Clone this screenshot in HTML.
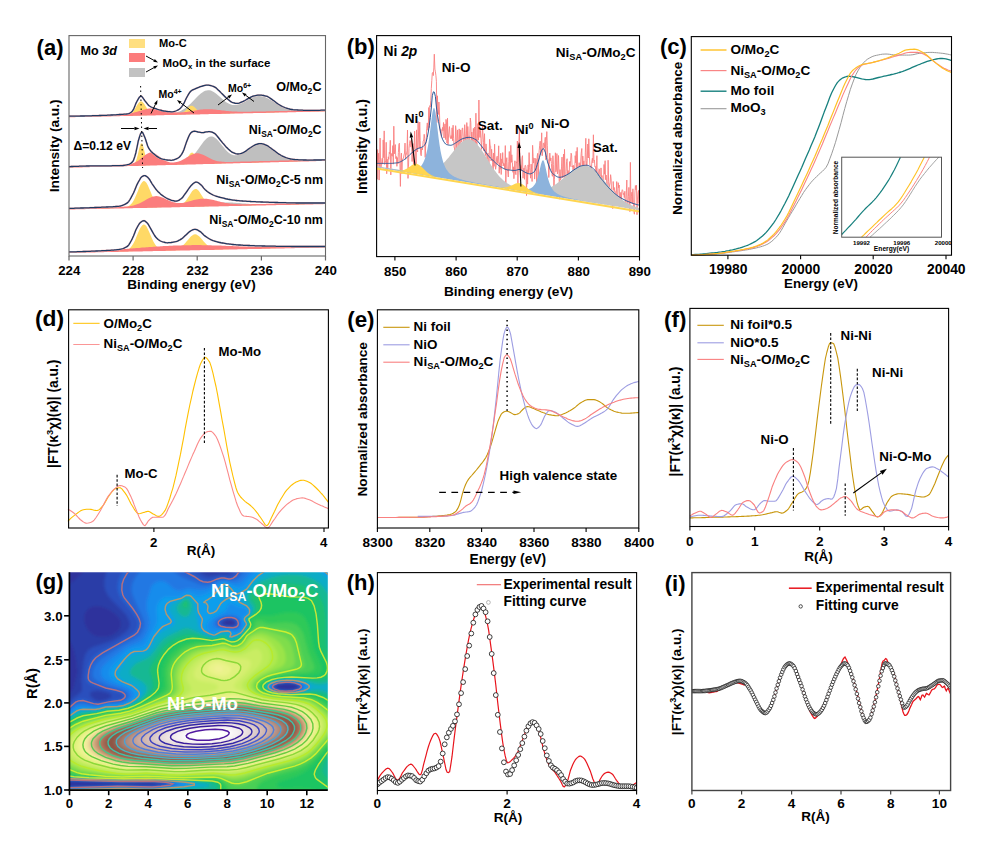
<!DOCTYPE html>
<html><head><meta charset="utf-8"><title>Figure</title>
<style>
html,body{margin:0;padding:0;background:#fff;}
svg{display:block;}
svg text{font-family:'Liberation Sans', sans-serif;}
</style></head><body>
<svg width="1005" height="841" viewBox="0 0 1005 841">
<rect x="0" y="0" width="1005" height="841" fill="#fff"/>
<g id="panel_a">
<polygon points="69,116.4 70.4,116.4 71.9,116.3 73.3,116.3 74.7,116.3 76.2,116.2 77.6,116.2 79,116.2 80.5,116.1 81.9,116.1 83.3,116.1 84.8,116 86.2,116 87.6,116 89.1,115.9 90.5,115.9 91.9,115.9 93.4,115.8 94.8,115.8 96.2,115.8 97.7,115.8 99.1,115.7 100.5,115.7 102,115.7 103.4,115.6 104.8,115.6 106.3,115.6 107.7,115.5 109.1,115.5 110.6,115.5 112,115.4 113.4,115.4 114.9,115.4 116.3,115.3 117.7,115.3 119.2,115.3 120.6,115.2 122,115.2 123.5,115.2 124.9,115.1 126.3,115.1 127.8,115.1 129.2,115 130.6,115 132.1,115 133.5,114.9 134.9,114.9 136.3,114.9 137.8,114.8 139.2,114.8 140.6,114.8 142.1,114.7 143.5,114.7 144.9,114.7 146.4,114.6 147.8,114.6 149.2,114.6 150.7,114.6 152.1,114.5 153.5,114.5 155,114.4 156.4,114.4 157.8,114.4 159.3,114.3 160.7,114.3 162.1,114.2 163.6,114.2 165,114.1 166.4,114 167.9,113.9 169.3,113.8 170.7,113.6 172.2,113.4 173.6,113.1 175,112.8 176.5,112.5 177.9,112 179.3,111.5 180.8,110.9 182.2,110.1 183.6,109.3 185.1,108.3 186.5,107.3 187.9,106.1 189.4,104.8 190.8,103.4 192.2,102 193.7,100.5 195.1,99 196.5,97.5 198,96 199.4,94.7 200.8,93.4 202.3,92.4 203.7,91.5 205.1,90.8 206.6,90.4 208,90.2 209.4,90.3 210.9,90.6 212.3,91.2 213.7,91.9 215.2,92.9 216.6,94 218,95.2 219.5,96.5 220.9,97.8 222.3,99 223.8,100.3 225.2,101.4 226.6,102.4 228.1,103.3 229.5,104 230.9,104.5 232.4,104.9 233.8,105.1 235.2,105.1 236.7,104.9 238.1,104.6 239.5,104.2 241,103.6 242.4,102.9 243.8,102.2 245.3,101.4 246.7,100.6 248.1,99.8 249.6,99 251,98.3 252.4,97.6 253.9,97.1 255.3,96.6 256.7,96.3 258.2,96.1 259.6,96.1 261,96.2 262.4,96.4 263.9,96.8 265.3,97.3 266.7,97.9 268.2,98.6 269.6,99.4 271,100.2 272.5,101.1 273.9,102 275.3,102.9 276.8,103.8 278.2,104.6 279.6,105.4 281.1,106.2 282.5,106.9 283.9,107.5 285.4,108.1 286.8,108.6 288.2,109.1 289.7,109.4 291.1,109.8 292.5,110 294,110.3 295.4,110.4 296.8,110.6 298.3,110.7 299.7,110.8 301.1,110.8 302.6,110.9 304,110.9 305.4,110.9 306.9,110.9 308.3,110.9 309.7,110.9 311.2,110.9 312.6,110.9 314,110.8 315.5,110.8 316.9,110.8 318.3,110.8 319.8,110.7 321.2,110.7 322.6,110.7 324.1,110.6 325.5,110.6 325.5,111.1 324.1,111.1 322.6,111.2 321.2,111.2 319.8,111.2 318.3,111.3 316.9,111.3 315.5,111.3 314,111.4 312.6,111.4 311.2,111.4 309.7,111.5 308.3,111.5 306.9,111.5 305.4,111.6 304,111.6 302.6,111.6 301.1,111.7 299.7,111.7 298.3,111.7 296.8,111.7 295.4,111.8 294,111.8 292.5,111.8 291.1,111.9 289.7,111.9 288.2,111.9 286.8,112 285.4,112 283.9,112 282.5,112.1 281.1,112.1 279.6,112.1 278.2,112.2 276.8,112.2 275.3,112.2 273.9,112.3 272.5,112.3 271,112.3 269.6,112.4 268.2,112.4 266.7,112.4 265.3,112.5 263.9,112.5 262.4,112.5 261,112.6 259.6,112.6 258.2,112.6 256.7,112.7 255.3,112.7 253.9,112.7 252.4,112.8 251,112.8 249.6,112.8 248.1,112.8 246.7,112.9 245.3,112.9 243.8,112.9 242.4,113 241,113 239.5,113 238.1,113.1 236.7,113.1 235.2,113.1 233.8,113.2 232.4,113.2 230.9,113.2 229.5,113.3 228.1,113.3 226.6,113.3 225.2,113.4 223.8,113.4 222.3,113.4 220.9,113.5 219.5,113.5 218,113.5 216.6,113.6 215.2,113.6 213.7,113.6 212.3,113.7 210.9,113.7 209.4,113.7 208,113.8 206.6,113.8 205.1,113.8 203.7,113.9 202.3,113.9 200.8,113.9 199.4,114 198,114 196.5,114 195.1,114 193.7,114.1 192.2,114.1 190.8,114.1 189.4,114.2 187.9,114.2 186.5,114.2 185.1,114.3 183.6,114.3 182.2,114.3 180.8,114.4 179.3,114.4 177.9,114.4 176.5,114.5 175,114.5 173.6,114.5 172.2,114.6 170.7,114.6 169.3,114.6 167.9,114.7 166.4,114.7 165,114.7 163.6,114.8 162.1,114.8 160.7,114.8 159.3,114.9 157.8,114.9 156.4,114.9 155,115 153.5,115 152.1,115 150.7,115.1 149.2,115.1 147.8,115.1 146.4,115.2 144.9,115.2 143.5,115.2 142.1,115.2 140.6,115.3 139.2,115.3 137.8,115.3 136.3,115.4 134.9,115.4 133.5,115.4 132.1,115.5 130.6,115.5 129.2,115.5 127.8,115.6 126.3,115.6 124.9,115.6 123.5,115.7 122,115.7 120.6,115.7 119.2,115.8 117.7,115.8 116.3,115.8 114.9,115.9 113.4,115.9 112,115.9 110.6,116 109.1,116 107.7,116 106.3,116.1 104.8,116.1 103.4,116.1 102,116.2 100.5,116.2 99.1,116.2 97.7,116.3 96.2,116.3 94.8,116.3 93.4,116.3 91.9,116.4 90.5,116.4 89.1,116.4 87.6,116.5 86.2,116.5 84.8,116.5 83.3,116.6 81.9,116.6 80.5,116.6 79,116.7 77.6,116.7 76.2,116.7 74.7,116.8 73.3,116.8 71.9,116.8 70.4,116.9 69,116.9" fill="#bfbfbf" stroke="none" stroke-width="0" stroke-linejoin="round"/>
<polygon points="69,116.4 70.4,116.4 71.9,116.3 73.3,116.3 74.7,116.3 76.2,116.2 77.6,116.2 79,116.2 80.5,116.1 81.9,116.1 83.3,116.1 84.8,116 86.2,116 87.6,116 89.1,115.9 90.5,115.9 91.9,115.9 93.4,115.8 94.8,115.8 96.2,115.8 97.7,115.8 99.1,115.7 100.5,115.7 102,115.7 103.4,115.6 104.8,115.6 106.3,115.6 107.7,115.5 109.1,115.5 110.6,115.5 112,115.4 113.4,115.4 114.9,115.4 116.3,115.3 117.7,115.3 119.2,115.3 120.6,115.2 122,115.2 123.5,115.2 124.9,115.1 126.3,115 127.8,114.8 129.2,114.4 130.6,113.7 132.1,112.6 133.5,111 134.9,108.9 136.3,106.4 137.8,104.1 139.2,102.2 140.6,101.3 142.1,101.6 143.5,102.9 144.9,105.1 146.4,107.4 147.8,109.7 149.2,111.5 150.7,112.8 152.1,113.6 153.5,114 155,114.3 156.4,114.3 157.8,114.4 159.3,114.3 160.7,114.3 162.1,114.3 163.6,114.3 165,114.2 166.4,114.2 167.9,114.2 169.3,114.1 170.7,114.1 172.2,114.1 173.6,114 175,114 176.5,113.9 177.9,113.9 179.3,113.7 180.8,113.4 182.2,112.9 183.6,112.1 185.1,110.9 186.5,109.4 187.9,107.9 189.4,106.5 190.8,105.7 192.2,105.7 193.7,106.5 195.1,107.7 196.5,109.2 198,110.6 199.4,111.7 200.8,112.5 202.3,112.9 203.7,113.2 205.1,113.2 206.6,113.3 208,113.2 209.4,113.2 210.9,113.2 212.3,113.2 213.7,113.1 215.2,113.1 216.6,113.1 218,113 219.5,113 220.9,113 222.3,112.9 223.8,112.9 225.2,112.9 226.6,112.8 228.1,112.8 229.5,112.8 230.9,112.7 232.4,112.7 233.8,112.7 235.2,112.6 236.7,112.6 238.1,112.6 239.5,112.5 241,112.5 242.4,112.5 243.8,112.4 245.3,112.4 246.7,112.4 248.1,112.3 249.6,112.3 251,112.3 252.4,112.3 253.9,112.2 255.3,112.2 256.7,112.2 258.2,112.1 259.6,112.1 261,112.1 262.4,112 263.9,112 265.3,112 266.7,111.9 268.2,111.9 269.6,111.9 271,111.8 272.5,111.8 273.9,111.8 275.3,111.7 276.8,111.7 278.2,111.7 279.6,111.6 281.1,111.6 282.5,111.6 283.9,111.5 285.4,111.5 286.8,111.5 288.2,111.4 289.7,111.4 291.1,111.4 292.5,111.3 294,111.3 295.4,111.3 296.8,111.2 298.3,111.2 299.7,111.2 301.1,111.2 302.6,111.1 304,111.1 305.4,111.1 306.9,111 308.3,111 309.7,111 311.2,110.9 312.6,110.9 314,110.9 315.5,110.8 316.9,110.8 318.3,110.8 319.8,110.7 321.2,110.7 322.6,110.7 324.1,110.6 325.5,110.6 325.5,111.1 324.1,111.1 322.6,111.2 321.2,111.2 319.8,111.2 318.3,111.3 316.9,111.3 315.5,111.3 314,111.4 312.6,111.4 311.2,111.4 309.7,111.5 308.3,111.5 306.9,111.5 305.4,111.6 304,111.6 302.6,111.6 301.1,111.7 299.7,111.7 298.3,111.7 296.8,111.7 295.4,111.8 294,111.8 292.5,111.8 291.1,111.9 289.7,111.9 288.2,111.9 286.8,112 285.4,112 283.9,112 282.5,112.1 281.1,112.1 279.6,112.1 278.2,112.2 276.8,112.2 275.3,112.2 273.9,112.3 272.5,112.3 271,112.3 269.6,112.4 268.2,112.4 266.7,112.4 265.3,112.5 263.9,112.5 262.4,112.5 261,112.6 259.6,112.6 258.2,112.6 256.7,112.7 255.3,112.7 253.9,112.7 252.4,112.8 251,112.8 249.6,112.8 248.1,112.8 246.7,112.9 245.3,112.9 243.8,112.9 242.4,113 241,113 239.5,113 238.1,113.1 236.7,113.1 235.2,113.1 233.8,113.2 232.4,113.2 230.9,113.2 229.5,113.3 228.1,113.3 226.6,113.3 225.2,113.4 223.8,113.4 222.3,113.4 220.9,113.5 219.5,113.5 218,113.5 216.6,113.6 215.2,113.6 213.7,113.6 212.3,113.7 210.9,113.7 209.4,113.7 208,113.8 206.6,113.8 205.1,113.8 203.7,113.9 202.3,113.9 200.8,113.9 199.4,114 198,114 196.5,114 195.1,114 193.7,114.1 192.2,114.1 190.8,114.1 189.4,114.2 187.9,114.2 186.5,114.2 185.1,114.3 183.6,114.3 182.2,114.3 180.8,114.4 179.3,114.4 177.9,114.4 176.5,114.5 175,114.5 173.6,114.5 172.2,114.6 170.7,114.6 169.3,114.6 167.9,114.7 166.4,114.7 165,114.7 163.6,114.8 162.1,114.8 160.7,114.8 159.3,114.9 157.8,114.9 156.4,114.9 155,115 153.5,115 152.1,115 150.7,115.1 149.2,115.1 147.8,115.1 146.4,115.2 144.9,115.2 143.5,115.2 142.1,115.2 140.6,115.3 139.2,115.3 137.8,115.3 136.3,115.4 134.9,115.4 133.5,115.4 132.1,115.5 130.6,115.5 129.2,115.5 127.8,115.6 126.3,115.6 124.9,115.6 123.5,115.7 122,115.7 120.6,115.7 119.2,115.8 117.7,115.8 116.3,115.8 114.9,115.9 113.4,115.9 112,115.9 110.6,116 109.1,116 107.7,116 106.3,116.1 104.8,116.1 103.4,116.1 102,116.2 100.5,116.2 99.1,116.2 97.7,116.3 96.2,116.3 94.8,116.3 93.4,116.3 91.9,116.4 90.5,116.4 89.1,116.4 87.6,116.5 86.2,116.5 84.8,116.5 83.3,116.6 81.9,116.6 80.5,116.6 79,116.7 77.6,116.7 76.2,116.7 74.7,116.8 73.3,116.8 71.9,116.8 70.4,116.9 69,116.9" fill="#ffd966" stroke="none" stroke-width="0" stroke-linejoin="round"/>
<polygon points="69,115.8 70.4,115.8 71.9,115.7 73.3,115.7 74.7,115.7 76.2,115.6 77.6,115.6 79,115.6 80.5,115.5 81.9,115.5 83.3,115.5 84.8,115.4 86.2,115.4 87.6,115.4 89.1,115.3 90.5,115.3 91.9,115.3 93.4,115.2 94.8,115.2 96.2,115.2 97.7,115.2 99.1,115.1 100.5,115.1 102,115.1 103.4,115 104.8,115 106.3,115 107.7,114.9 109.1,114.9 110.6,114.8 112,114.8 113.4,114.8 114.9,114.7 116.3,114.7 117.7,114.6 119.2,114.5 120.6,114.5 122,114.4 123.5,114.2 124.9,114.1 126.3,113.9 127.8,113.8 129.2,113.5 130.6,113.3 132.1,113 133.5,112.7 134.9,112.3 136.3,111.9 137.8,111.5 139.2,111.1 140.6,110.7 142.1,110.2 143.5,109.8 144.9,109.5 146.4,109.1 147.8,108.8 149.2,108.6 150.7,108.5 152.1,108.4 153.5,108.4 155,108.5 156.4,108.7 157.8,108.9 159.3,109.2 160.7,109.5 162.1,109.8 163.6,110.2 165,110.5 166.4,110.9 167.9,111.2 169.3,111.5 170.7,111.8 172.2,112 173.6,112.1 175,112.3 176.5,112.4 177.9,112.4 179.3,112.4 180.8,112.4 182.2,112.3 183.6,112.2 185.1,112 186.5,111.9 187.9,111.7 189.4,111.5 190.8,111.2 192.2,111 193.7,110.7 195.1,110.5 196.5,110.3 198,110 199.4,109.8 200.8,109.6 202.3,109.5 203.7,109.3 205.1,109.3 206.6,109.2 208,109.2 209.4,109.2 210.9,109.2 212.3,109.3 213.7,109.4 215.2,109.5 216.6,109.7 218,109.9 219.5,110 220.9,110.2 222.3,110.4 223.8,110.6 225.2,110.8 226.6,110.9 228.1,111.1 229.5,111.2 230.9,111.3 232.4,111.4 233.8,111.5 235.2,111.6 236.7,111.6 238.1,111.7 239.5,111.7 241,111.7 242.4,111.7 243.8,111.7 245.3,111.7 246.7,111.7 248.1,111.7 249.6,111.7 251,111.7 252.4,111.6 253.9,111.6 255.3,111.6 256.7,111.5 258.2,111.5 259.6,111.5 261,111.5 262.4,111.4 263.9,111.4 265.3,111.4 266.7,111.3 268.2,111.3 269.6,111.3 271,111.2 272.5,111.2 273.9,111.2 275.3,111.1 276.8,111.1 278.2,111.1 279.6,111 281.1,111 282.5,111 283.9,110.9 285.4,110.9 286.8,110.9 288.2,110.8 289.7,110.8 291.1,110.8 292.5,110.7 294,110.7 295.4,110.7 296.8,110.6 298.3,110.6 299.7,110.6 301.1,110.6 302.6,110.5 304,110.5 305.4,110.5 306.9,110.4 308.3,110.4 309.7,110.4 311.2,110.3 312.6,110.3 314,110.3 315.5,110.2 316.9,110.2 318.3,110.2 319.8,110.1 321.2,110.1 322.6,110.1 324.1,110 325.5,110 325.5,111.5 324.1,111.5 322.6,111.6 321.2,111.6 319.8,111.6 318.3,111.7 316.9,111.7 315.5,111.7 314,111.8 312.6,111.8 311.2,111.8 309.7,111.9 308.3,111.9 306.9,111.9 305.4,112 304,112 302.6,112 301.1,112.1 299.7,112.1 298.3,112.1 296.8,112.1 295.4,112.2 294,112.2 292.5,112.2 291.1,112.3 289.7,112.3 288.2,112.3 286.8,112.4 285.4,112.4 283.9,112.4 282.5,112.5 281.1,112.5 279.6,112.5 278.2,112.6 276.8,112.6 275.3,112.6 273.9,112.7 272.5,112.7 271,112.7 269.6,112.8 268.2,112.8 266.7,112.8 265.3,112.9 263.9,112.9 262.4,112.9 261,113 259.6,113 258.2,113 256.7,113.1 255.3,113.1 253.9,113.1 252.4,113.2 251,113.2 249.6,113.2 248.1,113.2 246.7,113.3 245.3,113.3 243.8,113.3 242.4,113.4 241,113.4 239.5,113.4 238.1,113.5 236.7,113.5 235.2,113.5 233.8,113.6 232.4,113.6 230.9,113.6 229.5,113.7 228.1,113.7 226.6,113.7 225.2,113.8 223.8,113.8 222.3,113.8 220.9,113.9 219.5,113.9 218,113.9 216.6,114 215.2,114 213.7,114 212.3,114.1 210.9,114.1 209.4,114.1 208,114.2 206.6,114.2 205.1,114.2 203.7,114.3 202.3,114.3 200.8,114.3 199.4,114.4 198,114.4 196.5,114.4 195.1,114.4 193.7,114.5 192.2,114.5 190.8,114.5 189.4,114.6 187.9,114.6 186.5,114.6 185.1,114.7 183.6,114.7 182.2,114.7 180.8,114.8 179.3,114.8 177.9,114.8 176.5,114.9 175,114.9 173.6,114.9 172.2,115 170.7,115 169.3,115 167.9,115.1 166.4,115.1 165,115.1 163.6,115.2 162.1,115.2 160.7,115.2 159.3,115.3 157.8,115.3 156.4,115.3 155,115.4 153.5,115.4 152.1,115.4 150.7,115.5 149.2,115.5 147.8,115.5 146.4,115.6 144.9,115.6 143.5,115.6 142.1,115.6 140.6,115.7 139.2,115.7 137.8,115.7 136.3,115.8 134.9,115.8 133.5,115.8 132.1,115.9 130.6,115.9 129.2,115.9 127.8,116 126.3,116 124.9,116 123.5,116.1 122,116.1 120.6,116.1 119.2,116.2 117.7,116.2 116.3,116.2 114.9,116.3 113.4,116.3 112,116.3 110.6,116.4 109.1,116.4 107.7,116.4 106.3,116.5 104.8,116.5 103.4,116.5 102,116.6 100.5,116.6 99.1,116.6 97.7,116.7 96.2,116.7 94.8,116.7 93.4,116.7 91.9,116.8 90.5,116.8 89.1,116.8 87.6,116.9 86.2,116.9 84.8,116.9 83.3,117 81.9,117 80.5,117 79,117.1 77.6,117.1 76.2,117.1 74.7,117.2 73.3,117.2 71.9,117.2 70.4,117.3 69,117.3" fill="#fb7d7d" stroke="none" stroke-width="0" stroke-linejoin="round"/>
<polyline points="69,116.2 70.2,116.2 71.3,116.2 72.5,116.2 73.7,116.2 74.9,116.1 76,116.1 77.2,116.1 78.4,116.1 79.6,116.1 80.7,116 81.9,116 83.1,116 84.2,116 85.4,115.9 86.6,115.9 87.8,115.9 88.9,115.8 90.1,115.8 91.3,115.8 92.5,115.7 93.6,115.7 94.8,115.7 96,115.6 97.1,115.6 98.3,115.6 99.5,115.5 100.7,115.5 101.8,115.4 103,115.4 104.2,115.4 105.4,115.3 106.5,115.3 107.7,115.2 108.9,115.2 110,115.1 111.2,115 112.4,115 113.6,114.9 114.7,114.8 115.9,114.8 117.1,114.7 118.3,114.6 119.4,114.5 120.6,114.5 121.8,114.4 122.9,114.3 124.1,114.2 125.3,114.1 126.5,114 127.6,113.8 128.8,113.6 130,113 131.2,112.2 132.3,111.2 133.5,109.4 134.7,106.6 135.8,103.6 137,101.2 138.2,99.1 139.4,97.2 140.5,96.2 141.7,96.4 142.9,97.8 144,99.5 145.2,101.1 146.4,102.6 147.6,104.2 148.7,105.5 149.9,106.3 151.1,107 152.3,107.5 153.4,107.9 154.6,108.3 155.8,108.7 156.9,109.1 158.1,109.5 159.3,109.9 160.5,110.2 161.6,110.5 162.8,110.8 164,111 165.2,111.1 166.3,111.3 167.5,111.5 168.7,111.6 169.8,111.7 171,111.8 172.2,111.8 173.4,111.7 174.5,111.4 175.7,111 176.9,110.5 178.1,109.9 179.2,109.2 180.4,108.2 181.6,106.9 182.7,105.4 183.9,103.4 185.1,100.8 186.3,98.3 187.4,96.2 188.6,94.1 189.8,92.3 191,91 192.1,90.2 193.3,89.6 194.5,89.1 195.6,88.6 196.8,88.1 198,87.6 199.2,87.1 200.3,86.6 201.5,86.3 202.7,86 203.9,85.7 205,85.4 206.2,85.2 207.4,85.1 208.5,85.1 209.7,85.3 210.9,85.6 212.1,86 213.2,86.4 214.4,86.9 215.6,87.6 216.8,88.6 217.9,89.7 219.1,90.8 220.3,91.9 221.4,93.1 222.6,94.3 223.8,95.5 225,96.7 226.1,97.8 227.3,98.8 228.5,99.8 229.7,100.8 230.8,101.6 232,102.3 233.2,102.7 234.3,103 235.5,103.3 236.7,103.4 237.9,103.4 239,103.1 240.2,102.7 241.4,102.2 242.6,101.7 243.7,101.1 244.9,100.5 246.1,99.8 247.2,99.1 248.4,98.4 249.6,97.8 250.8,97.2 251.9,96.7 253.1,96.2 254.3,95.8 255.5,95.6 256.6,95.4 257.8,95.2 259,95.1 260.1,95.1 261.3,95.1 262.5,95.3 263.7,95.5 264.8,95.8 266,96.1 267.2,96.4 268.3,97 269.5,97.8 270.7,98.6 271.9,99.4 273,100.2 274.2,101.1 275.4,102 276.6,102.9 277.7,103.8 278.9,104.5 280.1,105.2 281.2,105.9 282.4,106.5 283.6,107 284.8,107.5 285.9,107.9 287.1,108.3 288.3,108.7 289.5,109 290.6,109.3 291.8,109.5 293,109.7 294.1,109.8 295.3,109.8 296.5,109.9 297.7,110 298.8,110.1 300,110.1 301.2,110.2 302.4,110.2 303.5,110.3 304.7,110.3 305.9,110.3 307,110.3 308.2,110.3 309.4,110.3 310.6,110.3 311.7,110.3 312.9,110.3 314.1,110.3 315.3,110.3 316.4,110.3 317.6,110.3 318.8,110.3 319.9,110.3 321.1,110.2 322.3,110.2 323.5,110.2 324.6,110.2 325.8,110.1" fill="none" stroke="#f8bcbc" stroke-width="1.8" stroke-linejoin="round"/>
<polyline points="69,116.2 70.2,116.2 71.3,116.2 72.5,116.2 73.7,116.2 74.9,116.1 76,116.1 77.2,116.1 78.4,116.1 79.6,116.1 80.7,116 81.9,116 83.1,116 84.2,116 85.4,115.9 86.6,115.9 87.8,115.9 88.9,115.8 90.1,115.8 91.3,115.8 92.5,115.7 93.6,115.7 94.8,115.7 96,115.6 97.1,115.6 98.3,115.6 99.5,115.5 100.7,115.5 101.8,115.4 103,115.4 104.2,115.4 105.4,115.3 106.5,115.3 107.7,115.2 108.9,115.2 110,115.1 111.2,115 112.4,115 113.6,114.9 114.7,114.8 115.9,114.8 117.1,114.7 118.3,114.6 119.4,114.5 120.6,114.5 121.8,114.4 122.9,114.3 124.1,114.2 125.3,114.1 126.5,114 127.6,113.8 128.8,113.6 130,113 131.2,112.2 132.3,111.2 133.5,109.4 134.7,106.6 135.8,103.6 137,101.2 138.2,99.1 139.4,97.2 140.5,96.2 141.7,96.4 142.9,97.8 144,99.5 145.2,101.1 146.4,102.6 147.6,104.2 148.7,105.5 149.9,106.3 151.1,107 152.3,107.5 153.4,107.9 154.6,108.3 155.8,108.7 156.9,109.1 158.1,109.5 159.3,109.9 160.5,110.2 161.6,110.5 162.8,110.8 164,111 165.2,111.1 166.3,111.3 167.5,111.5 168.7,111.6 169.8,111.7 171,111.8 172.2,111.8 173.4,111.7 174.5,111.4 175.7,111 176.9,110.5 178.1,109.9 179.2,109.2 180.4,108.2 181.6,106.9 182.7,105.4 183.9,103.4 185.1,100.8 186.3,98.3 187.4,96.2 188.6,94.1 189.8,92.3 191,91 192.1,90.2 193.3,89.6 194.5,89.1 195.6,88.6 196.8,88.1 198,87.6 199.2,87.1 200.3,86.6 201.5,86.3 202.7,86 203.9,85.7 205,85.4 206.2,85.2 207.4,85.1 208.5,85.1 209.7,85.3 210.9,85.6 212.1,86 213.2,86.4 214.4,86.9 215.6,87.6 216.8,88.6 217.9,89.7 219.1,90.8 220.3,91.9 221.4,93.1 222.6,94.3 223.8,95.5 225,96.7 226.1,97.8 227.3,98.8 228.5,99.8 229.7,100.8 230.8,101.6 232,102.3 233.2,102.7 234.3,103 235.5,103.3 236.7,103.4 237.9,103.4 239,103.1 240.2,102.7 241.4,102.2 242.6,101.7 243.7,101.1 244.9,100.5 246.1,99.8 247.2,99.1 248.4,98.4 249.6,97.8 250.8,97.2 251.9,96.7 253.1,96.2 254.3,95.8 255.5,95.6 256.6,95.4 257.8,95.2 259,95.1 260.1,95.1 261.3,95.1 262.5,95.3 263.7,95.5 264.8,95.8 266,96.1 267.2,96.4 268.3,97 269.5,97.8 270.7,98.6 271.9,99.4 273,100.2 274.2,101.1 275.4,102 276.6,102.9 277.7,103.8 278.9,104.5 280.1,105.2 281.2,105.9 282.4,106.5 283.6,107 284.8,107.5 285.9,107.9 287.1,108.3 288.3,108.7 289.5,109 290.6,109.3 291.8,109.5 293,109.7 294.1,109.8 295.3,109.8 296.5,109.9 297.7,110 298.8,110.1 300,110.1 301.2,110.2 302.4,110.2 303.5,110.3 304.7,110.3 305.9,110.3 307,110.3 308.2,110.3 309.4,110.3 310.6,110.3 311.7,110.3 312.9,110.3 314.1,110.3 315.3,110.3 316.4,110.3 317.6,110.3 318.8,110.3 319.9,110.3 321.1,110.2 322.3,110.2 323.5,110.2 324.6,110.2 325.8,110.1" fill="none" stroke="#1f3b63" stroke-width="1.3" stroke-linejoin="round"/>
<polygon points="69,166.8 70.4,166.8 71.9,166.7 73.3,166.7 74.7,166.6 76.2,166.6 77.6,166.6 79,166.5 80.5,166.5 81.9,166.5 83.3,166.4 84.8,166.4 86.2,166.3 87.6,166.3 89.1,166.3 90.5,166.2 91.9,166.2 93.4,166.2 94.8,166.1 96.2,166.1 97.7,166 99.1,166 100.5,166 102,165.9 103.4,165.9 104.8,165.9 106.3,165.8 107.7,165.8 109.1,165.7 110.6,165.7 112,165.7 113.4,165.6 114.9,165.6 116.3,165.5 117.7,165.5 119.2,165.5 120.6,165.4 122,165.4 123.5,165.4 124.9,165.3 126.3,165.3 127.8,165.2 129.2,165.2 130.6,165.2 132.1,165.1 133.5,165.1 134.9,165.1 136.3,165 137.8,165 139.2,164.9 140.6,164.9 142.1,164.9 143.5,164.8 144.9,164.8 146.4,164.7 147.8,164.7 149.2,164.7 150.7,164.6 152.1,164.6 153.5,164.6 155,164.5 156.4,164.5 157.8,164.4 159.3,164.4 160.7,164.4 162.1,164.3 163.6,164.3 165,164.2 166.4,164.2 167.9,164.2 169.3,164.1 170.7,164 172.2,164 173.6,163.9 175,163.8 176.5,163.7 177.9,163.5 179.3,163.3 180.8,163 182.2,162.6 183.6,162.2 185.1,161.6 186.5,160.9 187.9,160.1 189.4,159.1 190.8,157.9 192.2,156.5 193.7,155 195.1,153.3 196.5,151.4 198,149.4 199.4,147.4 200.8,145.4 202.3,143.4 203.7,141.6 205.1,139.9 206.6,138.5 208,137.5 209.4,136.8 210.9,136.5 212.3,136.6 213.7,137.1 215.2,138 216.6,139.1 218,140.6 219.5,142.2 220.9,144 222.3,145.8 223.8,147.6 225.2,149.3 226.6,150.8 228.1,152.2 229.5,153.3 230.9,154.2 232.4,154.8 233.8,155.2 235.2,155.3 236.7,155.2 238.1,154.9 239.5,154.4 241,153.8 242.4,153 243.8,152.1 245.3,151.1 246.7,150.1 248.1,149 249.6,148 251,147.1 252.4,146.2 253.9,145.4 255.3,144.8 256.7,144.3 258.2,143.9 259.6,143.8 261,143.8 262.4,143.9 263.9,144.3 265.3,144.8 266.7,145.4 268.2,146.2 269.6,147 271,148 272.5,149 273.9,150 275.3,151 276.8,152.1 278.2,153.1 279.6,154 281.1,154.9 282.5,155.7 283.9,156.5 285.4,157.2 286.8,157.8 288.2,158.3 289.7,158.7 291.1,159.1 292.5,159.4 294,159.7 295.4,159.9 296.8,160 298.3,160.2 299.7,160.3 301.1,160.3 302.6,160.4 304,160.4 305.4,160.4 306.9,160.4 308.3,160.4 309.7,160.4 311.2,160.3 312.6,160.3 314,160.3 315.5,160.3 316.9,160.2 318.3,160.2 319.8,160.1 321.2,160.1 322.6,160.1 324.1,160 325.5,160 325.5,160.5 324.1,160.5 322.6,160.6 321.2,160.6 319.8,160.7 318.3,160.7 316.9,160.7 315.5,160.8 314,160.8 312.6,160.8 311.2,160.9 309.7,160.9 308.3,161 306.9,161 305.4,161 304,161.1 302.6,161.1 301.1,161.1 299.7,161.2 298.3,161.2 296.8,161.3 295.4,161.3 294,161.3 292.5,161.4 291.1,161.4 289.7,161.4 288.2,161.5 286.8,161.5 285.4,161.6 283.9,161.6 282.5,161.6 281.1,161.7 279.6,161.7 278.2,161.8 276.8,161.8 275.3,161.8 273.9,161.9 272.5,161.9 271,161.9 269.6,162 268.2,162 266.7,162.1 265.3,162.1 263.9,162.1 262.4,162.2 261,162.2 259.6,162.2 258.2,162.3 256.7,162.3 255.3,162.4 253.9,162.4 252.4,162.4 251,162.5 249.6,162.5 248.1,162.6 246.7,162.6 245.3,162.6 243.8,162.7 242.4,162.7 241,162.7 239.5,162.8 238.1,162.8 236.7,162.9 235.2,162.9 233.8,162.9 232.4,163 230.9,163 229.5,163 228.1,163.1 226.6,163.1 225.2,163.2 223.8,163.2 222.3,163.2 220.9,163.3 219.5,163.3 218,163.3 216.6,163.4 215.2,163.4 213.7,163.5 212.3,163.5 210.9,163.5 209.4,163.6 208,163.6 206.6,163.7 205.1,163.7 203.7,163.7 202.3,163.8 200.8,163.8 199.4,163.8 198,163.9 196.5,163.9 195.1,164 193.7,164 192.2,164 190.8,164.1 189.4,164.1 187.9,164.1 186.5,164.2 185.1,164.2 183.6,164.3 182.2,164.3 180.8,164.3 179.3,164.4 177.9,164.4 176.5,164.5 175,164.5 173.6,164.5 172.2,164.6 170.7,164.6 169.3,164.6 167.9,164.7 166.4,164.7 165,164.8 163.6,164.8 162.1,164.8 160.7,164.9 159.3,164.9 157.8,164.9 156.4,165 155,165 153.5,165.1 152.1,165.1 150.7,165.1 149.2,165.2 147.8,165.2 146.4,165.2 144.9,165.3 143.5,165.3 142.1,165.4 140.6,165.4 139.2,165.4 137.8,165.5 136.3,165.5 134.9,165.6 133.5,165.6 132.1,165.6 130.6,165.7 129.2,165.7 127.8,165.7 126.3,165.8 124.9,165.8 123.5,165.9 122,165.9 120.6,165.9 119.2,166 117.7,166 116.3,166 114.9,166.1 113.4,166.1 112,166.2 110.6,166.2 109.1,166.2 107.7,166.3 106.3,166.3 104.8,166.4 103.4,166.4 102,166.4 100.5,166.5 99.1,166.5 97.7,166.5 96.2,166.6 94.8,166.6 93.4,166.7 91.9,166.7 90.5,166.7 89.1,166.8 87.6,166.8 86.2,166.8 84.8,166.9 83.3,166.9 81.9,167 80.5,167 79,167 77.6,167.1 76.2,167.1 74.7,167.1 73.3,167.2 71.9,167.2 70.4,167.3 69,167.3" fill="#bfbfbf" stroke="none" stroke-width="0" stroke-linejoin="round"/>
<polygon points="69,166.8 70.4,166.8 71.9,166.7 73.3,166.7 74.7,166.6 76.2,166.6 77.6,166.6 79,166.5 80.5,166.5 81.9,166.5 83.3,166.4 84.8,166.4 86.2,166.3 87.6,166.3 89.1,166.3 90.5,166.2 91.9,166.2 93.4,166.2 94.8,166.1 96.2,166.1 97.7,166 99.1,166 100.5,166 102,165.9 103.4,165.9 104.8,165.9 106.3,165.8 107.7,165.8 109.1,165.7 110.6,165.7 112,165.7 113.4,165.6 114.9,165.6 116.3,165.5 117.7,165.5 119.2,165.5 120.6,165.4 122,165.4 123.5,165.4 124.9,165.3 126.3,165.3 127.8,165.2 129.2,165.2 130.6,165.1 132.1,165 133.5,164.5 134.9,163.1 136.3,160 137.8,154.8 139.2,148.5 140.6,143.8 142.1,143.3 143.5,147.3 144.9,153.4 146.4,158.9 147.8,162.3 149.2,163.9 150.7,164.4 152.1,164.6 153.5,164.6 155,164.5 156.4,164.5 157.8,164.4 159.3,164.4 160.7,164.4 162.1,164.3 163.6,164.3 165,164.3 166.4,164.2 167.9,164.2 169.3,164.1 170.7,164.1 172.2,164.1 173.6,164 175,164 176.5,163.9 177.9,163.9 179.3,163.8 180.8,163.6 182.2,163.3 183.6,162.5 185.1,161.3 186.5,159.4 187.9,157.1 189.4,154.7 190.8,153.1 192.2,152.6 193.7,153.4 195.1,155.3 196.5,157.6 198,159.8 199.4,161.4 200.8,162.3 202.3,162.9 203.7,163.1 205.1,163.1 206.6,163.1 208,163.1 209.4,163.1 210.9,163 212.3,163 213.7,163 215.2,162.9 216.6,162.9 218,162.8 219.5,162.8 220.9,162.8 222.3,162.7 223.8,162.7 225.2,162.7 226.6,162.6 228.1,162.6 229.5,162.5 230.9,162.5 232.4,162.5 233.8,162.4 235.2,162.4 236.7,162.4 238.1,162.3 239.5,162.3 241,162.2 242.4,162.2 243.8,162.2 245.3,162.1 246.7,162.1 248.1,162.1 249.6,162 251,162 252.4,161.9 253.9,161.9 255.3,161.9 256.7,161.8 258.2,161.8 259.6,161.7 261,161.7 262.4,161.7 263.9,161.6 265.3,161.6 266.7,161.6 268.2,161.5 269.6,161.5 271,161.4 272.5,161.4 273.9,161.4 275.3,161.3 276.8,161.3 278.2,161.3 279.6,161.2 281.1,161.2 282.5,161.1 283.9,161.1 285.4,161.1 286.8,161 288.2,161 289.7,160.9 291.1,160.9 292.5,160.9 294,160.8 295.4,160.8 296.8,160.8 298.3,160.7 299.7,160.7 301.1,160.6 302.6,160.6 304,160.6 305.4,160.5 306.9,160.5 308.3,160.5 309.7,160.4 311.2,160.4 312.6,160.3 314,160.3 315.5,160.3 316.9,160.2 318.3,160.2 319.8,160.2 321.2,160.1 322.6,160.1 324.1,160 325.5,160 325.5,160.5 324.1,160.5 322.6,160.6 321.2,160.6 319.8,160.7 318.3,160.7 316.9,160.7 315.5,160.8 314,160.8 312.6,160.8 311.2,160.9 309.7,160.9 308.3,161 306.9,161 305.4,161 304,161.1 302.6,161.1 301.1,161.1 299.7,161.2 298.3,161.2 296.8,161.3 295.4,161.3 294,161.3 292.5,161.4 291.1,161.4 289.7,161.4 288.2,161.5 286.8,161.5 285.4,161.6 283.9,161.6 282.5,161.6 281.1,161.7 279.6,161.7 278.2,161.8 276.8,161.8 275.3,161.8 273.9,161.9 272.5,161.9 271,161.9 269.6,162 268.2,162 266.7,162.1 265.3,162.1 263.9,162.1 262.4,162.2 261,162.2 259.6,162.2 258.2,162.3 256.7,162.3 255.3,162.4 253.9,162.4 252.4,162.4 251,162.5 249.6,162.5 248.1,162.6 246.7,162.6 245.3,162.6 243.8,162.7 242.4,162.7 241,162.7 239.5,162.8 238.1,162.8 236.7,162.9 235.2,162.9 233.8,162.9 232.4,163 230.9,163 229.5,163 228.1,163.1 226.6,163.1 225.2,163.2 223.8,163.2 222.3,163.2 220.9,163.3 219.5,163.3 218,163.3 216.6,163.4 215.2,163.4 213.7,163.5 212.3,163.5 210.9,163.5 209.4,163.6 208,163.6 206.6,163.7 205.1,163.7 203.7,163.7 202.3,163.8 200.8,163.8 199.4,163.8 198,163.9 196.5,163.9 195.1,164 193.7,164 192.2,164 190.8,164.1 189.4,164.1 187.9,164.1 186.5,164.2 185.1,164.2 183.6,164.3 182.2,164.3 180.8,164.3 179.3,164.4 177.9,164.4 176.5,164.5 175,164.5 173.6,164.5 172.2,164.6 170.7,164.6 169.3,164.6 167.9,164.7 166.4,164.7 165,164.8 163.6,164.8 162.1,164.8 160.7,164.9 159.3,164.9 157.8,164.9 156.4,165 155,165 153.5,165.1 152.1,165.1 150.7,165.1 149.2,165.2 147.8,165.2 146.4,165.2 144.9,165.3 143.5,165.3 142.1,165.4 140.6,165.4 139.2,165.4 137.8,165.5 136.3,165.5 134.9,165.6 133.5,165.6 132.1,165.6 130.6,165.7 129.2,165.7 127.8,165.7 126.3,165.8 124.9,165.8 123.5,165.9 122,165.9 120.6,165.9 119.2,166 117.7,166 116.3,166 114.9,166.1 113.4,166.1 112,166.2 110.6,166.2 109.1,166.2 107.7,166.3 106.3,166.3 104.8,166.4 103.4,166.4 102,166.4 100.5,166.5 99.1,166.5 97.7,166.5 96.2,166.6 94.8,166.6 93.4,166.7 91.9,166.7 90.5,166.7 89.1,166.8 87.6,166.8 86.2,166.8 84.8,166.9 83.3,166.9 81.9,167 80.5,167 79,167 77.6,167.1 76.2,167.1 74.7,167.1 73.3,167.2 71.9,167.2 70.4,167.3 69,167.3" fill="#ffd966" stroke="none" stroke-width="0" stroke-linejoin="round"/>
<polygon points="69,166.2 70.4,166.2 71.9,166.1 73.3,166.1 74.7,166 76.2,166 77.6,166 79,165.9 80.5,165.9 81.9,165.9 83.3,165.8 84.8,165.8 86.2,165.7 87.6,165.7 89.1,165.7 90.5,165.6 91.9,165.6 93.4,165.6 94.8,165.5 96.2,165.5 97.7,165.4 99.1,165.4 100.5,165.4 102,165.3 103.4,165.3 104.8,165.3 106.3,165.2 107.7,165.2 109.1,165.1 110.6,165.1 112,165.1 113.4,165 114.9,165 116.3,164.9 117.7,164.9 119.2,164.9 120.6,164.8 122,164.8 123.5,164.7 124.9,164.6 126.3,164.5 127.8,164.4 129.2,164.2 130.6,163.9 132.1,163.6 133.5,163.1 134.9,162.5 136.3,161.8 137.8,160.9 139.2,159.9 140.6,158.8 142.1,157.6 143.5,156.4 144.9,155.3 146.4,154.2 147.8,153.4 149.2,152.8 150.7,152.5 152.1,152.6 153.5,153 155,153.6 156.4,154.5 157.8,155.5 159.3,156.6 160.7,157.8 162.1,158.8 163.6,159.8 165,160.6 166.4,161.3 167.9,161.8 169.3,162.2 170.7,162.4 172.2,162.5 173.6,162.5 175,162.3 176.5,162.1 177.9,161.7 179.3,161.2 180.8,160.7 182.2,160 183.6,159.3 185.1,158.5 186.5,157.6 187.9,156.7 189.4,155.9 190.8,155.1 192.2,154.5 193.7,153.9 195.1,153.5 196.5,153.3 198,153.3 199.4,153.5 200.8,153.9 202.3,154.4 203.7,155 205.1,155.8 206.6,156.5 208,157.3 209.4,158.1 210.9,158.8 212.3,159.5 213.7,160 215.2,160.5 216.6,160.9 218,161.2 219.5,161.4 220.9,161.6 222.3,161.8 223.8,161.8 225.2,161.9 226.6,161.9 228.1,161.9 229.5,161.9 230.9,161.9 232.4,161.9 233.8,161.8 235.2,161.8 236.7,161.8 238.1,161.7 239.5,161.7 241,161.6 242.4,161.6 243.8,161.6 245.3,161.5 246.7,161.5 248.1,161.5 249.6,161.4 251,161.4 252.4,161.3 253.9,161.3 255.3,161.3 256.7,161.2 258.2,161.2 259.6,161.1 261,161.1 262.4,161.1 263.9,161 265.3,161 266.7,161 268.2,160.9 269.6,160.9 271,160.8 272.5,160.8 273.9,160.8 275.3,160.7 276.8,160.7 278.2,160.7 279.6,160.6 281.1,160.6 282.5,160.5 283.9,160.5 285.4,160.5 286.8,160.4 288.2,160.4 289.7,160.3 291.1,160.3 292.5,160.3 294,160.2 295.4,160.2 296.8,160.2 298.3,160.1 299.7,160.1 301.1,160 302.6,160 304,160 305.4,159.9 306.9,159.9 308.3,159.9 309.7,159.8 311.2,159.8 312.6,159.7 314,159.7 315.5,159.7 316.9,159.6 318.3,159.6 319.8,159.6 321.2,159.5 322.6,159.5 324.1,159.4 325.5,159.4 325.5,160.9 324.1,160.9 322.6,161 321.2,161 319.8,161.1 318.3,161.1 316.9,161.1 315.5,161.2 314,161.2 312.6,161.2 311.2,161.3 309.7,161.3 308.3,161.4 306.9,161.4 305.4,161.4 304,161.5 302.6,161.5 301.1,161.5 299.7,161.6 298.3,161.6 296.8,161.7 295.4,161.7 294,161.7 292.5,161.8 291.1,161.8 289.7,161.8 288.2,161.9 286.8,161.9 285.4,162 283.9,162 282.5,162 281.1,162.1 279.6,162.1 278.2,162.2 276.8,162.2 275.3,162.2 273.9,162.3 272.5,162.3 271,162.3 269.6,162.4 268.2,162.4 266.7,162.5 265.3,162.5 263.9,162.5 262.4,162.6 261,162.6 259.6,162.6 258.2,162.7 256.7,162.7 255.3,162.8 253.9,162.8 252.4,162.8 251,162.9 249.6,162.9 248.1,163 246.7,163 245.3,163 243.8,163.1 242.4,163.1 241,163.1 239.5,163.2 238.1,163.2 236.7,163.3 235.2,163.3 233.8,163.3 232.4,163.4 230.9,163.4 229.5,163.4 228.1,163.5 226.6,163.5 225.2,163.6 223.8,163.6 222.3,163.6 220.9,163.7 219.5,163.7 218,163.7 216.6,163.8 215.2,163.8 213.7,163.9 212.3,163.9 210.9,163.9 209.4,164 208,164 206.6,164.1 205.1,164.1 203.7,164.1 202.3,164.2 200.8,164.2 199.4,164.2 198,164.3 196.5,164.3 195.1,164.4 193.7,164.4 192.2,164.4 190.8,164.5 189.4,164.5 187.9,164.5 186.5,164.6 185.1,164.6 183.6,164.7 182.2,164.7 180.8,164.7 179.3,164.8 177.9,164.8 176.5,164.9 175,164.9 173.6,164.9 172.2,165 170.7,165 169.3,165 167.9,165.1 166.4,165.1 165,165.2 163.6,165.2 162.1,165.2 160.7,165.3 159.3,165.3 157.8,165.3 156.4,165.4 155,165.4 153.5,165.5 152.1,165.5 150.7,165.5 149.2,165.6 147.8,165.6 146.4,165.6 144.9,165.7 143.5,165.7 142.1,165.8 140.6,165.8 139.2,165.8 137.8,165.9 136.3,165.9 134.9,166 133.5,166 132.1,166 130.6,166.1 129.2,166.1 127.8,166.1 126.3,166.2 124.9,166.2 123.5,166.3 122,166.3 120.6,166.3 119.2,166.4 117.7,166.4 116.3,166.4 114.9,166.5 113.4,166.5 112,166.6 110.6,166.6 109.1,166.6 107.7,166.7 106.3,166.7 104.8,166.8 103.4,166.8 102,166.8 100.5,166.9 99.1,166.9 97.7,166.9 96.2,167 94.8,167 93.4,167.1 91.9,167.1 90.5,167.1 89.1,167.2 87.6,167.2 86.2,167.2 84.8,167.3 83.3,167.3 81.9,167.4 80.5,167.4 79,167.4 77.6,167.5 76.2,167.5 74.7,167.5 73.3,167.6 71.9,167.6 70.4,167.7 69,167.7" fill="#fb7d7d" stroke="none" stroke-width="0" stroke-linejoin="round"/>
<polyline points="69,166.6 70.2,166.6 71.3,166.5 72.5,166.5 73.7,166.4 74.9,166.4 76,166.3 77.2,166.3 78.4,166.3 79.6,166.2 80.7,166.2 81.9,166.2 83.1,166.1 84.2,166.1 85.4,166.1 86.6,166 87.8,166 88.9,166 90.1,165.9 91.3,165.9 92.5,165.9 93.6,165.9 94.8,165.9 96,165.8 97.1,165.8 98.3,165.8 99.5,165.8 100.7,165.8 101.8,165.8 103,165.8 104.2,165.8 105.4,165.8 106.5,165.8 107.7,165.8 108.9,165.8 110,165.8 111.2,165.8 112.4,165.7 113.6,165.7 114.7,165.7 115.9,165.7 117.1,165.7 118.3,165.7 119.4,165.7 120.6,165.7 121.8,165.6 122.9,165.5 124.1,165.3 125.3,165.1 126.5,164.9 127.6,164.6 128.8,164.3 130,163.8 131.2,163.1 132.3,162.1 133.5,160.3 134.7,156.9 135.8,153 137,147.3 138.2,141.3 139.4,137.3 140.5,133.9 141.7,132.1 142.9,132.9 144,135.4 145.2,138.3 146.4,142 147.6,145.8 148.7,148.2 149.9,149.9 151.1,151.4 152.3,152.5 153.4,153.6 154.6,154.6 155.8,155.5 156.9,156.4 158.1,157.1 159.3,157.8 160.5,158.4 161.6,158.8 162.8,159.1 164,159.3 165.2,159.6 166.3,159.8 167.5,160 168.7,160.1 169.8,160.2 171,160.3 172.2,160.2 173.4,160 174.5,159.6 175.7,159.2 176.9,158.6 178.1,158 179.2,157.2 180.4,156 181.6,154.3 182.7,152.4 183.9,149.7 185.1,146.1 186.3,142.6 187.4,139.7 188.6,136.8 189.8,134.3 191,132.7 192.1,131.9 193.3,131.4 194.5,131.2 195.6,131.4 196.8,131.7 198,132 199.2,132.2 200.3,132.4 201.5,132.6 202.7,132.7 203.9,132.5 205,132.2 206.2,131.9 207.4,131.8 208.5,131.7 209.7,131.6 210.9,131.8 212.1,132.2 213.2,132.7 214.4,133.3 215.6,134.3 216.8,135.6 217.9,137 219.1,138.5 220.3,140 221.4,141.3 222.6,142.8 223.8,144.2 225,145.6 226.1,146.9 227.3,148 228.5,149.2 229.7,150.3 230.8,151.3 232,152.1 233.2,152.7 234.3,153.1 235.5,153.6 236.7,153.9 237.9,154 239,153.9 240.2,153.7 241.4,153.3 242.6,152.8 243.7,152.3 244.9,151.7 246.1,150.9 247.2,150 248.4,149.1 249.6,148.3 250.8,147.5 251.9,146.7 253.1,146 254.3,145.3 255.5,144.7 256.6,144.3 257.8,144 259,143.7 260.1,143.6 261.3,143.6 262.5,143.8 263.7,144.2 264.8,144.6 266,145.1 267.2,145.6 268.3,146.3 269.5,147.2 270.7,148 271.9,148.9 273,149.8 274.2,150.6 275.4,151.5 276.6,152.4 277.7,153.3 278.9,154.1 280.1,154.8 281.2,155.5 282.4,156.1 283.6,156.7 284.8,157.2 285.9,157.6 287.1,158 288.3,158.4 289.5,158.7 290.6,159 291.8,159.2 293,159.4 294.1,159.5 295.3,159.6 296.5,159.6 297.7,159.7 298.8,159.8 300,159.9 301.2,159.9 302.4,159.9 303.5,160 304.7,160 305.9,160 307,160.1 308.2,160.1 309.4,160.1 310.6,160.1 311.7,160.1 312.9,160.1 314.1,160 315.3,160 316.4,160 317.6,160 318.8,160 319.9,160 321.1,160 322.3,159.9 323.5,159.9 324.6,159.9 325.8,159.8" fill="none" stroke="#f8bcbc" stroke-width="1.8" stroke-linejoin="round"/>
<polyline points="69,166.6 70.2,166.6 71.3,166.5 72.5,166.5 73.7,166.4 74.9,166.4 76,166.3 77.2,166.3 78.4,166.3 79.6,166.2 80.7,166.2 81.9,166.2 83.1,166.1 84.2,166.1 85.4,166.1 86.6,166 87.8,166 88.9,166 90.1,165.9 91.3,165.9 92.5,165.9 93.6,165.9 94.8,165.9 96,165.8 97.1,165.8 98.3,165.8 99.5,165.8 100.7,165.8 101.8,165.8 103,165.8 104.2,165.8 105.4,165.8 106.5,165.8 107.7,165.8 108.9,165.8 110,165.8 111.2,165.8 112.4,165.7 113.6,165.7 114.7,165.7 115.9,165.7 117.1,165.7 118.3,165.7 119.4,165.7 120.6,165.7 121.8,165.6 122.9,165.5 124.1,165.3 125.3,165.1 126.5,164.9 127.6,164.6 128.8,164.3 130,163.8 131.2,163.1 132.3,162.1 133.5,160.3 134.7,156.9 135.8,153 137,147.3 138.2,141.3 139.4,137.3 140.5,133.9 141.7,132.1 142.9,132.9 144,135.4 145.2,138.3 146.4,142 147.6,145.8 148.7,148.2 149.9,149.9 151.1,151.4 152.3,152.5 153.4,153.6 154.6,154.6 155.8,155.5 156.9,156.4 158.1,157.1 159.3,157.8 160.5,158.4 161.6,158.8 162.8,159.1 164,159.3 165.2,159.6 166.3,159.8 167.5,160 168.7,160.1 169.8,160.2 171,160.3 172.2,160.2 173.4,160 174.5,159.6 175.7,159.2 176.9,158.6 178.1,158 179.2,157.2 180.4,156 181.6,154.3 182.7,152.4 183.9,149.7 185.1,146.1 186.3,142.6 187.4,139.7 188.6,136.8 189.8,134.3 191,132.7 192.1,131.9 193.3,131.4 194.5,131.2 195.6,131.4 196.8,131.7 198,132 199.2,132.2 200.3,132.4 201.5,132.6 202.7,132.7 203.9,132.5 205,132.2 206.2,131.9 207.4,131.8 208.5,131.7 209.7,131.6 210.9,131.8 212.1,132.2 213.2,132.7 214.4,133.3 215.6,134.3 216.8,135.6 217.9,137 219.1,138.5 220.3,140 221.4,141.3 222.6,142.8 223.8,144.2 225,145.6 226.1,146.9 227.3,148 228.5,149.2 229.7,150.3 230.8,151.3 232,152.1 233.2,152.7 234.3,153.1 235.5,153.6 236.7,153.9 237.9,154 239,153.9 240.2,153.7 241.4,153.3 242.6,152.8 243.7,152.3 244.9,151.7 246.1,150.9 247.2,150 248.4,149.1 249.6,148.3 250.8,147.5 251.9,146.7 253.1,146 254.3,145.3 255.5,144.7 256.6,144.3 257.8,144 259,143.7 260.1,143.6 261.3,143.6 262.5,143.8 263.7,144.2 264.8,144.6 266,145.1 267.2,145.6 268.3,146.3 269.5,147.2 270.7,148 271.9,148.9 273,149.8 274.2,150.6 275.4,151.5 276.6,152.4 277.7,153.3 278.9,154.1 280.1,154.8 281.2,155.5 282.4,156.1 283.6,156.7 284.8,157.2 285.9,157.6 287.1,158 288.3,158.4 289.5,158.7 290.6,159 291.8,159.2 293,159.4 294.1,159.5 295.3,159.6 296.5,159.6 297.7,159.7 298.8,159.8 300,159.9 301.2,159.9 302.4,159.9 303.5,160 304.7,160 305.9,160 307,160.1 308.2,160.1 309.4,160.1 310.6,160.1 311.7,160.1 312.9,160.1 314.1,160 315.3,160 316.4,160 317.6,160 318.8,160 319.9,160 321.1,160 322.3,159.9 323.5,159.9 324.6,159.9 325.8,159.8" fill="none" stroke="#1f3b63" stroke-width="1.3" stroke-linejoin="round"/>
<polygon points="69,208.6 70.4,208.6 71.9,208.5 73.3,208.5 74.7,208.5 76.2,208.4 77.6,208.4 79,208.4 80.5,208.4 81.9,208.3 83.3,208.3 84.8,208.3 86.2,208.2 87.6,208.2 89.1,208.2 90.5,208.1 91.9,208.1 93.4,208.1 94.8,208.1 96.2,208 97.7,208 99.1,208 100.5,207.9 102,207.9 103.4,207.9 104.8,207.8 106.3,207.8 107.7,207.8 109.1,207.8 110.6,207.7 112,207.7 113.4,207.7 114.9,207.6 116.3,207.6 117.7,207.6 119.2,207.5 120.6,207.5 122,207.5 123.5,207.5 124.9,207.4 126.3,207.4 127.8,207.4 129.2,207.3 130.6,207.3 132.1,207.3 133.5,207.2 134.9,207.2 136.3,207.2 137.8,207.2 139.2,207.1 140.6,207.1 142.1,207.1 143.5,207 144.9,207 146.4,207 147.8,206.9 149.2,206.9 150.7,206.9 152.1,206.8 153.5,206.8 155,206.8 156.4,206.8 157.8,206.7 159.3,206.7 160.7,206.7 162.1,206.6 163.6,206.6 165,206.6 166.4,206.5 167.9,206.5 169.3,206.4 170.7,206.4 172.2,206.4 173.6,206.3 175,206.3 176.5,206.2 177.9,206.2 179.3,206.1 180.8,206 182.2,206 183.6,205.9 185.1,205.8 186.5,205.7 187.9,205.6 189.4,205.5 190.8,205.4 192.2,205.2 193.7,205.1 195.1,205 196.5,204.8 198,204.7 199.4,204.5 200.8,204.3 202.3,204.1 203.7,204 205.1,203.8 206.6,203.6 208,203.5 209.4,203.3 210.9,203.1 212.3,203 213.7,202.9 215.2,202.7 216.6,202.6 218,202.5 219.5,202.5 220.9,202.4 222.3,202.4 223.8,202.4 225.2,202.4 226.6,202.4 228.1,202.4 229.5,202.5 230.9,202.5 232.4,202.6 233.8,202.7 235.2,202.8 236.7,202.9 238.1,203 239.5,203.1 241,203.3 242.4,203.4 243.8,203.5 245.3,203.6 246.7,203.7 248.1,203.8 249.6,203.9 251,203.9 252.4,204 253.9,204.1 255.3,204.1 256.7,204.2 258.2,204.2 259.6,204.2 261,204.3 262.4,204.3 263.9,204.3 265.3,204.3 266.7,204.3 268.2,204.3 269.6,204.3 271,204.3 272.5,204.3 273.9,204.2 275.3,204.2 276.8,204.2 278.2,204.2 279.6,204.1 281.1,204.1 282.5,204.1 283.9,204.1 285.4,204 286.8,204 288.2,204 289.7,204 291.1,203.9 292.5,203.9 294,203.9 295.4,203.8 296.8,203.8 298.3,203.8 299.7,203.7 301.1,203.7 302.6,203.7 304,203.7 305.4,203.6 306.9,203.6 308.3,203.6 309.7,203.5 311.2,203.5 312.6,203.5 314,203.4 315.5,203.4 316.9,203.4 318.3,203.4 319.8,203.3 321.2,203.3 322.6,203.3 324.1,203.2 325.5,203.2 325.5,203.7 324.1,203.7 322.6,203.8 321.2,203.8 319.8,203.8 318.3,203.9 316.9,203.9 315.5,203.9 314,203.9 312.6,204 311.2,204 309.7,204 308.3,204.1 306.9,204.1 305.4,204.1 304,204.2 302.6,204.2 301.1,204.2 299.7,204.2 298.3,204.3 296.8,204.3 295.4,204.3 294,204.4 292.5,204.4 291.1,204.4 289.7,204.5 288.2,204.5 286.8,204.5 285.4,204.5 283.9,204.6 282.5,204.6 281.1,204.6 279.6,204.7 278.2,204.7 276.8,204.7 275.3,204.8 273.9,204.8 272.5,204.8 271,204.8 269.6,204.9 268.2,204.9 266.7,204.9 265.3,205 263.9,205 262.4,205 261,205.1 259.6,205.1 258.2,205.1 256.7,205.1 255.3,205.2 253.9,205.2 252.4,205.2 251,205.3 249.6,205.3 248.1,205.3 246.7,205.4 245.3,205.4 243.8,205.4 242.4,205.4 241,205.5 239.5,205.5 238.1,205.5 236.7,205.6 235.2,205.6 233.8,205.6 232.4,205.7 230.9,205.7 229.5,205.7 228.1,205.8 226.6,205.8 225.2,205.8 223.8,205.8 222.3,205.9 220.9,205.9 219.5,205.9 218,206 216.6,206 215.2,206 213.7,206.1 212.3,206.1 210.9,206.1 209.4,206.1 208,206.2 206.6,206.2 205.1,206.2 203.7,206.3 202.3,206.3 200.8,206.3 199.4,206.4 198,206.4 196.5,206.4 195.1,206.4 193.7,206.5 192.2,206.5 190.8,206.5 189.4,206.6 187.9,206.6 186.5,206.6 185.1,206.7 183.6,206.7 182.2,206.7 180.8,206.7 179.3,206.8 177.9,206.8 176.5,206.8 175,206.9 173.6,206.9 172.2,206.9 170.7,207 169.3,207 167.9,207 166.4,207 165,207.1 163.6,207.1 162.1,207.1 160.7,207.2 159.3,207.2 157.8,207.2 156.4,207.3 155,207.3 153.5,207.3 152.1,207.4 150.7,207.4 149.2,207.4 147.8,207.4 146.4,207.5 144.9,207.5 143.5,207.5 142.1,207.6 140.6,207.6 139.2,207.6 137.8,207.7 136.3,207.7 134.9,207.7 133.5,207.7 132.1,207.8 130.6,207.8 129.2,207.8 127.8,207.9 126.3,207.9 124.9,207.9 123.5,208 122,208 120.6,208 119.2,208 117.7,208.1 116.3,208.1 114.9,208.1 113.4,208.2 112,208.2 110.6,208.2 109.1,208.3 107.7,208.3 106.3,208.3 104.8,208.3 103.4,208.4 102,208.4 100.5,208.4 99.1,208.5 97.7,208.5 96.2,208.5 94.8,208.6 93.4,208.6 91.9,208.6 90.5,208.6 89.1,208.7 87.6,208.7 86.2,208.7 84.8,208.8 83.3,208.8 81.9,208.8 80.5,208.9 79,208.9 77.6,208.9 76.2,208.9 74.7,209 73.3,209 71.9,209 70.4,209.1 69,209.1" fill="#bfbfbf" stroke="none" stroke-width="0" stroke-linejoin="round"/>
<polygon points="69,208.6 70.4,208.6 71.9,208.5 73.3,208.5 74.7,208.5 76.2,208.4 77.6,208.4 79,208.4 80.5,208.4 81.9,208.3 83.3,208.3 84.8,208.3 86.2,208.2 87.6,208.2 89.1,208.2 90.5,208.1 91.9,208.1 93.4,208.1 94.8,208.1 96.2,208 97.7,208 99.1,208 100.5,207.9 102,207.9 103.4,207.9 104.8,207.8 106.3,207.8 107.7,207.8 109.1,207.8 110.6,207.7 112,207.7 113.4,207.7 114.9,207.6 116.3,207.6 117.7,207.6 119.2,207.5 120.6,207.5 122,207.4 123.5,207.3 124.9,207.2 126.3,206.9 127.8,206.4 129.2,205.7 130.6,204.6 132.1,203 133.5,200.8 134.9,198 136.3,194.7 137.8,191.2 139.2,187.6 140.6,184.5 142.1,182.2 143.5,181.1 144.9,181.3 146.4,182.8 147.8,185.3 149.2,188.5 150.7,192.1 152.1,195.5 153.5,198.6 155,201.1 156.4,203 157.8,204.4 159.3,205.3 160.7,205.9 162.1,206.2 163.6,206.4 165,206.5 166.4,206.5 167.9,206.5 169.3,206.5 170.7,206.4 172.2,206.4 173.6,206.4 175,206.3 176.5,206.2 177.9,206 179.3,205.6 180.8,205.1 182.2,204.4 183.6,203.3 185.1,201.8 186.5,200 187.9,197.8 189.4,195.5 190.8,193.2 192.2,191.1 193.7,189.7 195.1,189 196.5,189.1 198,190.1 199.4,191.8 200.8,193.9 202.3,196.2 203.7,198.5 205.1,200.5 206.6,202.1 208,203.3 209.4,204.2 210.9,204.7 212.3,205.1 213.7,205.3 215.2,205.4 216.6,205.4 218,205.4 219.5,205.4 220.9,205.4 222.3,205.4 223.8,205.3 225.2,205.3 226.6,205.3 228.1,205.3 229.5,205.2 230.9,205.2 232.4,205.2 233.8,205.1 235.2,205.1 236.7,205.1 238.1,205 239.5,205 241,205 242.4,204.9 243.8,204.9 245.3,204.9 246.7,204.9 248.1,204.8 249.6,204.8 251,204.8 252.4,204.7 253.9,204.7 255.3,204.7 256.7,204.6 258.2,204.6 259.6,204.6 261,204.6 262.4,204.5 263.9,204.5 265.3,204.5 266.7,204.4 268.2,204.4 269.6,204.4 271,204.3 272.5,204.3 273.9,204.3 275.3,204.3 276.8,204.2 278.2,204.2 279.6,204.2 281.1,204.1 282.5,204.1 283.9,204.1 285.4,204 286.8,204 288.2,204 289.7,204 291.1,203.9 292.5,203.9 294,203.9 295.4,203.8 296.8,203.8 298.3,203.8 299.7,203.7 301.1,203.7 302.6,203.7 304,203.7 305.4,203.6 306.9,203.6 308.3,203.6 309.7,203.5 311.2,203.5 312.6,203.5 314,203.4 315.5,203.4 316.9,203.4 318.3,203.4 319.8,203.3 321.2,203.3 322.6,203.3 324.1,203.2 325.5,203.2 325.5,203.7 324.1,203.7 322.6,203.8 321.2,203.8 319.8,203.8 318.3,203.9 316.9,203.9 315.5,203.9 314,203.9 312.6,204 311.2,204 309.7,204 308.3,204.1 306.9,204.1 305.4,204.1 304,204.2 302.6,204.2 301.1,204.2 299.7,204.2 298.3,204.3 296.8,204.3 295.4,204.3 294,204.4 292.5,204.4 291.1,204.4 289.7,204.5 288.2,204.5 286.8,204.5 285.4,204.5 283.9,204.6 282.5,204.6 281.1,204.6 279.6,204.7 278.2,204.7 276.8,204.7 275.3,204.8 273.9,204.8 272.5,204.8 271,204.8 269.6,204.9 268.2,204.9 266.7,204.9 265.3,205 263.9,205 262.4,205 261,205.1 259.6,205.1 258.2,205.1 256.7,205.1 255.3,205.2 253.9,205.2 252.4,205.2 251,205.3 249.6,205.3 248.1,205.3 246.7,205.4 245.3,205.4 243.8,205.4 242.4,205.4 241,205.5 239.5,205.5 238.1,205.5 236.7,205.6 235.2,205.6 233.8,205.6 232.4,205.7 230.9,205.7 229.5,205.7 228.1,205.8 226.6,205.8 225.2,205.8 223.8,205.8 222.3,205.9 220.9,205.9 219.5,205.9 218,206 216.6,206 215.2,206 213.7,206.1 212.3,206.1 210.9,206.1 209.4,206.1 208,206.2 206.6,206.2 205.1,206.2 203.7,206.3 202.3,206.3 200.8,206.3 199.4,206.4 198,206.4 196.5,206.4 195.1,206.4 193.7,206.5 192.2,206.5 190.8,206.5 189.4,206.6 187.9,206.6 186.5,206.6 185.1,206.7 183.6,206.7 182.2,206.7 180.8,206.7 179.3,206.8 177.9,206.8 176.5,206.8 175,206.9 173.6,206.9 172.2,206.9 170.7,207 169.3,207 167.9,207 166.4,207 165,207.1 163.6,207.1 162.1,207.1 160.7,207.2 159.3,207.2 157.8,207.2 156.4,207.3 155,207.3 153.5,207.3 152.1,207.4 150.7,207.4 149.2,207.4 147.8,207.4 146.4,207.5 144.9,207.5 143.5,207.5 142.1,207.6 140.6,207.6 139.2,207.6 137.8,207.7 136.3,207.7 134.9,207.7 133.5,207.7 132.1,207.8 130.6,207.8 129.2,207.8 127.8,207.9 126.3,207.9 124.9,207.9 123.5,208 122,208 120.6,208 119.2,208 117.7,208.1 116.3,208.1 114.9,208.1 113.4,208.2 112,208.2 110.6,208.2 109.1,208.3 107.7,208.3 106.3,208.3 104.8,208.3 103.4,208.4 102,208.4 100.5,208.4 99.1,208.5 97.7,208.5 96.2,208.5 94.8,208.6 93.4,208.6 91.9,208.6 90.5,208.6 89.1,208.7 87.6,208.7 86.2,208.7 84.8,208.8 83.3,208.8 81.9,208.8 80.5,208.9 79,208.9 77.6,208.9 76.2,208.9 74.7,209 73.3,209 71.9,209 70.4,209.1 69,209.1" fill="#ffd966" stroke="none" stroke-width="0" stroke-linejoin="round"/>
<polygon points="69,208 70.4,208 71.9,207.9 73.3,207.9 74.7,207.9 76.2,207.8 77.6,207.8 79,207.8 80.5,207.8 81.9,207.7 83.3,207.7 84.8,207.7 86.2,207.6 87.6,207.6 89.1,207.6 90.5,207.5 91.9,207.5 93.4,207.5 94.8,207.5 96.2,207.4 97.7,207.4 99.1,207.4 100.5,207.3 102,207.3 103.4,207.3 104.8,207.2 106.3,207.2 107.7,207.2 109.1,207.2 110.6,207.1 112,207.1 113.4,207.1 114.9,207 116.3,207 117.7,207 119.2,206.9 120.6,206.9 122,206.8 123.5,206.7 124.9,206.6 126.3,206.5 127.8,206.4 129.2,206.2 130.6,206 132.1,205.7 133.5,205.4 134.9,205 136.3,204.6 137.8,204 139.2,203.4 140.6,202.7 142.1,202 143.5,201.2 144.9,200.4 146.4,199.5 147.8,198.8 149.2,198 150.7,197.4 152.1,196.8 153.5,196.5 155,196.2 156.4,196.1 157.8,196.2 159.3,196.5 160.7,196.9 162.1,197.4 163.6,198 165,198.7 166.4,199.4 167.9,200.1 169.3,200.7 170.7,201.3 172.2,201.9 173.6,202.3 175,202.6 176.5,202.9 177.9,203 179.3,203.1 180.8,203 182.2,202.9 183.6,202.7 185.1,202.4 186.5,202.1 187.9,201.7 189.4,201.3 190.8,200.9 192.2,200.5 193.7,200.1 195.1,199.8 196.5,199.5 198,199.2 199.4,199 200.8,198.8 202.3,198.7 203.7,198.7 205.1,198.7 206.6,198.8 208,199 209.4,199.2 210.9,199.5 212.3,199.8 213.7,200.1 215.2,200.5 216.6,200.8 218,201.2 219.5,201.6 220.9,201.9 222.3,202.3 223.8,202.6 225.2,202.9 226.6,203.1 228.1,203.3 229.5,203.5 230.9,203.7 232.4,203.8 233.8,204 235.2,204 236.7,204.1 238.1,204.2 239.5,204.2 241,204.2 242.4,204.2 243.8,204.2 245.3,204.2 246.7,204.2 248.1,204.2 249.6,204.2 251,204.2 252.4,204.1 253.9,204.1 255.3,204.1 256.7,204 258.2,204 259.6,204 261,204 262.4,203.9 263.9,203.9 265.3,203.9 266.7,203.8 268.2,203.8 269.6,203.8 271,203.7 272.5,203.7 273.9,203.7 275.3,203.7 276.8,203.6 278.2,203.6 279.6,203.6 281.1,203.5 282.5,203.5 283.9,203.5 285.4,203.4 286.8,203.4 288.2,203.4 289.7,203.4 291.1,203.3 292.5,203.3 294,203.3 295.4,203.2 296.8,203.2 298.3,203.2 299.7,203.1 301.1,203.1 302.6,203.1 304,203.1 305.4,203 306.9,203 308.3,203 309.7,202.9 311.2,202.9 312.6,202.9 314,202.8 315.5,202.8 316.9,202.8 318.3,202.8 319.8,202.7 321.2,202.7 322.6,202.7 324.1,202.6 325.5,202.6 325.5,204.1 324.1,204.1 322.6,204.2 321.2,204.2 319.8,204.2 318.3,204.3 316.9,204.3 315.5,204.3 314,204.3 312.6,204.4 311.2,204.4 309.7,204.4 308.3,204.5 306.9,204.5 305.4,204.5 304,204.6 302.6,204.6 301.1,204.6 299.7,204.6 298.3,204.7 296.8,204.7 295.4,204.7 294,204.8 292.5,204.8 291.1,204.8 289.7,204.9 288.2,204.9 286.8,204.9 285.4,204.9 283.9,205 282.5,205 281.1,205 279.6,205.1 278.2,205.1 276.8,205.1 275.3,205.2 273.9,205.2 272.5,205.2 271,205.2 269.6,205.3 268.2,205.3 266.7,205.3 265.3,205.4 263.9,205.4 262.4,205.4 261,205.5 259.6,205.5 258.2,205.5 256.7,205.5 255.3,205.6 253.9,205.6 252.4,205.6 251,205.7 249.6,205.7 248.1,205.7 246.7,205.8 245.3,205.8 243.8,205.8 242.4,205.8 241,205.9 239.5,205.9 238.1,205.9 236.7,206 235.2,206 233.8,206 232.4,206.1 230.9,206.1 229.5,206.1 228.1,206.2 226.6,206.2 225.2,206.2 223.8,206.2 222.3,206.3 220.9,206.3 219.5,206.3 218,206.4 216.6,206.4 215.2,206.4 213.7,206.5 212.3,206.5 210.9,206.5 209.4,206.5 208,206.6 206.6,206.6 205.1,206.6 203.7,206.7 202.3,206.7 200.8,206.7 199.4,206.8 198,206.8 196.5,206.8 195.1,206.8 193.7,206.9 192.2,206.9 190.8,206.9 189.4,207 187.9,207 186.5,207 185.1,207.1 183.6,207.1 182.2,207.1 180.8,207.1 179.3,207.2 177.9,207.2 176.5,207.2 175,207.3 173.6,207.3 172.2,207.3 170.7,207.4 169.3,207.4 167.9,207.4 166.4,207.4 165,207.5 163.6,207.5 162.1,207.5 160.7,207.6 159.3,207.6 157.8,207.6 156.4,207.7 155,207.7 153.5,207.7 152.1,207.8 150.7,207.8 149.2,207.8 147.8,207.8 146.4,207.9 144.9,207.9 143.5,207.9 142.1,208 140.6,208 139.2,208 137.8,208.1 136.3,208.1 134.9,208.1 133.5,208.1 132.1,208.2 130.6,208.2 129.2,208.2 127.8,208.3 126.3,208.3 124.9,208.3 123.5,208.4 122,208.4 120.6,208.4 119.2,208.4 117.7,208.5 116.3,208.5 114.9,208.5 113.4,208.6 112,208.6 110.6,208.6 109.1,208.7 107.7,208.7 106.3,208.7 104.8,208.7 103.4,208.8 102,208.8 100.5,208.8 99.1,208.9 97.7,208.9 96.2,208.9 94.8,209 93.4,209 91.9,209 90.5,209 89.1,209.1 87.6,209.1 86.2,209.1 84.8,209.2 83.3,209.2 81.9,209.2 80.5,209.3 79,209.3 77.6,209.3 76.2,209.3 74.7,209.4 73.3,209.4 71.9,209.4 70.4,209.5 69,209.5" fill="#fb7d7d" stroke="none" stroke-width="0" stroke-linejoin="round"/>
<polyline points="69.1,208.4 70.3,208.3 71.5,208.3 72.6,208.3 73.8,208.3 75,208.2 76.2,208.2 77.3,208.2 78.5,208.1 79.7,208.1 80.8,208 82,208 83.2,208 84.3,207.9 85.5,207.9 86.7,207.8 87.9,207.8 89,207.8 90.2,207.7 91.4,207.7 92.5,207.6 93.7,207.6 94.9,207.5 96.1,207.5 97.2,207.4 98.4,207.4 99.6,207.3 100.7,207.3 101.9,207.2 103.1,207.2 104.2,207.1 105.4,207.1 106.6,207 107.8,207 108.9,206.9 110.1,206.9 111.3,206.8 112.4,206.8 113.6,206.7 114.8,206.6 116,206.5 117.1,206.4 118.3,206.3 119.5,206.2 120.6,206 121.8,205.6 123,205.2 124.1,204.7 125.3,204.1 126.5,203.4 127.7,202.6 128.8,201.3 130,199.5 131.2,197.4 132.3,195.3 133.5,193 134.7,190.2 135.8,187.4 137,184.6 138.2,182.3 139.4,180.2 140.5,178.2 141.7,176.8 142.9,176.1 144,175.7 145.2,175.7 146.4,176.3 147.6,177.2 148.7,178.4 149.9,180 151.1,182.1 152.2,184 153.4,185.7 154.6,187.4 155.7,189 156.9,190.4 158.1,191.7 159.3,192.8 160.4,193.9 161.6,194.9 162.8,195.7 163.9,196.5 165.1,197.3 166.3,198 167.4,198.6 168.6,199.2 169.8,199.7 171,200.2 172.1,200.5 173.3,200.7 174.5,201 175.6,201.1 176.8,201 178,200.7 179.2,200.1 180.3,199.3 181.5,198.5 182.7,197.3 183.8,195.7 185,194 186.2,192.4 187.3,190.8 188.5,189 189.7,187.3 190.9,185.8 192,184.7 193.2,183.6 194.4,182.7 195.5,182.1 196.7,182.1 197.9,182.5 199,183.3 200.2,184.2 201.4,185.2 202.6,186.6 203.7,188.1 204.9,189.4 206.1,190.4 207.2,191.4 208.4,192.3 209.6,193.1 210.8,193.8 211.9,194.4 213.1,195 214.3,195.5 215.4,195.9 216.6,196.3 217.8,196.7 218.9,197 220.1,197.3 221.3,197.6 222.5,197.9 223.6,198.2 224.8,198.5 226,198.8 227.1,199 228.3,199.3 229.5,199.5 230.6,199.7 231.8,199.9 233,200.1 234.2,200.2 235.3,200.4 236.5,200.5 237.7,200.6 238.8,200.7 240,200.8 241.2,200.9 242.4,201 243.5,201.1 244.7,201.2 245.9,201.2 247,201.3 248.2,201.4 249.4,201.4 250.5,201.5 251.7,201.6 252.9,201.6 254.1,201.7 255.2,201.7 256.4,201.8 257.6,201.8 258.7,201.9 259.9,201.9 261.1,202 262.2,202 263.4,202.1 264.6,202.1 265.8,202.2 266.9,202.2 268.1,202.2 269.3,202.3 270.4,202.3 271.6,202.4 272.8,202.4 274,202.4 275.1,202.5 276.3,202.5 277.5,202.5 278.6,202.6 279.8,202.6 281,202.6 282.1,202.6 283.3,202.7 284.5,202.7 285.7,202.7 286.8,202.8 288,202.8 289.2,202.8 290.3,202.9 291.5,202.9 292.7,202.9 293.8,202.9 295,202.9 296.2,203 297.4,203 298.5,203 299.7,203 300.9,203 302,203 303.2,203 304.4,203 305.6,203 306.7,203 307.9,203 309.1,203 310.2,203 311.4,203 312.6,203 313.7,203 314.9,203 316.1,203 317.3,203 318.4,203 319.6,203 320.8,203 321.9,203 323.1,203 324.3,203 325.4,203" fill="none" stroke="#f8bcbc" stroke-width="1.8" stroke-linejoin="round"/>
<polyline points="69.1,208.4 70.3,208.3 71.5,208.3 72.6,208.3 73.8,208.3 75,208.2 76.2,208.2 77.3,208.2 78.5,208.1 79.7,208.1 80.8,208 82,208 83.2,208 84.3,207.9 85.5,207.9 86.7,207.8 87.9,207.8 89,207.8 90.2,207.7 91.4,207.7 92.5,207.6 93.7,207.6 94.9,207.5 96.1,207.5 97.2,207.4 98.4,207.4 99.6,207.3 100.7,207.3 101.9,207.2 103.1,207.2 104.2,207.1 105.4,207.1 106.6,207 107.8,207 108.9,206.9 110.1,206.9 111.3,206.8 112.4,206.8 113.6,206.7 114.8,206.6 116,206.5 117.1,206.4 118.3,206.3 119.5,206.2 120.6,206 121.8,205.6 123,205.2 124.1,204.7 125.3,204.1 126.5,203.4 127.7,202.6 128.8,201.3 130,199.5 131.2,197.4 132.3,195.3 133.5,193 134.7,190.2 135.8,187.4 137,184.6 138.2,182.3 139.4,180.2 140.5,178.2 141.7,176.8 142.9,176.1 144,175.7 145.2,175.7 146.4,176.3 147.6,177.2 148.7,178.4 149.9,180 151.1,182.1 152.2,184 153.4,185.7 154.6,187.4 155.7,189 156.9,190.4 158.1,191.7 159.3,192.8 160.4,193.9 161.6,194.9 162.8,195.7 163.9,196.5 165.1,197.3 166.3,198 167.4,198.6 168.6,199.2 169.8,199.7 171,200.2 172.1,200.5 173.3,200.7 174.5,201 175.6,201.1 176.8,201 178,200.7 179.2,200.1 180.3,199.3 181.5,198.5 182.7,197.3 183.8,195.7 185,194 186.2,192.4 187.3,190.8 188.5,189 189.7,187.3 190.9,185.8 192,184.7 193.2,183.6 194.4,182.7 195.5,182.1 196.7,182.1 197.9,182.5 199,183.3 200.2,184.2 201.4,185.2 202.6,186.6 203.7,188.1 204.9,189.4 206.1,190.4 207.2,191.4 208.4,192.3 209.6,193.1 210.8,193.8 211.9,194.4 213.1,195 214.3,195.5 215.4,195.9 216.6,196.3 217.8,196.7 218.9,197 220.1,197.3 221.3,197.6 222.5,197.9 223.6,198.2 224.8,198.5 226,198.8 227.1,199 228.3,199.3 229.5,199.5 230.6,199.7 231.8,199.9 233,200.1 234.2,200.2 235.3,200.4 236.5,200.5 237.7,200.6 238.8,200.7 240,200.8 241.2,200.9 242.4,201 243.5,201.1 244.7,201.2 245.9,201.2 247,201.3 248.2,201.4 249.4,201.4 250.5,201.5 251.7,201.6 252.9,201.6 254.1,201.7 255.2,201.7 256.4,201.8 257.6,201.8 258.7,201.9 259.9,201.9 261.1,202 262.2,202 263.4,202.1 264.6,202.1 265.8,202.2 266.9,202.2 268.1,202.2 269.3,202.3 270.4,202.3 271.6,202.4 272.8,202.4 274,202.4 275.1,202.5 276.3,202.5 277.5,202.5 278.6,202.6 279.8,202.6 281,202.6 282.1,202.6 283.3,202.7 284.5,202.7 285.7,202.7 286.8,202.8 288,202.8 289.2,202.8 290.3,202.9 291.5,202.9 292.7,202.9 293.8,202.9 295,202.9 296.2,203 297.4,203 298.5,203 299.7,203 300.9,203 302,203 303.2,203 304.4,203 305.6,203 306.7,203 307.9,203 309.1,203 310.2,203 311.4,203 312.6,203 313.7,203 314.9,203 316.1,203 317.3,203 318.4,203 319.6,203 320.8,203 321.9,203 323.1,203 324.3,203 325.4,203" fill="none" stroke="#1f3b63" stroke-width="1.3" stroke-linejoin="round"/>
<polygon points="69,252 70.4,252 71.9,251.9 73.3,251.9 74.7,251.9 76.2,251.8 77.6,251.8 79,251.8 80.5,251.8 81.9,251.7 83.3,251.7 84.8,251.7 86.2,251.6 87.6,251.6 89.1,251.6 90.5,251.5 91.9,251.5 93.4,251.5 94.8,251.5 96.2,251.4 97.7,251.4 99.1,251.4 100.5,251.3 102,251.3 103.4,251.3 104.8,251.2 106.3,251.2 107.7,251.2 109.1,251.2 110.6,251.1 112,251.1 113.4,251.1 114.9,251 116.3,251 117.7,251 119.2,250.9 120.6,250.9 122,250.8 123.5,250.7 124.9,250.4 126.3,250.1 127.8,249.5 129.2,248.7 130.6,247.4 132.1,245.6 133.5,243.3 134.9,240.4 136.3,237.1 137.8,233.6 139.2,230.2 140.6,227.4 142.1,225.4 143.5,224.5 144.9,224.8 146.4,226.3 147.8,228.9 149.2,232 150.7,235.4 152.1,238.8 153.5,241.8 155,244.3 156.4,246.2 157.8,247.6 159.3,248.6 160.7,249.2 162.1,249.6 163.6,249.8 165,249.8 166.4,249.9 167.9,249.9 169.3,249.8 170.7,249.8 172.2,249.7 173.6,249.5 175,249.3 176.5,249 177.9,248.6 179.3,248 180.8,247.2 182.2,246.1 183.6,244.8 185.1,243.3 186.5,241.6 187.9,239.9 189.4,238.2 190.8,236.6 192.2,235.4 193.7,234.6 195.1,234.3 196.5,234.6 198,235.4 199.4,236.6 200.8,238.1 202.3,239.8 203.7,241.5 205.1,243.1 206.6,244.5 208,245.7 209.4,246.7 210.9,247.4 212.3,247.9 213.7,248.3 215.2,248.5 216.6,248.7 218,248.7 219.5,248.8 220.9,248.8 222.3,248.8 223.8,248.7 225.2,248.7 226.6,248.7 228.1,248.7 229.5,248.6 230.9,248.6 232.4,248.6 233.8,248.5 235.2,248.5 236.7,248.5 238.1,248.4 239.5,248.4 241,248.4 242.4,248.3 243.8,248.3 245.3,248.3 246.7,248.3 248.1,248.2 249.6,248.2 251,248.2 252.4,248.1 253.9,248.1 255.3,248.1 256.7,248 258.2,248 259.6,248 261,248 262.4,247.9 263.9,247.9 265.3,247.9 266.7,247.8 268.2,247.8 269.6,247.8 271,247.7 272.5,247.7 273.9,247.7 275.3,247.7 276.8,247.6 278.2,247.6 279.6,247.6 281.1,247.5 282.5,247.5 283.9,247.5 285.4,247.4 286.8,247.4 288.2,247.4 289.7,247.4 291.1,247.3 292.5,247.3 294,247.3 295.4,247.2 296.8,247.2 298.3,247.2 299.7,247.1 301.1,247.1 302.6,247.1 304,247.1 305.4,247 306.9,247 308.3,247 309.7,246.9 311.2,246.9 312.6,246.9 314,246.8 315.5,246.8 316.9,246.8 318.3,246.8 319.8,246.7 321.2,246.7 322.6,246.7 324.1,246.6 325.5,246.6 325.5,247.1 324.1,247.1 322.6,247.2 321.2,247.2 319.8,247.2 318.3,247.3 316.9,247.3 315.5,247.3 314,247.3 312.6,247.4 311.2,247.4 309.7,247.4 308.3,247.5 306.9,247.5 305.4,247.5 304,247.6 302.6,247.6 301.1,247.6 299.7,247.6 298.3,247.7 296.8,247.7 295.4,247.7 294,247.8 292.5,247.8 291.1,247.8 289.7,247.9 288.2,247.9 286.8,247.9 285.4,247.9 283.9,248 282.5,248 281.1,248 279.6,248.1 278.2,248.1 276.8,248.1 275.3,248.2 273.9,248.2 272.5,248.2 271,248.2 269.6,248.3 268.2,248.3 266.7,248.3 265.3,248.4 263.9,248.4 262.4,248.4 261,248.5 259.6,248.5 258.2,248.5 256.7,248.5 255.3,248.6 253.9,248.6 252.4,248.6 251,248.7 249.6,248.7 248.1,248.7 246.7,248.8 245.3,248.8 243.8,248.8 242.4,248.8 241,248.9 239.5,248.9 238.1,248.9 236.7,249 235.2,249 233.8,249 232.4,249.1 230.9,249.1 229.5,249.1 228.1,249.2 226.6,249.2 225.2,249.2 223.8,249.2 222.3,249.3 220.9,249.3 219.5,249.3 218,249.4 216.6,249.4 215.2,249.4 213.7,249.5 212.3,249.5 210.9,249.5 209.4,249.5 208,249.6 206.6,249.6 205.1,249.6 203.7,249.7 202.3,249.7 200.8,249.7 199.4,249.8 198,249.8 196.5,249.8 195.1,249.8 193.7,249.9 192.2,249.9 190.8,249.9 189.4,250 187.9,250 186.5,250 185.1,250.1 183.6,250.1 182.2,250.1 180.8,250.1 179.3,250.2 177.9,250.2 176.5,250.2 175,250.3 173.6,250.3 172.2,250.3 170.7,250.4 169.3,250.4 167.9,250.4 166.4,250.4 165,250.5 163.6,250.5 162.1,250.5 160.7,250.6 159.3,250.6 157.8,250.6 156.4,250.7 155,250.7 153.5,250.7 152.1,250.8 150.7,250.8 149.2,250.8 147.8,250.8 146.4,250.9 144.9,250.9 143.5,250.9 142.1,251 140.6,251 139.2,251 137.8,251.1 136.3,251.1 134.9,251.1 133.5,251.1 132.1,251.2 130.6,251.2 129.2,251.2 127.8,251.3 126.3,251.3 124.9,251.3 123.5,251.4 122,251.4 120.6,251.4 119.2,251.4 117.7,251.5 116.3,251.5 114.9,251.5 113.4,251.6 112,251.6 110.6,251.6 109.1,251.7 107.7,251.7 106.3,251.7 104.8,251.7 103.4,251.8 102,251.8 100.5,251.8 99.1,251.9 97.7,251.9 96.2,251.9 94.8,252 93.4,252 91.9,252 90.5,252 89.1,252.1 87.6,252.1 86.2,252.1 84.8,252.2 83.3,252.2 81.9,252.2 80.5,252.3 79,252.3 77.6,252.3 76.2,252.3 74.7,252.4 73.3,252.4 71.9,252.4 70.4,252.5 69,252.5" fill="#ffd966" stroke="none" stroke-width="0" stroke-linejoin="round"/>
<polygon points="69,251.4 70.4,251.3 71.9,251.3 73.3,251.3 74.7,251.2 76.2,251.2 77.6,251.2 79,251.1 80.5,251.1 81.9,251.1 83.3,251 84.8,251 86.2,250.9 87.6,250.9 89.1,250.8 90.5,250.8 91.9,250.7 93.4,250.7 94.8,250.6 96.2,250.6 97.7,250.5 99.1,250.5 100.5,250.4 102,250.3 103.4,250.3 104.8,250.2 106.3,250.1 107.7,250.1 109.1,250 110.6,249.9 112,249.8 113.4,249.8 114.9,249.7 116.3,249.6 117.7,249.5 119.2,249.4 120.6,249.3 122,249.2 123.5,249.1 124.9,249 126.3,248.9 127.8,248.8 129.2,248.7 130.6,248.6 132.1,248.4 133.5,248.3 134.9,248.2 136.3,248.1 137.8,248 139.2,247.9 140.6,247.8 142.1,247.6 143.5,247.5 144.9,247.4 146.4,247.3 147.8,247.2 149.2,247.1 150.7,247 152.1,246.9 153.5,246.8 155,246.7 156.4,246.6 157.8,246.5 159.3,246.4 160.7,246.3 162.1,246.2 163.6,246.1 165,246 166.4,246 167.9,245.9 169.3,245.8 170.7,245.7 172.2,245.7 173.6,245.6 175,245.6 176.5,245.5 177.9,245.5 179.3,245.4 180.8,245.4 182.2,245.3 183.6,245.3 185.1,245.2 186.5,245.2 187.9,245.2 189.4,245.2 190.8,245.2 192.2,245.1 193.7,245.1 195.1,245.1 196.5,245.1 198,245.1 199.4,245.1 200.8,245.1 202.3,245.2 203.7,245.2 205.1,245.2 206.6,245.2 208,245.2 209.4,245.3 210.9,245.3 212.3,245.4 213.7,245.4 215.2,245.4 216.6,245.5 218,245.5 219.5,245.6 220.9,245.6 222.3,245.7 223.8,245.8 225.2,245.8 226.6,245.9 228.1,245.9 229.5,246 230.9,246.1 232.4,246.1 233.8,246.2 235.2,246.2 236.7,246.3 238.1,246.3 239.5,246.4 241,246.5 242.4,246.5 243.8,246.5 245.3,246.6 246.7,246.6 248.1,246.7 249.6,246.7 251,246.7 252.4,246.8 253.9,246.8 255.3,246.8 256.7,246.8 258.2,246.9 259.6,246.9 261,246.9 262.4,246.9 263.9,246.9 265.3,246.9 266.7,246.9 268.2,246.9 269.6,246.9 271,246.9 272.5,246.9 273.9,246.9 275.3,246.9 276.8,246.9 278.2,246.9 279.6,246.8 281.1,246.8 282.5,246.8 283.9,246.8 285.4,246.8 286.8,246.8 288.2,246.7 289.7,246.7 291.1,246.7 292.5,246.7 294,246.6 295.4,246.6 296.8,246.6 298.3,246.6 299.7,246.5 301.1,246.5 302.6,246.5 304,246.4 305.4,246.4 306.9,246.4 308.3,246.4 309.7,246.3 311.2,246.3 312.6,246.3 314,246.2 315.5,246.2 316.9,246.2 318.3,246.1 319.8,246.1 321.2,246.1 322.6,246.1 324.1,246 325.5,246 325.5,247.5 324.1,247.5 322.6,247.6 321.2,247.6 319.8,247.6 318.3,247.7 316.9,247.7 315.5,247.7 314,247.7 312.6,247.8 311.2,247.8 309.7,247.8 308.3,247.9 306.9,247.9 305.4,247.9 304,248 302.6,248 301.1,248 299.7,248 298.3,248.1 296.8,248.1 295.4,248.1 294,248.2 292.5,248.2 291.1,248.2 289.7,248.3 288.2,248.3 286.8,248.3 285.4,248.3 283.9,248.4 282.5,248.4 281.1,248.4 279.6,248.5 278.2,248.5 276.8,248.5 275.3,248.6 273.9,248.6 272.5,248.6 271,248.6 269.6,248.7 268.2,248.7 266.7,248.7 265.3,248.8 263.9,248.8 262.4,248.8 261,248.9 259.6,248.9 258.2,248.9 256.7,248.9 255.3,249 253.9,249 252.4,249 251,249.1 249.6,249.1 248.1,249.1 246.7,249.2 245.3,249.2 243.8,249.2 242.4,249.2 241,249.3 239.5,249.3 238.1,249.3 236.7,249.4 235.2,249.4 233.8,249.4 232.4,249.5 230.9,249.5 229.5,249.5 228.1,249.6 226.6,249.6 225.2,249.6 223.8,249.6 222.3,249.7 220.9,249.7 219.5,249.7 218,249.8 216.6,249.8 215.2,249.8 213.7,249.9 212.3,249.9 210.9,249.9 209.4,249.9 208,250 206.6,250 205.1,250 203.7,250.1 202.3,250.1 200.8,250.1 199.4,250.2 198,250.2 196.5,250.2 195.1,250.2 193.7,250.3 192.2,250.3 190.8,250.3 189.4,250.4 187.9,250.4 186.5,250.4 185.1,250.5 183.6,250.5 182.2,250.5 180.8,250.5 179.3,250.6 177.9,250.6 176.5,250.6 175,250.7 173.6,250.7 172.2,250.7 170.7,250.8 169.3,250.8 167.9,250.8 166.4,250.8 165,250.9 163.6,250.9 162.1,250.9 160.7,251 159.3,251 157.8,251 156.4,251.1 155,251.1 153.5,251.1 152.1,251.2 150.7,251.2 149.2,251.2 147.8,251.2 146.4,251.3 144.9,251.3 143.5,251.3 142.1,251.4 140.6,251.4 139.2,251.4 137.8,251.5 136.3,251.5 134.9,251.5 133.5,251.5 132.1,251.6 130.6,251.6 129.2,251.6 127.8,251.7 126.3,251.7 124.9,251.7 123.5,251.8 122,251.8 120.6,251.8 119.2,251.8 117.7,251.9 116.3,251.9 114.9,251.9 113.4,252 112,252 110.6,252 109.1,252.1 107.7,252.1 106.3,252.1 104.8,252.1 103.4,252.2 102,252.2 100.5,252.2 99.1,252.3 97.7,252.3 96.2,252.3 94.8,252.4 93.4,252.4 91.9,252.4 90.5,252.4 89.1,252.5 87.6,252.5 86.2,252.5 84.8,252.6 83.3,252.6 81.9,252.6 80.5,252.7 79,252.7 77.6,252.7 76.2,252.7 74.7,252.8 73.3,252.8 71.9,252.8 70.4,252.9 69,252.9" fill="#fb7d7d" stroke="none" stroke-width="0" stroke-linejoin="round"/>
<polyline points="69.1,251.9 70.3,251.9 71.5,251.9 72.6,251.8 73.8,251.8 75,251.8 76.2,251.8 77.3,251.7 78.5,251.7 79.7,251.7 80.8,251.6 82,251.6 83.2,251.5 84.3,251.5 85.5,251.5 86.7,251.4 87.9,251.4 89,251.3 90.2,251.3 91.4,251.2 92.5,251.2 93.7,251.1 94.9,251.1 96.1,251 97.2,251 98.4,250.9 99.6,250.8 100.7,250.8 101.9,250.7 103.1,250.7 104.2,250.6 105.4,250.6 106.6,250.5 107.8,250.4 108.9,250.4 110.1,250.3 111.3,250.2 112.4,250.1 113.6,250.1 114.8,249.9 116,249.8 117.1,249.7 118.3,249.6 119.5,249.4 120.6,249.2 121.8,248.9 123,248.5 124.1,248.1 125.3,247.5 126.5,246.9 127.7,246.1 128.8,244.8 130,242.9 131.2,240.8 132.3,238.6 133.5,235.9 134.7,232.9 135.8,230 137,227.7 138.2,225.5 139.4,223.7 140.5,222.4 141.7,221.5 142.9,220.9 144,220.7 145.2,221.2 146.4,222.2 147.6,223.4 148.7,225.1 149.9,227.2 151.1,229.4 152.2,231.4 153.4,233.5 154.6,235.5 155.7,237 156.9,238.3 158.1,239.4 159.3,240.3 160.4,241 161.6,241.5 162.8,241.9 163.9,242.2 165.1,242.5 166.3,242.7 167.4,242.8 168.6,242.7 169.8,242.6 171,242.5 172.1,242.3 173.3,242.1 174.5,241.9 175.6,241.7 176.8,241.3 178,240.8 179.2,240.2 180.3,239.6 181.5,238.9 182.7,238 183.8,236.9 185,235.8 186.2,234.8 187.3,233.7 188.5,232.6 189.7,231.6 190.9,230.8 192,230.2 193.2,229.7 194.4,229.4 195.5,229.3 196.7,229.7 197.9,230.2 199,230.9 200.2,231.6 201.4,232.6 202.6,233.8 203.7,234.9 204.9,235.9 206.1,236.7 207.2,237.5 208.4,238.3 209.6,239 210.8,239.6 211.9,240.1 213.1,240.6 214.3,241 215.4,241.3 216.6,241.7 217.8,242 218.9,242.3 220.1,242.5 221.3,242.8 222.5,243 223.6,243.2 224.8,243.4 226,243.6 227.1,243.8 228.3,243.9 229.5,244.1 230.6,244.2 231.8,244.4 233,244.5 234.2,244.6 235.3,244.7 236.5,244.8 237.7,244.9 238.8,245 240,245 241.2,245.1 242.4,245.2 243.5,245.3 244.7,245.3 245.9,245.4 247,245.4 248.2,245.5 249.4,245.5 250.5,245.6 251.7,245.6 252.9,245.7 254.1,245.7 255.2,245.8 256.4,245.8 257.6,245.8 258.7,245.9 259.9,245.9 261.1,245.9 262.2,246 263.4,246 264.6,246 265.8,246.1 266.9,246.1 268.1,246.1 269.3,246.1 270.4,246.2 271.6,246.2 272.8,246.2 274,246.2 275.1,246.2 276.3,246.3 277.5,246.3 278.6,246.3 279.8,246.3 281,246.3 282.1,246.3 283.3,246.4 284.5,246.4 285.7,246.4 286.8,246.4 288,246.4 289.2,246.4 290.3,246.4 291.5,246.5 292.7,246.5 293.8,246.5 295,246.5 296.2,246.5 297.4,246.5 298.5,246.5 299.7,246.5 300.9,246.5 302,246.5 303.2,246.5 304.4,246.5 305.6,246.5 306.7,246.5 307.9,246.5 309.1,246.5 310.2,246.5 311.4,246.5 312.6,246.5 313.7,246.5 314.9,246.5 316.1,246.5 317.3,246.5 318.4,246.5 319.6,246.5 320.8,246.5 321.9,246.5 323.1,246.5 324.3,246.5 325.4,246.5" fill="none" stroke="#f8bcbc" stroke-width="1.8" stroke-linejoin="round"/>
<polyline points="69.1,251.9 70.3,251.9 71.5,251.9 72.6,251.8 73.8,251.8 75,251.8 76.2,251.8 77.3,251.7 78.5,251.7 79.7,251.7 80.8,251.6 82,251.6 83.2,251.5 84.3,251.5 85.5,251.5 86.7,251.4 87.9,251.4 89,251.3 90.2,251.3 91.4,251.2 92.5,251.2 93.7,251.1 94.9,251.1 96.1,251 97.2,251 98.4,250.9 99.6,250.8 100.7,250.8 101.9,250.7 103.1,250.7 104.2,250.6 105.4,250.6 106.6,250.5 107.8,250.4 108.9,250.4 110.1,250.3 111.3,250.2 112.4,250.1 113.6,250.1 114.8,249.9 116,249.8 117.1,249.7 118.3,249.6 119.5,249.4 120.6,249.2 121.8,248.9 123,248.5 124.1,248.1 125.3,247.5 126.5,246.9 127.7,246.1 128.8,244.8 130,242.9 131.2,240.8 132.3,238.6 133.5,235.9 134.7,232.9 135.8,230 137,227.7 138.2,225.5 139.4,223.7 140.5,222.4 141.7,221.5 142.9,220.9 144,220.7 145.2,221.2 146.4,222.2 147.6,223.4 148.7,225.1 149.9,227.2 151.1,229.4 152.2,231.4 153.4,233.5 154.6,235.5 155.7,237 156.9,238.3 158.1,239.4 159.3,240.3 160.4,241 161.6,241.5 162.8,241.9 163.9,242.2 165.1,242.5 166.3,242.7 167.4,242.8 168.6,242.7 169.8,242.6 171,242.5 172.1,242.3 173.3,242.1 174.5,241.9 175.6,241.7 176.8,241.3 178,240.8 179.2,240.2 180.3,239.6 181.5,238.9 182.7,238 183.8,236.9 185,235.8 186.2,234.8 187.3,233.7 188.5,232.6 189.7,231.6 190.9,230.8 192,230.2 193.2,229.7 194.4,229.4 195.5,229.3 196.7,229.7 197.9,230.2 199,230.9 200.2,231.6 201.4,232.6 202.6,233.8 203.7,234.9 204.9,235.9 206.1,236.7 207.2,237.5 208.4,238.3 209.6,239 210.8,239.6 211.9,240.1 213.1,240.6 214.3,241 215.4,241.3 216.6,241.7 217.8,242 218.9,242.3 220.1,242.5 221.3,242.8 222.5,243 223.6,243.2 224.8,243.4 226,243.6 227.1,243.8 228.3,243.9 229.5,244.1 230.6,244.2 231.8,244.4 233,244.5 234.2,244.6 235.3,244.7 236.5,244.8 237.7,244.9 238.8,245 240,245 241.2,245.1 242.4,245.2 243.5,245.3 244.7,245.3 245.9,245.4 247,245.4 248.2,245.5 249.4,245.5 250.5,245.6 251.7,245.6 252.9,245.7 254.1,245.7 255.2,245.8 256.4,245.8 257.6,245.8 258.7,245.9 259.9,245.9 261.1,245.9 262.2,246 263.4,246 264.6,246 265.8,246.1 266.9,246.1 268.1,246.1 269.3,246.1 270.4,246.2 271.6,246.2 272.8,246.2 274,246.2 275.1,246.2 276.3,246.3 277.5,246.3 278.6,246.3 279.8,246.3 281,246.3 282.1,246.3 283.3,246.4 284.5,246.4 285.7,246.4 286.8,246.4 288,246.4 289.2,246.4 290.3,246.4 291.5,246.5 292.7,246.5 293.8,246.5 295,246.5 296.2,246.5 297.4,246.5 298.5,246.5 299.7,246.5 300.9,246.5 302,246.5 303.2,246.5 304.4,246.5 305.6,246.5 306.7,246.5 307.9,246.5 309.1,246.5 310.2,246.5 311.4,246.5 312.6,246.5 313.7,246.5 314.9,246.5 316.1,246.5 317.3,246.5 318.4,246.5 319.6,246.5 320.8,246.5 321.9,246.5 323.1,246.5 324.3,246.5 325.4,246.5" fill="none" stroke="#1f3b63" stroke-width="1.3" stroke-linejoin="round"/>
<line x1="140.6" y1="86" x2="142.6" y2="168" stroke="#000" stroke-width="1" stroke-dasharray="1.5,3"/>
<line x1="121" y1="128.5" x2="134.5" y2="128.5" stroke="#000" stroke-width="1"/>
<polygon points="139.5,128.5 134.5,130.3 134.5,126.7" fill="#000"/>
<line x1="157" y1="128.5" x2="148.5" y2="128.5" stroke="#000" stroke-width="1"/>
<polygon points="143.5,128.5 148.5,126.7 148.5,130.3" fill="#000"/>
<rect x="69" y="35.6" width="256.5" height="220.4" fill="none" stroke="#666" stroke-width="1.1"/>
<line x1="69" y1="256" x2="69" y2="260.5" stroke="#666" stroke-width="1.2"/>
<text x="69.3" y="275" font-size="13.3" font-weight="bold" text-anchor="middle" fill="#000">224</text>
<line x1="133.1" y1="256" x2="133.1" y2="260.5" stroke="#666" stroke-width="1.2"/>
<text x="133.4" y="275" font-size="13.3" font-weight="bold" text-anchor="middle" fill="#000">228</text>
<line x1="197.2" y1="256" x2="197.2" y2="260.5" stroke="#666" stroke-width="1.2"/>
<text x="197.6" y="275" font-size="13.3" font-weight="bold" text-anchor="middle" fill="#000">232</text>
<line x1="261.4" y1="256" x2="261.4" y2="260.5" stroke="#666" stroke-width="1.2"/>
<text x="261.7" y="275" font-size="13.3" font-weight="bold" text-anchor="middle" fill="#000">236</text>
<line x1="325.5" y1="256" x2="325.5" y2="260.5" stroke="#666" stroke-width="1.2"/>
<text x="325.8" y="275" font-size="13.3" font-weight="bold" text-anchor="middle" fill="#000">240</text>
<text x="127.3" y="289.3" font-size="13.6" font-weight="bold" text-anchor="start" fill="#000">Binding energy (eV)</text>
<text x="59" y="145.8" font-size="13.7" font-weight="bold" text-anchor="middle" fill="#000" transform="rotate(-90 59 145.8)">Intensity (a.u.)</text>
<text x="36.6" y="54.5" font-size="22" font-weight="bold" text-anchor="start" fill="#000">(a)</text>
<text x="80.5" y="54.6" font-size="12.6" font-weight="bold" text-anchor="start" fill="#000">Mo <tspan font-style="italic">3d</tspan></text>
<rect x="129" y="39" width="16" height="9" fill="#ffdf80" stroke="none" stroke-width="1"/>
<rect x="129" y="53" width="16" height="9" fill="#fc7c7c" stroke="none" stroke-width="1"/>
<rect x="129" y="68" width="16" height="9" fill="#c2c2c2" stroke="none" stroke-width="1"/>
<text x="159" y="47.3" font-size="11.1" font-weight="bold" text-anchor="start" fill="#000">Mo-C</text>
<text x="162.5" y="66.7" font-size="11.5" font-weight="bold" text-anchor="start" fill="#000">MoO<tspan font-size="7.8" dy="2.5">x</tspan><tspan dy="-2.5"> in the surface</tspan></text>
<line x1="146" y1="56" x2="154" y2="60.4" stroke="#000" stroke-width="1"/>
<polygon points="158,62.5 153.3,61.8 154.8,58.9" fill="#000"/>
<line x1="146" y1="72" x2="154" y2="67.6" stroke="#000" stroke-width="1"/>
<polygon points="158,65.5 154.8,69.1 153.3,66.2" fill="#000"/>
<text x="321.5" y="91" font-size="12.6" font-weight="bold" text-anchor="end" fill="#000">O/Mo<tspan font-size="8.6" dy="2.8">2</tspan><tspan dy="-2.8">C</tspan></text>
<text x="321.5" y="134.2" font-size="12.4" font-weight="bold" text-anchor="end" fill="#000">Ni<tspan font-size="8.4" dy="2.7">SA</tspan><tspan dy="-2.7">-O/Mo</tspan><tspan font-size="8.4" dy="2.7">2</tspan><tspan dy="-2.7">C</tspan></text>
<text x="323" y="183.8" font-size="12.5" font-weight="bold" text-anchor="end" fill="#000">Ni<tspan font-size="8.5" dy="2.8">SA</tspan><tspan dy="-2.8">-O/Mo</tspan><tspan font-size="8.5" dy="2.8">2</tspan><tspan dy="-2.8">C-5 nm</tspan></text>
<text x="323" y="223.7" font-size="12.5" font-weight="bold" text-anchor="end" fill="#000">Ni<tspan font-size="8.5" dy="2.8">SA</tspan><tspan dy="-2.8">-O/Mo</tspan><tspan font-size="8.5" dy="2.8">2</tspan><tspan dy="-2.8">C-10 nm</tspan></text>
<text x="158.5" y="97.5" font-size="10.5" font-weight="bold" text-anchor="start" fill="#000">Mo<tspan font-size="7.1" dy="-4">4+</tspan></text>
<text x="228" y="91.5" font-size="10.5" font-weight="bold" text-anchor="start" fill="#000">Mo<tspan font-size="7.1" dy="-4">6+</tspan></text>
<text x="73.5" y="150" font-size="12.1" font-weight="bold" text-anchor="start" fill="#000">Δ=0.12 eV</text>
<line x1="151" y1="113.5" x2="155.5" y2="104.1" stroke="#000" stroke-width="1"/>
<polygon points="157.5,100 157,104.7 154.1,103.4" fill="#000"/>
<line x1="194" y1="113" x2="180.6" y2="102.7" stroke="#000" stroke-width="1"/>
<polygon points="177,100 181.5,101.5 179.6,104" fill="#000"/>
<line x1="218" y1="105" x2="228.4" y2="97.2" stroke="#000" stroke-width="1"/>
<polygon points="232,94.5 229.4,98.5 227.4,95.9" fill="#000"/>
<line x1="254" y1="101.5" x2="245.6" y2="95.2" stroke="#000" stroke-width="1"/>
<polygon points="242,92.5 246.6,93.9 244.6,96.5" fill="#000"/>
</g>
<g id="panel_b">
<clipPath id="cb"><rect x="376.6" y="35.6" width="262.9" height="221"/></clipPath>
<g clip-path="url(#cb)">
<polyline points="376.6,156.2 377.1,179.3 377.6,149.6 378.1,163.3 378.6,153.1 379.1,180.1 379.6,159.8 380.1,138.1 380.7,168.4 381.2,167 381.7,161.9 382.2,158.3 382.7,164.1 383.2,139.9 383.7,157.7 384.2,130.9 384.7,164.5 385.2,161.4 385.7,162.1 386.2,142.3 386.7,173.8 387.2,159.2 387.7,169.7 388.3,156.8 388.8,159.4 389.3,152.2 389.8,153.8 390.3,140.3 390.8,174.9 391.3,156.2 391.8,153.4 392.3,156.3 392.8,145.6 393.3,164.2 393.8,126.2 394.3,153.9 394.8,149.2 395.3,144.6 395.8,158.6 396.4,156.5 396.9,166.3 397.4,157.6 397.9,163.8 398.4,152.5 398.9,144.2 399.4,143.2 399.9,161.6 400.4,186.4 400.9,160.2 401.4,153.1 401.9,173.6 402.4,159 402.9,158.6 403.4,158.5 404,154.9 404.5,153.1 405,143.1 405.5,159.2 406,153.8 406.5,154.3 407,150.5 407.5,130 408,178.4 408.5,166.6 409,148.4 409.5,143.6 410,140.5 410.5,141.2 411,147.1 411.6,139.2 412.1,161.5 412.6,145.9 413.1,143.6 413.6,170.4 414.1,149.8 414.6,131.2 415.1,149 415.6,152 416.1,170.4 416.6,129.9 417.1,150.2 417.6,152 418.1,121.5 418.6,136 419.2,148.5 419.7,122 420.2,140.7 420.7,154 421.2,155.8 421.7,148.2 422.2,150 422.7,147.5 423.2,141.2 423.7,140.1 424.2,134.3 424.7,138.7 425.2,157.4 425.7,144.2 426.2,141.3 426.7,128.8 427.3,122.9 427.8,130.2 428.3,127 428.8,107.5 429.3,127.6 429.8,105.7 430.3,106.9 430.8,100.4 431.3,88.6 431.8,80.4 432.3,73.2 432.8,72.4 433.3,75.6 433.8,67.9 434.3,54.2 434.9,69.1 435.4,71.8 435.9,75.4 436.4,81.3 436.9,122.5 437.4,95.8 437.9,109.5 438.4,114.5 438.9,102 439.4,109.9 439.9,127 440.4,132.7 440.9,129.4 441.4,137.1 441.9,133.3 442.5,127.4 443,130.9 443.5,122.5 444,138 444.5,128.1 445,123.9 445.5,139.5 446,119.4 446.5,123 447,143.1 447.5,118.2 448,144.6 448.5,136 449,131.1 449.5,126.6 450,136.5 450.6,138.6 451.1,135.6 451.6,138.6 452.1,127.8 452.6,140.8 453.1,125.2 453.6,138.5 454.1,146.8 454.6,148.9 455.1,153.8 455.6,125.7 456.1,130.7 456.6,148.6 457.1,146.4 457.6,129.9 458.2,140.9 458.7,166.8 459.2,128.9 459.7,140.4 460.2,145.5 460.7,129.9 461.2,140.5 461.7,141.9 462.2,128.2 462.7,128 463.2,136.4 463.7,145.6 464.2,142.6 464.7,124.7 465.2,133.1 465.8,146 466.3,138.7 466.8,122.6 467.3,139.4 467.8,126.5 468.3,136.9 468.8,152.2 469.3,144 469.8,134.7 470.3,118 470.8,122.3 471.3,140.3 471.8,132 472.3,144.1 472.8,136.9 473.4,128.4 473.9,144.3 474.4,128.4 474.9,127 475.4,153.4 475.9,113.2 476.4,141.9 476.9,144.8 477.4,138.6 477.9,123.6 478.4,140.2 478.9,100 479.4,129.8 479.9,137.4 480.4,130.4 480.9,138.6 481.5,149.3 482,139.3 482.5,124.9 483,134.8 483.5,142.5 484,151 484.5,133.7 485,151.5 485.5,155.5 486,143.9 486.5,150 487,159.6 487.5,156.1 488,153.2 488.5,167.1 489.1,163.6 489.6,139.3 490.1,145.2 490.6,146.1 491.1,160.9 491.6,149.3 492.1,155.7 492.6,162.7 493.1,185.7 493.6,153.1 494.1,166.3 494.6,144.2 495.1,162.3 495.6,169.3 496.1,165.8 496.7,157.3 497.2,156.2 497.7,163.6 498.2,160.4 498.7,145.8 499.2,173.2 499.7,162.8 500.2,169.2 500.7,153.3 501.2,174.5 501.7,158.9 502.2,163.3 502.7,152.6 503.2,166 503.7,163.1 504.3,163.7 504.8,169.2 505.3,145.6 505.8,185.1 506.3,162.1 506.8,157.7 507.3,169.4 507.8,171.7 508.3,177 508.8,161.5 509.3,151.5 509.8,169.8 510.3,168.9 510.8,145.4 511.3,162.4 511.8,154.8 512.4,162.5 512.9,172.3 513.4,166.8 513.9,178.7 514.4,171.2 514.9,160.8 515.4,172 515.9,174.7 516.4,161.8 516.9,162.9 517.4,141 517.9,185.6 518.4,162.4 518.9,141.4 519.4,129.7 520,164 520.5,172.6 521,165.5 521.5,170.5 522,157.5 522.5,155.7 523,178.2 523.5,170.2 524,167.9 524.5,179.3 525,165.4 525.5,165.4 526,167.3 526.5,195.6 527,169.7 527.6,184.1 528.1,164.9 528.6,172.9 529.1,152.6 529.6,167.4 530.1,172.5 530.6,178.2 531.1,164.1 531.6,169.3 532.1,181.5 532.6,145.3 533.1,156.3 533.6,163.1 534.1,158.1 534.6,179.1 535.2,169.5 535.7,158.4 536.2,159.3 536.7,187.3 537.2,156.2 537.7,153.3 538.2,183.4 538.7,161.9 539.2,150.3 539.7,145.3 540.2,141.2 540.7,154.6 541.2,147.5 541.7,132.8 542.2,155.8 542.7,152 543.3,143.1 543.8,143.4 544.3,148.3 544.8,141.6 545.3,137.3 545.8,159.8 546.3,140.8 546.8,131.6 547.3,145.2 547.8,158.4 548.3,159.7 548.8,177.5 549.3,164.3 549.8,153.1 550.3,160.8 550.9,157.9 551.4,163.4 551.9,172.7 552.4,176.3 552.9,155.7 553.4,164.4 553.9,193.5 554.4,179.4 554.9,170.1 555.4,152.8 555.9,171.8 556.4,169 556.9,153.6 557.4,173.9 557.9,171.8 558.5,155.5 559,170.9 559.5,199.1 560,169.6 560.5,179.8 561,178.2 561.5,166.9 562,157.1 562.5,177.7 563,168.3 563.5,154 564,177.6 564.5,149.4 565,173.2 565.5,196.7 566.1,171.5 566.6,161.3 567.1,158.7 567.6,180.8 568.1,170.5 568.6,174.9 569.1,177.8 569.6,161.6 570.1,166.6 570.6,160.8 571.1,153.2 571.6,155.1 572.1,167 572.6,165.8 573.1,170.3 573.6,165.4 574.2,167.5 574.7,172.6 575.2,155.7 575.7,162.8 576.2,151.3 576.7,172.9 577.2,147.4 577.7,168.2 578.2,176.8 578.7,170.3 579.2,162.7 579.7,169.6 580.2,169 580.7,161.9 581.2,153.3 581.8,148.5 582.3,173.5 582.8,156.1 583.3,167.8 583.8,160.9 584.3,173 584.8,173 585.3,152.9 585.8,138.3 586.3,160.6 586.8,169 587.3,158.6 587.8,144 588.3,158 588.8,138.8 589.4,156.8 589.9,165.2 590.4,165.5 590.9,172.3 591.4,169.7 591.9,161 592.4,158.2 592.9,162.9 593.4,134.8 593.9,160.5 594.4,160 594.9,166.8 595.4,166.3 595.9,172.4 596.4,173.8 596.9,155.7 597.5,196.6 598,173.7 598.5,174.1 599,168.8 599.5,169.3 600,180.3 600.5,192.9 601,167.9 601.5,180.2 602,175.5 602.5,183.5 603,181.2 603.5,187.1 604,164.5 604.5,174.2 605.1,160.7 605.6,179.7 606.1,175 606.6,181.1 607.1,188.2 607.6,199.2 608.1,160.2 608.6,181.5 609.1,187.3 609.6,185.2 610.1,182.8 610.6,174.7 611.1,178.7 611.6,193.4 612.1,196.8 612.7,208.6 613.2,181.5 613.7,189.9 614.2,187.5 614.7,191.8 615.2,191.4 615.7,203 616.2,192.8 616.7,181.6 617.2,199.5 617.7,202.4 618.2,182.7 618.7,187.8 619.2,185 619.7,202.8 620.3,201.7 620.8,192.4 621.3,203.1 621.8,191.3 622.3,189.7 622.8,190.7 623.3,194.6 623.8,193.3 624.3,197.6 624.8,191.3 625.3,203.3 625.8,205.7 626.3,193 626.8,180 627.3,203.9 627.8,207.6 628.4,196.8 628.9,187.4 629.4,200.8 629.9,211.7 630.4,162.4 630.9,203.2 631.4,196.6 631.9,192.2 632.4,203.9 632.9,188.8 633.4,202.5 633.9,211.3 634.4,214.2 634.9,193 635.4,185.5 636,189.9 636.5,185.3 637,214.7 637.5,199.1 638,192.5 638.5,190.4 639,203.4 639.5,188" fill="none" stroke="#f97f7f" stroke-width="0.9" stroke-linejoin="miter"/>
<polygon points="376.6,166.1 377.6,166.3 378.6,166.4 379.6,166.6 380.7,166.8 381.7,166.9 382.7,167.1 383.7,167.3 384.7,167.4 385.7,167.6 386.8,167.8 387.8,167.9 388.8,168.1 389.8,168.3 390.8,168.4 391.8,168.6 392.8,168.8 393.9,168.9 394.9,169.1 395.9,169.3 396.9,169.4 397.9,169.6 398.9,169.8 399.9,169.9 401,170.1 402,170.2 403,170.4 404,170.6 405,170.7 406,170.9 407.1,171 408.1,171.2 409.1,171.3 410.1,171.5 411.1,171.6 412.1,171.7 413.1,171.9 414.2,172 415.2,172.1 416.2,172.2 417.2,172.3 418.2,172.4 419.2,172.4 420.2,172.5 421.3,172.5 422.3,172.5 423.3,172.5 424.3,172.4 425.3,172.4 426.3,172.3 427.4,172.1 428.4,172 429.4,171.8 430.4,171.5 431.4,171.2 432.4,170.8 433.4,170.4 434.5,170 435.5,169.5 436.5,168.9 437.5,168.3 438.5,167.6 439.5,166.8 440.5,166 441.6,165.1 442.6,164.2 443.6,163.1 444.6,162.1 445.6,161 446.6,159.8 447.7,158.6 448.7,157.4 449.7,156.1 450.7,154.8 451.7,153.5 452.7,152.2 453.7,150.9 454.8,149.6 455.8,148.3 456.8,147.1 457.8,145.9 458.8,144.8 459.8,143.8 460.8,142.8 461.9,142 462.9,141.2 463.9,140.6 464.9,140 465.9,139.6 466.9,139.4 468,139.2 469,139.2 470,139.4 471,139.7 472,140.1 473,140.7 474,141.4 475.1,142.2 476.1,143.2 477.1,144.2 478.1,145.4 479.1,146.7 480.1,148 481.2,149.4 482.2,150.9 483.2,152.5 484.2,154 485.2,155.7 486.2,157.3 487.2,158.9 488.3,160.6 489.3,162.2 490.3,163.8 491.3,165.4 492.3,166.9 493.3,168.5 494.3,169.9 495.4,171.3 496.4,172.7 497.4,174 498.4,175.2 499.4,176.4 500.4,177.5 501.5,178.5 502.5,179.5 503.5,180.4 504.5,181.3 505.5,182.1 506.5,182.8 507.5,183.5 508.6,184.1 509.6,184.7 510.6,185.3 511.6,185.8 512.6,186.3 513.6,186.7 514.6,187.1 515.7,187.5 516.7,187.8 517.7,188.1 518.7,188.4 519.7,188.7 520.7,188.9 521.8,189.1 522.8,189.4 523.8,189.6 524.8,189.7 525.8,189.9 526.8,190 527.8,190.2 528.9,190.3 529.9,190.4 530.9,190.5 531.9,190.5 532.9,190.6 533.9,190.6 534.9,190.6 536,190.6 537,190.6 538,190.5 539,190.4 540,190.3 541,190.2 542.1,190 543.1,189.8 544.1,189.6 545.1,189.3 546.1,189 547.1,188.7 548.1,188.3 549.2,187.9 550.2,187.4 551.2,186.9 552.2,186.4 553.2,185.8 554.2,185.2 555.3,184.6 556.3,183.9 557.3,183.1 558.3,182.4 559.3,181.6 560.3,180.8 561.3,179.9 562.4,179.1 563.4,178.2 564.4,177.3 565.4,176.4 566.4,175.5 567.4,174.6 568.4,173.7 569.5,172.9 570.5,172 571.5,171.2 572.5,170.4 573.5,169.7 574.5,169 575.6,168.3 576.6,167.7 577.6,167.2 578.6,166.7 579.6,166.3 580.6,166 581.6,165.8 582.7,165.6 583.7,165.6 584.7,165.6 585.7,165.7 586.7,165.9 587.7,166.2 588.7,166.6 589.8,167 590.8,167.6 591.8,168.2 592.8,168.9 593.8,169.7 594.8,170.6 595.9,171.5 596.9,172.4 597.9,173.5 598.9,174.5 599.9,175.7 600.9,176.8 601.9,178 603,179.2 604,180.4 605,181.6 606,182.9 607,184.1 608,185.3 609,186.5 610.1,187.7 611.1,188.9 612.1,190 613.1,191.2 614.1,192.3 615.1,193.3 616.2,194.3 617.2,195.3 618.2,196.3 619.2,197.2 620.2,198.1 621.2,198.9 622.2,199.7 623.3,200.5 624.3,201.2 625.3,201.9 626.3,202.5 627.3,203.1 628.3,203.7 629.3,204.2 630.4,204.7 631.4,205.2 632.4,205.6 633.4,206.1 634.4,206.5 635.4,206.8 636.5,207.2 637.5,207.5 638.5,207.9 639.5,208.2 639.5,210.3 638.5,210.1 637.5,210 636.5,209.8 635.4,209.6 634.4,209.5 633.4,209.3 632.4,209.1 631.4,209 630.4,208.8 629.3,208.6 628.3,208.5 627.3,208.3 626.3,208.1 625.3,208 624.3,207.8 623.3,207.6 622.2,207.5 621.2,207.3 620.2,207.1 619.2,207 618.2,206.8 617.2,206.6 616.2,206.5 615.1,206.3 614.1,206.2 613.1,206 612.1,205.8 611.1,205.7 610.1,205.5 609,205.3 608,205.2 607,205 606,204.8 605,204.7 604,204.5 603,204.3 601.9,204.2 600.9,204 599.9,203.8 598.9,203.7 597.9,203.5 596.9,203.3 595.9,203.2 594.8,203 593.8,202.8 592.8,202.7 591.8,202.5 590.8,202.3 589.8,202.2 588.7,202 587.7,201.8 586.7,201.7 585.7,201.5 584.7,201.3 583.7,201.2 582.7,201 581.6,200.8 580.6,200.7 579.6,200.5 578.6,200.3 577.6,200.2 576.6,200 575.6,199.8 574.5,199.7 573.5,199.5 572.5,199.3 571.5,199.2 570.5,199 569.5,198.8 568.4,198.7 567.4,198.5 566.4,198.4 565.4,198.2 564.4,198 563.4,197.9 562.4,197.7 561.3,197.5 560.3,197.4 559.3,197.2 558.3,197 557.3,196.9 556.3,196.7 555.3,196.5 554.2,196.4 553.2,196.2 552.2,196 551.2,195.9 550.2,195.7 549.2,195.5 548.1,195.4 547.1,195.2 546.1,195 545.1,194.9 544.1,194.7 543.1,194.5 542.1,194.4 541,194.2 540,194 539,193.9 538,193.7 537,193.5 536,193.4 534.9,193.2 533.9,193 532.9,192.9 531.9,192.7 530.9,192.5 529.9,192.4 528.9,192.2 527.8,192 526.8,191.9 525.8,191.7 524.8,191.5 523.8,191.4 522.8,191.2 521.8,191 520.7,190.9 519.7,190.7 518.7,190.6 517.7,190.4 516.7,190.2 515.7,190.1 514.6,189.9 513.6,189.7 512.6,189.6 511.6,189.4 510.6,189.2 509.6,189.1 508.6,188.9 507.5,188.7 506.5,188.6 505.5,188.4 504.5,188.2 503.5,188.1 502.5,187.9 501.5,187.7 500.4,187.6 499.4,187.4 498.4,187.2 497.4,187.1 496.4,186.9 495.4,186.7 494.3,186.6 493.3,186.4 492.3,186.2 491.3,186.1 490.3,185.9 489.3,185.7 488.3,185.6 487.2,185.4 486.2,185.2 485.2,185.1 484.2,184.9 483.2,184.7 482.2,184.6 481.2,184.4 480.1,184.2 479.1,184.1 478.1,183.9 477.1,183.7 476.1,183.6 475.1,183.4 474,183.2 473,183.1 472,182.9 471,182.8 470,182.6 469,182.4 468,182.3 466.9,182.1 465.9,181.9 464.9,181.8 463.9,181.6 462.9,181.4 461.9,181.3 460.8,181.1 459.8,180.9 458.8,180.8 457.8,180.6 456.8,180.4 455.8,180.3 454.8,180.1 453.7,179.9 452.7,179.8 451.7,179.6 450.7,179.4 449.7,179.3 448.7,179.1 447.7,178.9 446.6,178.8 445.6,178.6 444.6,178.4 443.6,178.3 442.6,178.1 441.6,177.9 440.5,177.8 439.5,177.6 438.5,177.4 437.5,177.3 436.5,177.1 435.5,176.9 434.5,176.8 433.4,176.6 432.4,176.4 431.4,176.3 430.4,176.1 429.4,175.9 428.4,175.8 427.4,175.6 426.3,175.4 425.3,175.3 424.3,175.1 423.3,175 422.3,174.8 421.3,174.6 420.2,174.5 419.2,174.3 418.2,174.1 417.2,174 416.2,173.8 415.2,173.6 414.2,173.5 413.1,173.3 412.1,173.1 411.1,173 410.1,172.8 409.1,172.6 408.1,172.5 407.1,172.3 406,172.1 405,172 404,171.8 403,171.6 402,171.5 401,171.3 399.9,171.1 398.9,171 397.9,170.8 396.9,170.6 395.9,170.5 394.9,170.3 393.9,170.1 392.8,170 391.8,169.8 390.8,169.6 389.8,169.5 388.8,169.3 387.8,169.1 386.8,169 385.7,168.8 384.7,168.6 383.7,168.5 382.7,168.3 381.7,168.1 380.7,168 379.6,167.8 378.6,167.6 377.6,167.5 376.6,167.3" fill="#c6c6c6" stroke="none" stroke-width="0" stroke-linejoin="round"/>
<polygon points="376.6,167 377.6,167.2 378.6,167.3 379.6,167.5 380.7,167.6 381.7,167.8 382.7,167.9 383.7,168.1 384.7,168.2 385.7,168.3 386.8,168.5 387.8,168.6 388.8,168.8 389.8,168.9 390.8,169 391.8,169.2 392.8,169.3 393.9,169.4 394.9,169.5 395.9,169.7 396.9,169.8 397.9,169.9 398.9,170 399.9,170.1 401,170.2 402,170.3 403,170.3 404,170.4 405,170.4 406,170.5 407.1,170.5 408.1,170.5 409.1,170.5 410.1,170.5 411.1,170.4 412.1,170.3 413.1,170.1 414.2,169.9 415.2,169.7 416.2,169.3 417.2,168.9 418.2,168.3 419.2,167.7 420.2,166.8 421.3,165.7 422.3,164.3 423.3,162.5 424.3,160.3 425.3,157.5 426.3,153.8 427.4,149.2 428.4,143.4 429.4,136.4 430.4,128.4 431.4,120 432.4,112.7 433.4,108.3 434.5,108.2 435.5,112.6 436.5,120 437.5,128.7 438.5,137.2 439.5,144.6 440.5,150.8 441.6,155.9 442.6,159.9 443.6,163.2 444.6,165.8 445.6,167.9 446.6,169.7 447.7,171.1 448.7,172.4 449.7,173.4 450.7,174.3 451.7,175 452.7,175.7 453.7,176.3 454.8,176.9 455.8,177.3 456.8,177.8 457.8,178.2 458.8,178.6 459.8,178.9 460.8,179.3 461.9,179.6 462.9,179.9 463.9,180.1 464.9,180.4 465.9,180.7 466.9,180.9 468,181.1 469,181.4 470,181.6 471,181.8 472,182 473,182.3 474,182.5 475.1,182.7 476.1,182.9 477.1,183.1 478.1,183.3 479.1,183.4 480.1,183.6 481.2,183.8 482.2,184 483.2,184.2 484.2,184.4 485.2,184.6 486.2,184.7 487.2,184.9 488.3,185.1 489.3,185.3 490.3,185.4 491.3,185.6 492.3,185.8 493.3,185.9 494.3,186.1 495.4,186.3 496.4,186.4 497.4,186.6 498.4,186.8 499.4,186.9 500.4,187.1 501.5,187.2 502.5,187.4 503.5,187.6 504.5,187.7 505.5,187.9 506.5,188 507.5,188.2 508.6,188.3 509.6,188.4 510.6,188.6 511.6,188.7 512.6,188.8 513.6,189 514.6,189.1 515.7,189.2 516.7,189.3 517.7,189.4 518.7,189.5 519.7,189.5 520.7,189.6 521.8,189.6 522.8,189.7 523.8,189.7 524.8,189.6 525.8,189.5 526.8,189.4 527.8,189.2 528.9,189 529.9,188.6 530.9,188.2 531.9,187.5 532.9,186.7 533.9,185.6 534.9,184.2 536,182.3 537,179.8 538,176.6 539,172.8 540,168.4 541,164.2 542.1,161 543.1,160.1 544.1,161.7 545.1,165.4 546.1,170.1 547.1,174.7 548.1,178.8 549.2,182.2 550.2,184.9 551.2,187.1 552.2,188.8 553.2,190.2 554.2,191.4 555.3,192.3 556.3,193.1 557.3,193.7 558.3,194.3 559.3,194.8 560.3,195.3 561.3,195.7 562.4,196.1 563.4,196.4 564.4,196.7 565.4,197 566.4,197.3 567.4,197.5 568.4,197.8 569.5,198 570.5,198.3 571.5,198.5 572.5,198.7 573.5,198.9 574.5,199.1 575.6,199.3 576.6,199.5 577.6,199.7 578.6,199.9 579.6,200.1 580.6,200.3 581.6,200.5 582.7,200.7 583.7,200.9 584.7,201 585.7,201.2 586.7,201.4 587.7,201.6 588.7,201.8 589.8,201.9 590.8,202.1 591.8,202.3 592.8,202.5 593.8,202.6 594.8,202.8 595.9,203 596.9,203.2 597.9,203.3 598.9,203.5 599.9,203.7 600.9,203.8 601.9,204 603,204.2 604,204.4 605,204.5 606,204.7 607,204.9 608,205 609,205.2 610.1,205.4 611.1,205.5 612.1,205.7 613.1,205.9 614.1,206.1 615.1,206.2 616.2,206.4 617.2,206.6 618.2,206.7 619.2,206.9 620.2,207.1 621.2,207.2 622.2,207.4 623.3,207.6 624.3,207.7 625.3,207.9 626.3,208.1 627.3,208.2 628.3,208.4 629.3,208.6 630.4,208.7 631.4,208.9 632.4,209.1 633.4,209.2 634.4,209.4 635.4,209.6 636.5,209.7 637.5,209.9 638.5,210.1 639.5,210.2 639.5,210.3 638.5,210.1 637.5,210 636.5,209.8 635.4,209.6 634.4,209.5 633.4,209.3 632.4,209.1 631.4,209 630.4,208.8 629.3,208.6 628.3,208.5 627.3,208.3 626.3,208.1 625.3,208 624.3,207.8 623.3,207.6 622.2,207.5 621.2,207.3 620.2,207.1 619.2,207 618.2,206.8 617.2,206.6 616.2,206.5 615.1,206.3 614.1,206.2 613.1,206 612.1,205.8 611.1,205.7 610.1,205.5 609,205.3 608,205.2 607,205 606,204.8 605,204.7 604,204.5 603,204.3 601.9,204.2 600.9,204 599.9,203.8 598.9,203.7 597.9,203.5 596.9,203.3 595.9,203.2 594.8,203 593.8,202.8 592.8,202.7 591.8,202.5 590.8,202.3 589.8,202.2 588.7,202 587.7,201.8 586.7,201.7 585.7,201.5 584.7,201.3 583.7,201.2 582.7,201 581.6,200.8 580.6,200.7 579.6,200.5 578.6,200.3 577.6,200.2 576.6,200 575.6,199.8 574.5,199.7 573.5,199.5 572.5,199.3 571.5,199.2 570.5,199 569.5,198.8 568.4,198.7 567.4,198.5 566.4,198.4 565.4,198.2 564.4,198 563.4,197.9 562.4,197.7 561.3,197.5 560.3,197.4 559.3,197.2 558.3,197 557.3,196.9 556.3,196.7 555.3,196.5 554.2,196.4 553.2,196.2 552.2,196 551.2,195.9 550.2,195.7 549.2,195.5 548.1,195.4 547.1,195.2 546.1,195 545.1,194.9 544.1,194.7 543.1,194.5 542.1,194.4 541,194.2 540,194 539,193.9 538,193.7 537,193.5 536,193.4 534.9,193.2 533.9,193 532.9,192.9 531.9,192.7 530.9,192.5 529.9,192.4 528.9,192.2 527.8,192 526.8,191.9 525.8,191.7 524.8,191.5 523.8,191.4 522.8,191.2 521.8,191 520.7,190.9 519.7,190.7 518.7,190.6 517.7,190.4 516.7,190.2 515.7,190.1 514.6,189.9 513.6,189.7 512.6,189.6 511.6,189.4 510.6,189.2 509.6,189.1 508.6,188.9 507.5,188.7 506.5,188.6 505.5,188.4 504.5,188.2 503.5,188.1 502.5,187.9 501.5,187.7 500.4,187.6 499.4,187.4 498.4,187.2 497.4,187.1 496.4,186.9 495.4,186.7 494.3,186.6 493.3,186.4 492.3,186.2 491.3,186.1 490.3,185.9 489.3,185.7 488.3,185.6 487.2,185.4 486.2,185.2 485.2,185.1 484.2,184.9 483.2,184.7 482.2,184.6 481.2,184.4 480.1,184.2 479.1,184.1 478.1,183.9 477.1,183.7 476.1,183.6 475.1,183.4 474,183.2 473,183.1 472,182.9 471,182.8 470,182.6 469,182.4 468,182.3 466.9,182.1 465.9,181.9 464.9,181.8 463.9,181.6 462.9,181.4 461.9,181.3 460.8,181.1 459.8,180.9 458.8,180.8 457.8,180.6 456.8,180.4 455.8,180.3 454.8,180.1 453.7,179.9 452.7,179.8 451.7,179.6 450.7,179.4 449.7,179.3 448.7,179.1 447.7,178.9 446.6,178.8 445.6,178.6 444.6,178.4 443.6,178.3 442.6,178.1 441.6,177.9 440.5,177.8 439.5,177.6 438.5,177.4 437.5,177.3 436.5,177.1 435.5,176.9 434.5,176.8 433.4,176.6 432.4,176.4 431.4,176.3 430.4,176.1 429.4,175.9 428.4,175.8 427.4,175.6 426.3,175.4 425.3,175.3 424.3,175.1 423.3,175 422.3,174.8 421.3,174.6 420.2,174.5 419.2,174.3 418.2,174.1 417.2,174 416.2,173.8 415.2,173.6 414.2,173.5 413.1,173.3 412.1,173.1 411.1,173 410.1,172.8 409.1,172.6 408.1,172.5 407.1,172.3 406,172.1 405,172 404,171.8 403,171.6 402,171.5 401,171.3 399.9,171.1 398.9,171 397.9,170.8 396.9,170.6 395.9,170.5 394.9,170.3 393.9,170.1 392.8,170 391.8,169.8 390.8,169.6 389.8,169.5 388.8,169.3 387.8,169.1 386.8,169 385.7,168.8 384.7,168.6 383.7,168.5 382.7,168.3 381.7,168.1 380.7,168 379.6,167.8 378.6,167.6 377.6,167.5 376.6,167.3" fill="#8db3dc" stroke="none" stroke-width="0" stroke-linejoin="round"/>
<polygon points="376.6,167.3 377.6,167.5 378.6,167.6 379.6,167.8 380.7,168 381.7,168.1 382.7,168.3 383.7,168.5 384.7,168.6 385.7,168.8 386.8,169 387.8,169.1 388.8,169.3 389.8,169.5 390.8,169.6 391.8,169.8 392.8,169.9 393.9,170.1 394.9,170.2 395.9,170.3 396.9,170.5 397.9,170.5 398.9,170.6 399.9,170.6 401,170.5 402,170.4 403,170.2 404,169.9 405,169.5 406,169 407.1,168.4 408.1,167.8 409.1,167.1 410.1,166.4 411.1,165.7 412.1,165 413.1,164.5 414.2,164.1 415.2,163.9 416.2,163.8 417.2,164 418.2,164.4 419.2,164.9 420.2,165.7 421.3,166.5 422.3,167.5 423.3,168.5 424.3,169.6 425.3,170.6 426.3,171.6 427.4,172.5 428.4,173.3 429.4,174 430.4,174.6 431.4,175.2 432.4,175.6 433.4,176 434.5,176.4 435.5,176.7 436.5,176.9 437.5,177.2 438.5,177.4 439.5,177.6 440.5,177.7 441.6,177.9 442.6,178.1 443.6,178.3 444.6,178.4 445.6,178.6 446.6,178.8 447.7,178.9 448.7,179.1 449.7,179.3 450.7,179.4 451.7,179.6 452.7,179.8 453.7,179.9 454.8,180.1 455.8,180.3 456.8,180.4 457.8,180.6 458.8,180.8 459.8,180.9 460.8,181.1 461.9,181.3 462.9,181.4 463.9,181.6 464.9,181.8 465.9,181.9 466.9,182.1 468,182.3 469,182.4 470,182.6 471,182.8 472,182.9 473,183.1 474,183.2 475.1,183.4 476.1,183.6 477.1,183.7 478.1,183.9 479.1,184.1 480.1,184.2 481.2,184.4 482.2,184.6 483.2,184.7 484.2,184.9 485.2,185.1 486.2,185.2 487.2,185.4 488.3,185.6 489.3,185.7 490.3,185.9 491.3,186.1 492.3,186.2 493.3,186.4 494.3,186.6 495.4,186.7 496.4,186.9 497.4,187 498.4,187.1 499.4,187.3 500.4,187.4 501.5,187.4 502.5,187.5 503.5,187.5 504.5,187.4 505.5,187.3 506.5,187.2 507.5,186.9 508.6,186.6 509.6,186.3 510.6,185.8 511.6,185.4 512.6,184.9 513.6,184.4 514.6,183.9 515.7,183.5 516.7,183.3 517.7,183.1 518.7,183.1 519.7,183.2 520.7,183.5 521.8,184 522.8,184.5 523.8,185.2 524.8,186 525.8,186.8 526.8,187.6 527.8,188.4 528.9,189.2 529.9,189.9 530.9,190.6 531.9,191.2 532.9,191.7 533.9,192.2 534.9,192.6 536,192.9 537,193.2 538,193.5 539,193.7 540,193.9 541,194.1 542.1,194.3 543.1,194.5 544.1,194.7 545.1,194.9 546.1,195 547.1,195.2 548.1,195.4 549.2,195.5 550.2,195.7 551.2,195.9 552.2,196 553.2,196.2 554.2,196.4 555.3,196.5 556.3,196.7 557.3,196.9 558.3,197 559.3,197.2 560.3,197.4 561.3,197.5 562.4,197.7 563.4,197.9 564.4,198 565.4,198.2 566.4,198.4 567.4,198.5 568.4,198.7 569.5,198.8 570.5,199 571.5,199.2 572.5,199.3 573.5,199.5 574.5,199.7 575.6,199.8 576.6,200 577.6,200.2 578.6,200.3 579.6,200.5 580.6,200.7 581.6,200.8 582.7,201 583.7,201.2 584.7,201.3 585.7,201.5 586.7,201.7 587.7,201.8 588.7,202 589.8,202.2 590.8,202.3 591.8,202.5 592.8,202.7 593.8,202.8 594.8,203 595.9,203.2 596.9,203.3 597.9,203.5 598.9,203.7 599.9,203.8 600.9,204 601.9,204.2 603,204.3 604,204.5 605,204.7 606,204.8 607,205 608,205.2 609,205.3 610.1,205.5 611.1,205.7 612.1,205.8 613.1,206 614.1,206.2 615.1,206.3 616.2,206.5 617.2,206.6 618.2,206.8 619.2,207 620.2,207.1 621.2,207.3 622.2,207.5 623.3,207.6 624.3,207.8 625.3,208 626.3,208.1 627.3,208.3 628.3,208.5 629.3,208.6 630.4,208.8 631.4,209 632.4,209.1 633.4,209.3 634.4,209.5 635.4,209.6 636.5,209.8 637.5,210 638.5,210.1 639.5,210.3 639.5,210.3 638.5,210.1 637.5,210 636.5,209.8 635.4,209.6 634.4,209.5 633.4,209.3 632.4,209.1 631.4,209 630.4,208.8 629.3,208.6 628.3,208.5 627.3,208.3 626.3,208.1 625.3,208 624.3,207.8 623.3,207.6 622.2,207.5 621.2,207.3 620.2,207.1 619.2,207 618.2,206.8 617.2,206.6 616.2,206.5 615.1,206.3 614.1,206.2 613.1,206 612.1,205.8 611.1,205.7 610.1,205.5 609,205.3 608,205.2 607,205 606,204.8 605,204.7 604,204.5 603,204.3 601.9,204.2 600.9,204 599.9,203.8 598.9,203.7 597.9,203.5 596.9,203.3 595.9,203.2 594.8,203 593.8,202.8 592.8,202.7 591.8,202.5 590.8,202.3 589.8,202.2 588.7,202 587.7,201.8 586.7,201.7 585.7,201.5 584.7,201.3 583.7,201.2 582.7,201 581.6,200.8 580.6,200.7 579.6,200.5 578.6,200.3 577.6,200.2 576.6,200 575.6,199.8 574.5,199.7 573.5,199.5 572.5,199.3 571.5,199.2 570.5,199 569.5,198.8 568.4,198.7 567.4,198.5 566.4,198.4 565.4,198.2 564.4,198 563.4,197.9 562.4,197.7 561.3,197.5 560.3,197.4 559.3,197.2 558.3,197 557.3,196.9 556.3,196.7 555.3,196.5 554.2,196.4 553.2,196.2 552.2,196 551.2,195.9 550.2,195.7 549.2,195.5 548.1,195.4 547.1,195.2 546.1,195 545.1,194.9 544.1,194.7 543.1,194.5 542.1,194.4 541,194.2 540,194 539,193.9 538,193.7 537,193.5 536,193.4 534.9,193.2 533.9,193 532.9,192.9 531.9,192.7 530.9,192.5 529.9,192.4 528.9,192.2 527.8,192 526.8,191.9 525.8,191.7 524.8,191.5 523.8,191.4 522.8,191.2 521.8,191 520.7,190.9 519.7,190.7 518.7,190.6 517.7,190.4 516.7,190.2 515.7,190.1 514.6,189.9 513.6,189.7 512.6,189.6 511.6,189.4 510.6,189.2 509.6,189.1 508.6,188.9 507.5,188.7 506.5,188.6 505.5,188.4 504.5,188.2 503.5,188.1 502.5,187.9 501.5,187.7 500.4,187.6 499.4,187.4 498.4,187.2 497.4,187.1 496.4,186.9 495.4,186.7 494.3,186.6 493.3,186.4 492.3,186.2 491.3,186.1 490.3,185.9 489.3,185.7 488.3,185.6 487.2,185.4 486.2,185.2 485.2,185.1 484.2,184.9 483.2,184.7 482.2,184.6 481.2,184.4 480.1,184.2 479.1,184.1 478.1,183.9 477.1,183.7 476.1,183.6 475.1,183.4 474,183.2 473,183.1 472,182.9 471,182.8 470,182.6 469,182.4 468,182.3 466.9,182.1 465.9,181.9 464.9,181.8 463.9,181.6 462.9,181.4 461.9,181.3 460.8,181.1 459.8,180.9 458.8,180.8 457.8,180.6 456.8,180.4 455.8,180.3 454.8,180.1 453.7,179.9 452.7,179.8 451.7,179.6 450.7,179.4 449.7,179.3 448.7,179.1 447.7,178.9 446.6,178.8 445.6,178.6 444.6,178.4 443.6,178.3 442.6,178.1 441.6,177.9 440.5,177.8 439.5,177.6 438.5,177.4 437.5,177.3 436.5,177.1 435.5,176.9 434.5,176.8 433.4,176.6 432.4,176.4 431.4,176.3 430.4,176.1 429.4,175.9 428.4,175.8 427.4,175.6 426.3,175.4 425.3,175.3 424.3,175.1 423.3,175 422.3,174.8 421.3,174.6 420.2,174.5 419.2,174.3 418.2,174.1 417.2,174 416.2,173.8 415.2,173.6 414.2,173.5 413.1,173.3 412.1,173.1 411.1,173 410.1,172.8 409.1,172.6 408.1,172.5 407.1,172.3 406,172.1 405,172 404,171.8 403,171.6 402,171.5 401,171.3 399.9,171.1 398.9,171 397.9,170.8 396.9,170.6 395.9,170.5 394.9,170.3 393.9,170.1 392.8,170 391.8,169.8 390.8,169.6 389.8,169.5 388.8,169.3 387.8,169.1 386.8,169 385.7,168.8 384.7,168.6 383.7,168.5 382.7,168.3 381.7,168.1 380.7,168 379.6,167.8 378.6,167.6 377.6,167.5 376.6,167.3" fill="#ffd54f" stroke="none" stroke-width="0" stroke-linejoin="round"/>
<polyline points="376.6,168.5 639.5,211.5" fill="none" stroke="#ffd54f" stroke-width="2" stroke-linejoin="round"/>
<polyline points="376.3,163.4 377.3,163.4 378.3,163.4 379.3,163.4 380.3,163.4 381.4,163.4 382.4,163.4 383.4,163.4 384.4,163.4 385.4,163.4 386.5,163.4 387.5,163.4 388.5,163.4 389.5,163.4 390.5,163.4 391.6,163.4 392.6,163.3 393.6,163.2 394.6,163.1 395.6,163 396.7,162.9 397.7,162.7 398.7,162.5 399.7,162.1 400.7,161.7 401.8,161.1 402.8,160.5 403.8,159.9 404.8,159.2 405.8,158.5 406.9,157.6 407.9,156.6 408.9,155.6 409.9,154.6 410.9,153.7 411.9,152.8 413,151.9 414,151.1 415,150.3 416,149.5 417,148.9 418.1,148.4 419.1,148.1 420.1,147.8 421.1,147.5 422.1,147.1 423.2,146.5 424.2,145.5 425.2,144.1 426.2,141.8 427.2,137.6 428.3,132 429.3,125.5 430.3,117.4 431.3,108 432.3,95.7 433.4,91.8 434.4,92.2 435.4,96.6 436.4,107 437.4,114.6 438.5,121.3 439.5,127 440.5,132 441.5,136.3 442.5,139.2 443.5,141.2 444.6,142.8 445.6,144 446.6,144.6 447.6,144.8 448.6,145.1 449.7,145.2 450.7,145.3 451.7,145.1 452.7,144.7 453.7,144.1 454.8,143.5 455.8,142.8 456.8,142.2 457.8,141.5 458.8,140.8 459.9,140.1 460.9,139.5 461.9,139 462.9,138.6 463.9,138.3 465,138 466,137.7 467,137.5 468,137.4 469,137.3 470.1,137.4 471.1,137.6 472.1,137.9 473.1,138.3 474.1,138.8 475.2,139.3 476.2,139.9 477.2,140.7 478.2,141.8 479.2,143.1 480.2,144.4 481.3,145.8 482.3,147.1 483.3,148.5 484.3,150 485.3,151.6 486.4,153.1 487.4,154.5 488.4,155.7 489.4,156.9 490.4,158 491.5,159 492.5,160 493.5,161 494.5,161.9 495.5,162.8 496.6,163.8 497.6,164.6 498.6,165.5 499.6,166.2 500.6,166.8 501.7,167.4 502.7,168 503.7,168.5 504.7,169 505.7,169.4 506.8,169.7 507.8,169.9 508.8,170 509.8,170.1 510.8,170.2 511.9,170.3 512.9,170.4 513.9,170.4 514.9,170.4 515.9,170.3 516.9,170 518,169.7 519,169.4 520,169.5 521,169.8 522,170.4 523.1,171.1 524.1,171.7 525.1,172.3 526.1,172.7 527.1,173.2 528.2,173.6 529.2,173.8 530.2,173.9 531.2,173.6 532.2,173.1 533.3,172.5 534.3,171.7 535.3,170.2 536.3,167.6 537.3,164.4 538.4,161.1 539.4,157.8 540.4,153.9 541.4,150.9 542.4,149.1 543.5,148.6 544.5,150.2 545.5,152.9 546.5,157.5 547.5,161.9 548.6,165 549.6,167.9 550.6,170.4 551.6,172.4 552.6,173.5 553.6,174.4 554.7,175.2 555.7,175.9 556.7,176.5 557.7,177 558.7,177.2 559.8,177.3 560.8,177.2 561.8,177 562.8,176.7 563.8,176.2 564.9,175.8 565.9,175.3 566.9,174.8 567.9,174.2 568.9,173.6 570,172.8 571,172.1 572,171.2 573,170.5 574,169.8 575.1,169.1 576.1,168.5 577.1,167.9 578.1,167.3 579.1,166.7 580.2,166.2 581.2,165.9 582.2,165.7 583.2,165.5 584.2,165.4 585.2,165.3 586.3,165.2 587.3,165.3 588.3,165.5 589.3,166 590.3,166.5 591.4,167.2 592.4,167.8 593.4,168.6 594.4,169.6 595.4,170.8 596.5,172.1 597.5,173.5 598.5,175 599.5,176.5 600.5,177.9 601.6,179.2 602.6,180.4 603.6,181.7 604.6,182.9 605.6,184.2 606.7,185.4 607.7,186.6 608.7,187.7 609.7,188.8 610.7,189.8 611.8,190.8 612.8,191.8 613.8,192.7 614.8,193.6 615.8,194.4 616.9,195.2 617.9,196 618.9,196.7 619.9,197.3 620.9,197.9 621.9,198.5 623,199.1 624,199.6 625,200.1 626,200.6 627,201.1 628.1,201.5 629.1,201.9 630.1,202.3 631.1,202.7 632.1,203.1 633.2,203.4 634.2,203.8 635.2,204.1 636.2,204.4 637.2,204.7 638.3,204.9 639.3,205.2 640.3,205.4" fill="none" stroke="#2c5a9a" stroke-width="1" stroke-linejoin="round"/>
</g>
<line x1="415" y1="165.5" x2="411.5" y2="137.5" stroke="#000" stroke-width="1.1"/>
<polygon points="410.7,131.5 413.2,137.2 409.7,137.7" fill="#000"/>
<line x1="520.9" y1="186.6" x2="519.3" y2="148" stroke="#000" stroke-width="1.1"/>
<polygon points="519,142 521.1,147.9 517.5,148.1" fill="#000"/>
<rect x="376.6" y="35.6" width="262.9" height="221" fill="none" stroke="#000" stroke-width="1.1"/>
<line x1="394.9" y1="256.6" x2="394.9" y2="260.6" stroke="#000" stroke-width="1.1"/>
<text x="395.2" y="275.5" font-size="13.3" font-weight="bold" text-anchor="middle" fill="#000">850</text>
<line x1="456.1" y1="256.6" x2="456.1" y2="260.6" stroke="#000" stroke-width="1.1"/>
<text x="456.4" y="275.5" font-size="13.3" font-weight="bold" text-anchor="middle" fill="#000">860</text>
<line x1="517.2" y1="256.6" x2="517.2" y2="260.6" stroke="#000" stroke-width="1.1"/>
<text x="517.5" y="275.5" font-size="13.3" font-weight="bold" text-anchor="middle" fill="#000">870</text>
<line x1="578.4" y1="256.6" x2="578.4" y2="260.6" stroke="#000" stroke-width="1.1"/>
<text x="578.7" y="275.5" font-size="13.3" font-weight="bold" text-anchor="middle" fill="#000">880</text>
<line x1="639.5" y1="256.6" x2="639.5" y2="260.6" stroke="#000" stroke-width="1.1"/>
<text x="639.8" y="275.5" font-size="13.3" font-weight="bold" text-anchor="middle" fill="#000">890</text>
<text x="443.9" y="295.5" font-size="13.7" font-weight="bold" text-anchor="start" fill="#000">Binding energy (eV)</text>
<text x="366.5" y="146.5" font-size="14" font-weight="bold" text-anchor="middle" fill="#000" transform="rotate(-90 366.5 146.5)">Intensity (a.u.)</text>
<text x="346.7" y="54.3" font-size="22" font-weight="bold" text-anchor="start" fill="#000">(b)</text>
<text x="383.5" y="56" font-size="13.8" font-weight="bold" text-anchor="start" fill="#000">Ni <tspan font-style="italic">2p</tspan></text>
<text x="441.8" y="71.5" font-size="13.6" font-weight="bold" text-anchor="start" fill="#000">Ni-O</text>
<text x="404.8" y="122.6" font-size="13.6" font-weight="bold" text-anchor="start" fill="#000">Ni<tspan font-size="9.2" dy="-5.2">0</tspan></text>
<text x="477.8" y="129.6" font-size="13.6" font-weight="bold" text-anchor="start" fill="#000">Sat.</text>
<text x="514.9" y="134.3" font-size="13.6" font-weight="bold" text-anchor="start" fill="#000">Ni<tspan font-size="9.2" dy="-5.2">0</tspan></text>
<text x="541" y="128" font-size="13.6" font-weight="bold" text-anchor="start" fill="#000">Ni-O</text>
<text x="592.8" y="151.5" font-size="13.6" font-weight="bold" text-anchor="start" fill="#000">Sat.</text>
<text x="635.5" y="57" font-size="13.6" font-weight="bold" text-anchor="end" fill="#000">Ni<tspan font-size="9.2" dy="3">SA</tspan><tspan dy="-3">-O/Mo</tspan><tspan font-size="9.2" dy="3">2</tspan><tspan dy="-3">C</tspan></text>
</g>
<g id="panel_c">
<polyline points="691.3,255.2 693.2,255.1 695.1,255.1 696.9,255 698.8,254.9 700.7,254.9 702.6,254.8 704.4,254.7 706.3,254.6 708.2,254.4 710,254.3 711.9,254.2 713.8,254 715.7,253.9 717.5,253.8 719.4,253.6 721.3,253.4 723.1,253.2 725,253 726.9,252.7 728.8,252.5 730.6,252.2 732.5,251.9 734.4,251.7 736.2,251.4 738.1,251.1 740,250.9 741.9,250.6 743.7,250.3 745.6,250 747.5,249.7 749.4,249.4 751.2,249 753.1,248.6 755,248.2 756.8,247.8 758.7,247.3 760.6,246.8 762.5,246.2 764.3,245.6 766.2,244.8 768.1,243.9 769.9,242.7 771.8,241.3 773.7,239.6 775.6,237.7 777.4,235.8 779.3,233.4 781.2,230.5 783,227.3 784.9,223.9 786.8,220.6 788.7,217.4 790.5,214.3 792.4,211.2 794.3,208.1 796.1,204.9 798,201.7 799.9,198.5 801.8,195.4 803.6,192.4 805.5,189.7 807.4,187.1 809.3,184.6 811.1,182.3 813,180.2 814.9,178.3 816.7,176.5 818.6,174.7 820.5,172.9 822.4,171.3 824.2,169.5 826.1,167.3 828,163.8 829.8,158.9 831.7,153.8 833.6,148.2 835.5,142.3 837.3,136 839.2,129.4 841.1,122.6 842.9,115.5 844.8,108.4 846.7,101.7 848.6,95.3 850.4,89.3 852.3,83.9 854.2,78.9 856,74.5 857.9,70.9 859.8,67.7 861.7,65.1 863.5,62.8 865.4,60.9 867.3,59.3 869.2,58.2 871,57.2 872.9,56.3 874.8,55.7 876.6,55.3 878.5,54.9 880.4,54.5 882.3,54.2 884.1,54.1 886,54 887.9,54.1 889.7,54.3 891.6,54.6 893.5,54.9 895.4,55 897.2,55.1 899.1,55.1 901,55.1 902.8,55.1 904.7,55.1 906.6,55.1 908.5,55.1 910.3,55 912.2,54.8 914.1,54.5 915.9,54 917.8,53.6 919.7,53.3 921.6,53.1 923.4,52.9 925.3,52.7 927.2,52.5 929.1,52.4 930.9,52.4 932.8,52.4 934.7,52.6 936.5,52.7 938.4,52.9 940.3,53.1 942.2,53.3 944,53.5 945.9,53.9 947.8,54.2 949.6,54.6 951.5,55.1" fill="none" stroke="#9a9a9a" stroke-width="1" stroke-linejoin="round"/>
<polyline points="691.3,254.6 693.2,254.6 695.1,254.5 696.9,254.4 698.8,254.3 700.7,254.1 702.6,254 704.4,253.8 706.3,253.6 708.2,253.4 710,253.2 711.9,253 713.8,252.8 715.7,252.6 717.5,252.4 719.4,252.1 721.3,251.9 723.1,251.6 725,251.3 726.9,250.9 728.8,250.6 730.6,250.2 732.5,249.8 734.4,249.3 736.2,248.9 738.1,248.4 740,247.9 741.9,247.3 743.7,246.7 745.6,246 747.5,245.3 749.4,244.5 751.2,243.6 753.1,242.7 755,241.7 756.8,240.5 758.7,239.1 760.6,237.6 762.5,236 764.3,234.3 766.2,232.4 768.1,230.2 769.9,227.9 771.8,225.4 773.7,222.8 775.6,220 777.4,217 779.3,213.9 781.2,210.5 783,207 784.9,203.5 786.8,199.8 788.7,196 790.5,192 792.4,187.9 794.3,183.8 796.1,179.7 798,175.5 799.9,171.4 801.8,167.2 803.6,162.9 805.5,158.6 807.4,154.3 809.3,150 811.1,145.6 813,141.2 814.9,136.7 816.7,132.1 818.6,127.3 820.5,122.2 822.4,117.1 824.2,112.1 826.1,107.2 828,102.2 829.8,97.3 831.7,92.8 833.6,89 835.5,85.5 837.3,82.6 839.2,80.6 841.1,79 842.9,77.8 844.8,77.1 846.7,76.5 848.6,76.2 850.4,76.3 852.3,76.6 854.2,77 856,77.4 857.9,77.8 859.8,78.3 861.7,78.8 863.5,79.2 865.4,79.5 867.3,79.7 869.2,79.6 871,79.3 872.9,79 874.8,78.5 876.6,78 878.5,77.5 880.4,77.1 882.3,76.7 884.1,76.2 886,75.8 887.9,75.4 889.7,75 891.6,74.5 893.5,74.1 895.4,73.6 897.2,73.1 899.1,72.5 901,72 902.8,71.4 904.7,70.7 906.6,69.9 908.5,69.1 910.3,68.3 912.2,67.4 914.1,66.6 915.9,65.8 917.8,65 919.7,64.3 921.6,63.5 923.4,62.8 925.3,62.1 927.2,61.4 929.1,60.8 930.9,60.3 932.8,59.9 934.7,59.4 936.5,59 938.4,58.7 940.3,58.5 942.2,58.5 944,58.6 945.9,58.9 947.8,59.4 949.6,59.9 951.5,60.6" fill="none" stroke="#17807e" stroke-width="1.3" stroke-linejoin="round"/>
<polyline points="691.3,255.2 693.2,255.1 695.1,255 696.9,255 698.8,254.9 700.7,254.8 702.6,254.7 704.4,254.5 706.3,254.4 708.2,254.3 710,254.1 711.9,254 713.8,253.8 715.7,253.6 717.5,253.5 719.4,253.3 721.3,253.1 723.1,252.9 725,252.6 726.9,252.3 728.8,252.1 730.6,251.8 732.5,251.5 734.4,251.2 736.2,250.9 738.1,250.6 740,250.3 741.9,250 743.7,249.6 745.6,249.3 747.5,248.9 749.4,248.5 751.2,248.1 753.1,247.6 755,247.1 756.8,246.5 758.7,245.8 760.6,245 762.5,244.1 764.3,243.1 766.2,242 768.1,240.8 769.9,239.3 771.8,237.7 773.7,236 775.6,234.2 777.4,232.1 779.3,229.8 781.2,227.3 783,224.7 784.9,221.9 786.8,218.9 788.7,215.6 790.5,212 792.4,208.3 794.3,204.6 796.1,200.9 798,197.1 799.9,193.3 801.8,189.4 803.6,185.5 805.5,181.5 807.4,177.5 809.3,173.5 811.1,169.5 813,165.5 814.9,161.3 816.7,157.1 818.6,152.8 820.5,148.4 822.4,144 824.2,139.5 826.1,135 828,130.5 829.8,126 831.7,121.6 833.6,117.1 835.5,112.7 837.3,108.3 839.2,103.8 841.1,99.4 842.9,94.9 844.8,90.6 846.7,86.5 848.6,82.4 850.4,78.5 852.3,75.1 854.2,72.3 856,69.8 857.9,67.9 859.8,66.5 861.7,65.3 863.5,64.5 865.4,64 867.3,63.6 869.2,63.2 871,62.8 872.9,62.4 874.8,61.9 876.6,61.5 878.5,61 880.4,60.5 882.3,60 884.1,59.5 886,59 887.9,58.5 889.7,57.9 891.6,57.3 893.5,56.7 895.4,56.1 897.2,55.6 899.1,55.1 901,54.5 902.8,53.9 904.7,53.3 906.6,52.8 908.5,52.5 910.3,52.4 912.2,52.4 914.1,52.4 915.9,52.4 917.8,52.4 919.7,52.7 921.6,53.3 923.4,54.1 925.3,54.9 927.2,56 929.1,57.4 930.9,59 932.8,60.6 934.7,62 936.5,63.4 938.4,64.7 940.3,66 942.2,67.2 944,68.3 945.9,69.1 947.8,69.9 949.6,70.6 951.5,71.2" fill="none" stroke="#f98585" stroke-width="1.1" stroke-linejoin="round"/>
<polyline points="691.3,255.2 693.2,255.1 695.1,255.1 696.9,255 698.8,254.9 700.7,254.8 702.6,254.7 704.4,254.6 706.3,254.4 708.2,254.3 710,254.1 711.9,254 713.8,253.8 715.7,253.6 717.5,253.5 719.4,253.3 721.3,253.1 723.1,252.8 725,252.5 726.9,252.2 728.8,251.9 730.6,251.6 732.5,251.3 734.4,251 736.2,250.6 738.1,250.3 740,250 741.9,249.6 743.7,249.3 745.6,248.9 747.5,248.5 749.4,248.1 751.2,247.6 753.1,247.1 755,246.5 756.8,245.9 758.7,245.1 760.6,244.3 762.5,243.4 764.3,242.3 766.2,241.1 768.1,239.6 769.9,238 771.8,236.2 773.7,234.3 775.6,232.3 777.4,230 779.3,227.6 781.2,225 783,222.2 784.9,219.2 786.8,216.1 788.7,212.5 790.5,208.7 792.4,204.8 794.3,200.8 796.1,196.9 798,193 799.9,189.1 801.8,185.1 803.6,181.1 805.5,177 807.4,173 809.3,168.8 811.1,164.6 813,160.4 814.9,156.2 816.7,151.9 818.6,147.5 820.5,143.1 822.4,138.7 824.2,134.2 826.1,129.7 828,125.2 829.8,120.5 831.7,115.8 833.6,111.1 835.5,106.3 837.3,101.7 839.2,97.2 841.1,92.6 842.9,88.1 844.8,83.8 846.7,80 848.6,76.3 850.4,73.1 852.3,70.8 854.2,69.1 856,67.7 857.9,66.5 859.8,65.5 861.7,64.7 863.5,64.2 865.4,63.8 867.3,63.5 869.2,63.1 871,62.8 872.9,62.4 874.8,61.9 876.6,61.4 878.5,60.9 880.4,60.3 882.3,59.7 884.1,59.1 886,58.5 887.9,57.8 889.7,57.1 891.6,56.3 893.5,55.6 895.4,54.8 897.2,54 899.1,53.2 901,52.3 902.8,51.3 904.7,50.4 906.6,49.8 908.5,49.6 910.3,49.4 912.2,49.3 914.1,49.2 915.9,49.3 917.8,49.8 919.7,50.7 921.6,51.7 923.4,52.7 925.3,54 927.2,55.5 929.1,57.2 930.9,58.9 932.8,60.6 934.7,62.1 936.5,63.6 938.4,65.1 940.3,66.5 942.2,67.9 944,69 945.9,70.1 947.8,71 949.6,71.8 951.5,72.5" fill="none" stroke="#ffc125" stroke-width="1.2" stroke-linejoin="round"/>
<rect x="841.7" y="157.2" width="99.8" height="80" fill="#fff" stroke="none" stroke-width="1"/>
<polyline points="870,237.2 872.4,235.1 874.7,233 877.1,230.8 879.5,228.7 881.9,226.5 884.2,224.3 886.6,222.1 889,219.9 891.3,217.6 893.7,215.3 896.1,212.9 898.5,210.4 900.8,207.8 903.2,204.9 905.6,201.5 908,197.9 910.3,194.2 912.7,190.3 915.1,186.5 917.5,182.9 919.8,179.5 922.2,176.4 924.6,173.4 926.9,170.5 929.3,167.6 931.7,164.9 934.1,162.2 936.4,159.7 938.8,157.2" fill="none" stroke="#9a9a9a" stroke-width="0.9" stroke-linejoin="round"/>
<polyline points="841.7,234.5 843.7,232.4 845.7,230.3 847.7,228.1 849.8,226 851.8,223.8 853.8,221.6 855.9,219.3 857.9,217 859.9,214.7 861.9,212.4 864,210.2 866,208 868,206.1 870,204.2 872.1,202.2 874.1,200.1 876.1,197.8 878.1,195.3 880.2,192.7 882.2,189.9 884.2,186.9 886.2,183.9 888.3,180.7 890.3,177.3 892.3,173.6 894.4,169.8 896.4,165.8 898.4,161.6 900.4,157.2" fill="none" stroke="#17807e" stroke-width="1.2" stroke-linejoin="round"/>
<polyline points="866,237.2 868.2,234.9 870.4,232.7 872.6,230.4 874.8,228.3 877,226.1 879.2,224 881.4,221.9 883.5,219.8 885.7,217.8 887.9,215.8 890.1,213.8 892.3,211.8 894.5,209.8 896.7,207.9 898.9,205.7 901.1,203.1 903.3,200.4 905.4,197.4 907.6,194.2 909.8,190.9 912,187.6 914.2,184.1 916.4,180.6 918.6,177 920.8,173.3 923,169.5 925.2,165.5 927.4,161.4 929.5,157.2" fill="none" stroke="#f98585" stroke-width="1" stroke-linejoin="round"/>
<polyline points="861.5,237.2 863.7,235.1 865.8,233 868,230.9 870.2,228.8 872.3,226.8 874.5,224.7 876.7,222.6 878.8,220.5 881,218.5 883.2,216.4 885.3,214.4 887.5,212.4 889.6,210.5 891.8,208.7 894,206.7 896.1,204.4 898.3,201.9 900.5,198.9 902.6,195.7 904.8,192.3 906.9,188.8 909.1,185.2 911.3,181.6 913.4,177.8 915.6,174 917.8,170 919.9,165.8 922.1,161.6 924.3,157.2" fill="none" stroke="#ffc125" stroke-width="1.1" stroke-linejoin="round"/>
<rect x="841.7" y="157.2" width="99.8" height="80" fill="none" stroke="#555" stroke-width="1"/>
<text x="861.5" y="244.8" font-size="6.1" font-weight="bold" text-anchor="middle" fill="#000">19992</text>
<text x="901.8" y="244.8" font-size="6.1" font-weight="bold" text-anchor="middle" fill="#000">19996</text>
<text x="943.3" y="244.8" font-size="6.1" font-weight="bold" text-anchor="middle" fill="#000">20000</text>
<text x="891.5" y="251.4" font-size="6.7" font-weight="bold" text-anchor="middle" fill="#000">Energy(eV)</text>
<text x="838.2" y="197.5" font-size="6.5" font-weight="bold" text-anchor="middle" fill="#000" transform="rotate(-90 838.2 197.5)">Normalized absorbance</text>
<rect x="691.3" y="36.6" width="260.2" height="218.6" fill="none" stroke="#000" stroke-width="1.1"/>
<line x1="727.9" y1="255.2" x2="727.9" y2="259.2" stroke="#000" stroke-width="1.1"/>
<text x="728.2" y="274" font-size="13.9" font-weight="bold" text-anchor="middle" fill="#000">19980</text>
<line x1="800.6" y1="255.2" x2="800.6" y2="259.2" stroke="#000" stroke-width="1.1"/>
<text x="800.9" y="274" font-size="13.9" font-weight="bold" text-anchor="middle" fill="#000">20000</text>
<line x1="873.2" y1="255.2" x2="873.2" y2="259.2" stroke="#000" stroke-width="1.1"/>
<text x="873.5" y="274" font-size="13.9" font-weight="bold" text-anchor="middle" fill="#000">20020</text>
<line x1="946" y1="255.2" x2="946" y2="259.2" stroke="#000" stroke-width="1.1"/>
<text x="946.3" y="274" font-size="13.9" font-weight="bold" text-anchor="middle" fill="#000">20040</text>
<text x="821" y="288" font-size="13.3" font-weight="bold" text-anchor="middle" fill="#000">Energy (eV)</text>
<text x="682.3" y="138.3" font-size="13.6" font-weight="bold" text-anchor="middle" fill="#000" transform="rotate(-90 682.3 138.3)">Normalized absorbance</text>
<text x="660" y="53.5" font-size="22" font-weight="bold" text-anchor="start" fill="#000">(c)</text>
<line x1="700.6" y1="50" x2="726.5" y2="50" stroke="#ffc125" stroke-width="1.4"/>
<line x1="700.6" y1="70.6" x2="726.5" y2="70.6" stroke="#f98585" stroke-width="1.2"/>
<line x1="700.6" y1="91.2" x2="726.5" y2="91.2" stroke="#17807e" stroke-width="1.4"/>
<line x1="700.6" y1="108.7" x2="726.5" y2="108.7" stroke="#9a9a9a" stroke-width="1.1"/>
<text x="730.4" y="53.8" font-size="13.6" font-weight="bold" text-anchor="start" fill="#000">O/Mo<tspan font-size="9.2" dy="3">2</tspan><tspan dy="-3">C</tspan></text>
<text x="730.4" y="74.8" font-size="13.6" font-weight="bold" text-anchor="start" fill="#000">Ni<tspan font-size="9.2" dy="3">SA</tspan><tspan dy="-3">-O/Mo</tspan><tspan font-size="9.2" dy="3">2</tspan><tspan dy="-3">C</tspan></text>
<text x="730.4" y="94.8" font-size="13.6" font-weight="bold" text-anchor="start" fill="#000">Mo foil</text>
<text x="730.4" y="112.4" font-size="13.6" font-weight="bold" text-anchor="start" fill="#000">MoO<tspan font-size="9.2" dy="3">3</tspan></text>
</g>
<g id="panel_d">
<polyline points="67.9,521.3 69.5,519.7 71,518.2 72.5,516.9 74.1,515.6 75.6,514.4 77.2,513.3 78.7,512.1 80.2,511.1 81.8,510.3 83.3,509.8 84.9,509.5 86.4,509.3 88,509.2 89.5,509.2 91,509.4 92.6,509.8 94.1,510.2 95.7,510.4 97.2,510.5 98.8,509.9 100.3,508.6 101.8,507 103.4,505.2 104.9,502.7 106.5,499.9 108,497.2 109.5,495.1 111.1,493 112.6,491 114.2,489.4 115.7,488.5 117.3,488.1 118.8,487.8 120.3,487.8 121.9,488.9 123.4,490.8 125,492.9 126.5,495.1 128.1,498 129.6,501.1 131.1,504 132.7,506.5 134.2,509.1 135.8,511.5 137.3,513.2 138.8,513.8 140.4,513.5 141.9,513 143.5,512.5 145,512.1 146.6,511.6 148.1,511.3 149.6,511.8 151.2,512.7 152.7,513.7 154.3,514.5 155.8,515.4 157.4,516.2 158.9,516.4 160.4,515.8 162,514.4 163.5,512.6 165.1,510.4 166.6,507.2 168.1,503.1 169.7,498.5 171.2,493.4 172.8,488.3 174.3,482.4 175.9,475.9 177.4,468.9 178.9,461.6 180.5,454.2 182,446.2 183.6,437.8 185.1,429.1 186.7,420.7 188.2,412.9 189.7,405.5 191.3,398.4 192.8,391.5 194.4,385 195.9,379.1 197.4,373.6 199,368.3 200.5,363.9 202.1,360.8 203.6,358.5 205.2,357.4 206.7,358.1 208.2,360 209.8,362.4 211.3,366.9 212.9,372.9 214.4,379.7 216,386.5 217.5,394.2 219,402.6 220.6,411.3 222.1,420 223.7,428.4 225.2,437 226.7,445.7 228.3,454.3 229.8,462.3 231.4,469.4 232.9,476 234.5,482.4 236,488 237.5,492.2 239.1,494.9 240.6,497 242.2,498.7 243.7,500.2 245.3,501.6 246.8,502.8 248.3,503.8 249.9,505 251.4,506.4 253,507.8 254.5,509.5 256,511.3 257.6,513.3 259.1,515.6 260.7,517.8 262.2,520 263.8,522.5 265.3,524.9 266.8,525.8 268.4,524.2 269.9,520.9 271.5,517.4 273,514.4 274.6,511.2 276.1,508 277.6,504.8 279.2,501.9 280.7,499.3 282.3,496.7 283.8,494.2 285.3,491.9 286.9,489.9 288.4,488.3 290,486.7 291.5,485.2 293.1,484 294.6,482.9 296.1,482.1 297.7,481.4 299.2,480.8 300.8,480.4 302.3,480.2 303.8,480.3 305.4,480.7 306.9,481.3 308.5,482 310,482.8 311.6,483.8 313.1,485.1 314.6,486.5 316.2,488 317.7,489.5 319.3,491.1 320.8,492.8 322.4,494.5 323.9,496.4 325.4,498.3 327,500.4 328.5,502.5" fill="none" stroke="#ffc000" stroke-width="1.1" stroke-linejoin="round"/>
<polyline points="67.9,509.2 69.5,510 71,511 72.5,512 74.1,513.2 75.6,514.6 77.2,516.3 78.7,518 80.2,519.5 81.8,520.7 83.3,521.9 84.9,522.9 86.4,523.2 88,523 89.5,522.7 91,522.3 92.6,521.5 94.1,520.1 95.7,518 97.2,515.7 98.8,513.2 100.3,510.8 101.8,508 103.4,505 104.9,501.9 106.5,499 108,496.6 109.5,494.5 111.1,492.5 112.6,490.7 114.2,489.2 115.7,487.9 117.3,486.6 118.8,485.7 120.3,485.6 121.9,485.8 123.4,486.4 125,487.1 126.5,488.4 128.1,490.9 129.6,493.9 131.1,497.1 132.7,500.8 134.2,504.9 135.8,508.9 137.3,512.6 138.8,516.4 140.4,519.7 141.9,522.4 143.5,524.9 145,525.8 146.6,523.6 148.1,521.2 149.6,519.6 151.2,518.2 152.7,517.3 154.3,517.3 155.8,517.3 157.4,517.3 158.9,517.3 160.4,517.3 162,517.3 163.5,517 165.1,515.2 166.6,512.4 168.1,509.1 169.7,506.1 171.2,503.3 172.8,500.3 174.3,497.2 175.9,494 177.4,490.7 178.9,487.3 180.5,483.7 182,480.1 183.6,476.4 185.1,472.7 186.7,469.1 188.2,465.4 189.7,461.7 191.3,458.1 192.8,454.6 194.4,451.2 195.9,447.7 197.4,444.3 199,441.1 200.5,438.3 202.1,436.2 203.6,434.4 205.2,432.9 206.7,431.9 208.2,431.5 209.8,431.3 211.3,431.4 212.9,432.6 214.4,434.4 216,436.5 217.5,439.5 219,443.3 220.6,447.6 222.1,452.2 223.7,456.9 225.2,462.1 226.7,467.9 228.3,473.9 229.8,479.9 231.4,485.4 232.9,490.8 234.5,496.2 236,501.2 237.5,505.5 239.1,509 240.6,512.5 242.2,515 243.7,516 245.3,516.2 246.8,516.4 248.3,516.5 249.9,516.7 251.4,517 253,517.5 254.5,518.2 256,518.9 257.6,520 259.1,521.3 260.7,522.7 262.2,524 263.8,525.4 265.3,526.9 266.8,527.9 268.4,527.7 269.9,526 271.5,523.5 273,521.1 274.6,519 276.1,516.7 277.6,514.5 279.2,512.4 280.7,510.6 282.3,508.9 283.8,507.3 285.3,505.8 286.9,504.4 288.4,503.3 290,502.1 291.5,501 293.1,500.1 294.6,499.4 296.1,498.9 297.7,498.5 299.2,498.2 300.8,498 302.3,497.9 303.8,498 305.4,498.4 306.9,498.9 308.5,499.5 310,500.1 311.6,500.8 313.1,501.6 314.6,502.5 316.2,503.3 317.7,504 319.3,504.7 320.8,505.4 322.4,506.1 323.9,506.8 325.4,507.4 327,508 328.5,508.7" fill="none" stroke="#fa8a8a" stroke-width="1.1" stroke-linejoin="round"/>
<line x1="204.4" y1="348" x2="204.4" y2="443.4" stroke="#000" stroke-width="1.1" stroke-dasharray="2.6,1.8"/>
<line x1="117.1" y1="474.8" x2="117.1" y2="506" stroke="#000" stroke-width="1.1" stroke-dasharray="2.6,1.8"/>
<rect x="68.6" y="309.8" width="259.8" height="218.2" fill="none" stroke="#000" stroke-width="1.1"/>
<line x1="153.9" y1="528" x2="153.9" y2="532" stroke="#000" stroke-width="1.1"/>
<text x="153.6" y="547" font-size="13.3" font-weight="bold" text-anchor="middle" fill="#000">2</text>
<line x1="324" y1="528" x2="324" y2="532" stroke="#000" stroke-width="1.1"/>
<text x="323.7" y="547" font-size="13.3" font-weight="bold" text-anchor="middle" fill="#000">4</text>
<text x="201" y="555" font-size="13.5" font-weight="bold" text-anchor="middle" fill="#000">R(Å)</text>
<text x="57.8" y="413.8" font-size="13.8" font-weight="bold" text-anchor="middle" fill="#000" transform="rotate(-90 57.8 413.8)">|FT(κ<tspan font-size="9.4" dy="-5.2">3</tspan><tspan dy="5.2">χ)(κ)| (a.u.)</tspan></text>
<text x="35" y="326.2" font-size="22.8" font-weight="bold" text-anchor="start" fill="#000">(d)</text>
<line x1="73.3" y1="323.3" x2="99.6" y2="323.3" stroke="#ffc000" stroke-width="1"/>
<line x1="73.3" y1="344.5" x2="99.6" y2="344.5" stroke="#fa8a8a" stroke-width="0.9"/>
<text x="103.6" y="327.5" font-size="13.4" font-weight="bold" text-anchor="start" fill="#000">O/Mo<tspan font-size="9.1" dy="3">2</tspan><tspan dy="-3">C</tspan></text>
<text x="103.6" y="348.4" font-size="13.4" font-weight="bold" text-anchor="start" fill="#000">Ni<tspan font-size="9.1" dy="3">SA</tspan><tspan dy="-3">-O/Mo</tspan><tspan font-size="9.1" dy="3">2</tspan><tspan dy="-3">C</tspan></text>
<text x="218.6" y="356" font-size="13.2" font-weight="bold" text-anchor="start" fill="#000">Mo-Mo</text>
<text x="124.6" y="478.3" font-size="13.2" font-weight="bold" text-anchor="start" fill="#000">Mo-C</text>
</g>
<g id="panel_e">
<polyline points="377.4,517.5 378.9,517.5 380.5,517.5 382,517.5 383.6,517.5 385.1,517.5 386.7,517.5 388.2,517.5 389.7,517.5 391.3,517.5 392.8,517.5 394.4,517.5 395.9,517.5 397.5,517.5 399,517.4 400.6,517.4 402.1,517.4 403.7,517.4 405.2,517.4 406.8,517.4 408.3,517.4 409.9,517.3 411.4,517.3 413,517.3 414.5,517.3 416,517.3 417.6,517.3 419.1,517.2 420.7,517.2 422.2,517.1 423.8,517.1 425.3,517 426.9,516.9 428.4,516.8 430,516.7 431.5,516.5 433.1,516.4 434.6,516.3 436.2,516.2 437.7,516 439.2,515.9 440.8,515.8 442.3,515.6 443.9,515.5 445.4,515.3 447,515.1 448.5,514.8 450.1,514.5 451.6,514 453.2,513.3 454.7,512.3 456.3,510.9 457.8,508.4 459.4,505.1 460.9,499.8 462.5,493.4 464,488.6 465.5,484.7 467.1,481.5 468.6,479.1 470.2,477.2 471.7,475.5 473.3,473.6 474.8,471.8 476.4,470 477.9,468.1 479.5,466.2 481,464.2 482.6,462.3 484.1,460.1 485.7,457.7 487.2,454.8 488.7,451.3 490.3,447.2 491.8,442.3 493.4,436.9 494.9,431.6 496.5,426 498,421.2 499.6,417.5 501.1,414.4 502.7,412.7 504.2,411.7 505.8,411.2 507.3,411.2 508.9,411.8 510.4,412.5 511.9,413.4 513.5,414.4 515,414.6 516.6,414.3 518.1,413.9 519.7,412.9 521.2,411.1 522.8,409.5 524.3,408.1 525.9,407 527.4,406.6 529,406.8 530.5,407.3 532.1,408 533.6,408.6 535.2,409.2 536.7,409.9 538.2,410.6 539.8,411.3 541.3,412 542.9,412.6 544.4,413.1 546,413.7 547.5,414.2 549.1,414.6 550.6,414.9 552.2,415.2 553.7,415.4 555.3,415.6 556.8,415.7 558.4,415.6 559.9,415.3 561.4,414.8 563,414.1 564.5,413.4 566.1,412.7 567.6,412 569.2,411.1 570.7,410.2 572.3,409.2 573.8,408.2 575.4,407.1 576.9,405.7 578.5,404.4 580,403.2 581.6,402.3 583.1,401.4 584.7,400.6 586.2,400 587.7,399.6 589.3,399.6 590.8,399.6 592.4,399.6 593.9,399.6 595.5,399.9 597,400.5 598.6,401.3 600.1,402.1 601.7,403.1 603.2,404.3 604.8,405.6 606.3,407 607.9,408.1 609.4,409 610.9,409.8 612.5,410.5 614,411.2 615.6,411.7 617.1,412.1 618.7,412.5 620.2,412.8 621.8,413.1 623.3,413.2 624.9,413.3 626.4,413.3 628,413.2 629.5,413.2 631.1,413.1 632.6,413 634.2,412.9 635.7,412.8 637.2,412.6 638.8,412.5" fill="none" stroke="#c8960c" stroke-width="1.1" stroke-linejoin="round"/>
<polyline points="417.7,516.4 419,516.4 420.3,516.4 421.6,516.4 422.9,516.4 424.2,516.4 425.5,516.4 426.8,516.4 428.1,516.4 429.4,516.4 430.8,516.4 432.1,516.4 433.4,516.4 434.7,516.4 436,516.4 437.3,516.4 438.6,516.4 439.9,516.4 441.2,516.4 442.5,516.4 443.8,516.3 445.2,516.2 446.5,516.1 447.8,515.9 449.1,515.8 450.4,515.6 451.7,515.5 453,515.3 454.3,515.1 455.6,514.7 456.9,514.3 458.2,513.9 459.5,513.5 460.9,513.1 462.2,512.7 463.5,512.4 464.8,512.2 466.1,512 467.4,511.9 468.7,511.7 470,511.4 471.3,510.8 472.6,509.7 473.9,508.4 475.2,506.8 476.6,504.7 477.9,501.7 479.2,498.1 480.5,494.1 481.8,489.8 483.1,484.7 484.4,479 485.7,472.8 487,466.2 488.3,459 489.6,451.1 490.9,442.4 492.3,432.6 493.6,421.9 494.9,410.7 496.2,399.1 497.5,386 498.8,372.5 500.1,360.1 501.4,350.2 502.7,341.2 504,333.9 505.3,329.7 506.6,327.3 508,327.6 509.3,329.9 510.6,334.1 511.9,341.3 513.2,348.7 514.5,355.9 515.8,363.3 517.1,370.7 518.4,377.5 519.7,383.9 521,390.1 522.3,395.9 523.7,401.2 525,406.1 526.3,410.7 527.6,414.9 528.9,418.5 530.2,421.5 531.5,424.1 532.8,426 534.1,427.3 535.4,428.3 536.7,428.6 538,427.8 539.4,426.5 540.7,424.9 542,422.2 543.3,419.2 544.6,416.3 545.9,414.3 547.2,412.3 548.5,410.9 549.8,410.6 551.1,410.8 552.4,411.1 553.7,411.6 555.1,412.1 556.4,412.8 557.7,413.7 559,414.7 560.3,415.8 561.6,416.9 562.9,418 564.2,419 565.5,420 566.8,421.1 568.1,422.1 569.4,423 570.8,423.7 572.1,424.4 573.4,425.1 574.7,425.8 576,426.2 577.3,426.4 578.6,426.3 579.9,425.8 581.2,425.1 582.5,424.3 583.8,423.5 585.1,422.7 586.5,421.8 587.8,420.9 589.1,420 590.4,419.1 591.7,418.2 593,417.5 594.3,416.8 595.6,416.2 596.9,415.6 598.2,414.9 599.5,414.3 600.8,413.5 602.2,412.8 603.5,412 604.8,411.1 606.1,410.1 607.4,408.9 608.7,407.3 610,405.2 611.3,403 612.6,400.8 613.9,398.9 615.2,397.1 616.5,395.4 617.9,393.8 619.2,392.3 620.5,390.9 621.8,389.7 623.1,388.6 624.4,387.6 625.7,386.6 627,385.8 628.3,385 629.6,384.4 630.9,383.8 632.3,383.3 633.6,382.8 634.9,382.4 636.2,382.1 637.5,381.8 638.8,381.6" fill="none" stroke="#9d9de2" stroke-width="1.1" stroke-linejoin="round"/>
<polyline points="377.4,517.5 378.9,517.5 380.5,517.5 382,517.5 383.6,517.5 385.1,517.5 386.7,517.5 388.2,517.5 389.7,517.5 391.3,517.5 392.8,517.5 394.4,517.5 395.9,517.5 397.5,517.4 399,517.4 400.6,517.4 402.1,517.4 403.7,517.4 405.2,517.4 406.8,517.4 408.3,517.4 409.9,517.3 411.4,517.3 413,517.3 414.5,517.3 416,517.3 417.6,517.3 419.1,517.2 420.7,517.2 422.2,517.2 423.8,517.1 425.3,517.1 426.9,517 428.4,517 430,516.9 431.5,516.8 433.1,516.8 434.6,516.7 436.2,516.6 437.7,516.5 439.2,516.4 440.8,516.4 442.3,516.3 443.9,516.1 445.4,516 447,515.9 448.5,515.7 450.1,515.5 451.6,515.3 453.2,515 454.7,514.4 456.3,513.6 457.8,512.5 459.4,511.5 460.9,510.4 462.5,509.1 464,507.7 465.5,506.3 467.1,505.3 468.6,504.4 470.2,503.5 471.7,502.1 473.3,500.1 474.8,497.3 476.4,494.1 477.9,490.8 479.5,487.5 481,483.9 482.6,479.8 484.1,474.9 485.7,468.5 487.2,461 488.7,452.8 490.3,444.3 491.8,435 493.4,424.8 494.9,414.2 496.5,403.5 498,391.7 499.6,380.4 501.1,371.4 502.7,363.6 504.2,357.6 505.8,355.3 507.3,354.8 508.9,356.4 510.4,359 511.9,363.7 513.5,369.2 515,374.2 516.6,379.1 518.1,383.8 519.7,388.1 521.2,391.8 522.8,395.3 524.3,398.3 525.9,400.6 527.4,402.7 529,404.5 530.5,405.7 532.1,406.7 533.6,407.5 535.2,408.2 536.7,408.8 538.2,409.2 539.8,409.4 541.3,409.6 542.9,409.7 544.4,409.8 546,409.9 547.5,410.1 549.1,410.3 550.6,410.6 552.2,411.2 553.7,411.9 555.3,412.7 556.8,413.5 558.4,414.3 559.9,415.1 561.4,415.9 563,416.7 564.5,417.4 566.1,418.1 567.6,418.9 569.2,419.5 570.7,420.1 572.3,420.6 573.8,420.9 575.4,421.2 576.9,421.3 578.5,421.3 580,420.9 581.6,420.4 583.1,419.7 584.7,419 586.2,418.1 587.7,417.1 589.3,416 590.8,414.8 592.4,413.8 593.9,412.8 595.5,411.7 597,410.7 598.6,409.7 600.1,408.8 601.7,407.9 603.2,407 604.8,406.2 606.3,405.5 607.9,404.7 609.4,404 610.9,403.4 612.5,402.7 614,402.2 615.6,401.6 617.1,401.1 618.7,400.6 620.2,400.1 621.8,399.7 623.3,399.3 624.9,399 626.4,398.7 628,398.5 629.5,398.3 631.1,398.1 632.6,398 634.2,397.9 635.7,397.8 637.2,397.7 638.8,397.7" fill="none" stroke="#f98080" stroke-width="1.1" stroke-linejoin="round"/>
<line x1="507.1" y1="320" x2="507.1" y2="411.5" stroke="#000" stroke-width="1.5" stroke-dasharray="1.5,3.2"/>
<line x1="439.2" y1="492.3" x2="514.5" y2="492.3" stroke="#000" stroke-width="1.2" stroke-dasharray="6.7,5.5"/>
<polygon points="521.3,492.3 513.5,490.5 513.5,494.1" fill="#000"/>
<rect x="377.4" y="309.8" width="261.4" height="218.2" fill="none" stroke="#000" stroke-width="1.1"/>
<line x1="377.4" y1="528" x2="377.4" y2="532" stroke="#000" stroke-width="1.1"/>
<text x="377.7" y="546.6" font-size="13.6" font-weight="bold" text-anchor="middle" fill="#000">8300</text>
<line x1="429.8" y1="528" x2="429.8" y2="532" stroke="#000" stroke-width="1.1"/>
<text x="430.1" y="546.6" font-size="13.6" font-weight="bold" text-anchor="middle" fill="#000">8320</text>
<line x1="481.6" y1="528" x2="481.6" y2="532" stroke="#000" stroke-width="1.1"/>
<text x="481.9" y="546.6" font-size="13.6" font-weight="bold" text-anchor="middle" fill="#000">8340</text>
<line x1="534" y1="528" x2="534" y2="532" stroke="#000" stroke-width="1.1"/>
<text x="534.3" y="546.6" font-size="13.6" font-weight="bold" text-anchor="middle" fill="#000">8360</text>
<line x1="586.1" y1="528" x2="586.1" y2="532" stroke="#000" stroke-width="1.1"/>
<text x="586.4" y="546.6" font-size="13.6" font-weight="bold" text-anchor="middle" fill="#000">8380</text>
<line x1="638.8" y1="528" x2="638.8" y2="532" stroke="#000" stroke-width="1.1"/>
<text x="639.1" y="546.6" font-size="13.6" font-weight="bold" text-anchor="middle" fill="#000">8400</text>
<text x="507.8" y="563.8" font-size="13.8" font-weight="bold" text-anchor="middle" fill="#000">Energy (eV)</text>
<text x="366.8" y="419.3" font-size="13.7" font-weight="bold" text-anchor="middle" fill="#000" transform="rotate(-90 366.8 419.3)">Normalized absorbance</text>
<text x="347.2" y="327" font-size="22.4" font-weight="bold" text-anchor="start" fill="#000">(e)</text>
<line x1="383.3" y1="327.3" x2="409.6" y2="327.3" stroke="#c8960c" stroke-width="1.1"/>
<line x1="383.3" y1="344.8" x2="409.6" y2="344.8" stroke="#9d9de2" stroke-width="1.1"/>
<line x1="383.3" y1="362.2" x2="409.6" y2="362.2" stroke="#f98080" stroke-width="1.1"/>
<text x="413.6" y="331.1" font-size="13.4" font-weight="bold" text-anchor="start" fill="#000">Ni foil</text>
<text x="413.6" y="348.5" font-size="13.4" font-weight="bold" text-anchor="start" fill="#000">NiO</text>
<text x="413.6" y="366" font-size="13.6" font-weight="bold" text-anchor="start" fill="#000">Ni<tspan font-size="9.2" dy="3">SA</tspan><tspan dy="-3">-O/Mo</tspan><tspan font-size="9.2" dy="3">2</tspan><tspan dy="-3">C</tspan></text>
<text x="499.6" y="479.6" font-size="13.4" font-weight="bold" text-anchor="start" fill="#000">High valence state</text>
</g>
<g id="panel_f">
<polyline points="689.9,517.9 691.3,517.9 692.6,517.9 694,517.8 695.4,517.8 696.8,517.8 698.1,517.7 699.5,517.7 700.9,517.7 702.2,517.6 703.6,517.6 705,517.6 706.3,517.5 707.7,517.5 709.1,517.4 710.4,517.4 711.8,517.4 713.2,517.3 714.6,517.3 715.9,517.3 717.3,517.2 718.7,517.2 720,517.2 721.4,517.1 722.8,517.1 724.1,517 725.5,517 726.9,517 728.2,516.9 729.6,516.9 731,516.8 732.3,516.8 733.7,516.7 735.1,516.7 736.5,516.6 737.8,516.6 739.2,516.5 740.6,516.5 741.9,516.4 743.3,516.4 744.7,516.3 746,516.2 747.4,516.1 748.8,516.1 750.1,516 751.5,515.9 752.9,515.8 754.3,515.7 755.6,515.6 757,515.5 758.4,515.3 759.7,515.2 761.1,515 762.5,514.8 763.8,514.5 765.2,514.2 766.6,513.9 767.9,513.5 769.3,513.2 770.7,512.9 772,512.6 773.4,512.2 774.8,511.9 776.2,511.8 777.5,511.8 778.9,512.3 780.3,512.7 781.6,513.1 783,513 784.4,512.3 785.7,511.3 787.1,510.2 788.5,508.8 789.8,506.7 791.2,504.4 792.6,502.2 794,500 795.3,497.6 796.7,495.4 798.1,493.9 799.4,493 800.8,492.4 802.2,491.9 803.5,491.1 804.9,489.9 806.3,488.1 807.6,485.6 809,480.4 810.4,472.3 811.7,463.4 813.1,453.2 814.5,441.7 815.9,430.3 817.2,419.1 818.6,407.8 820,396.9 821.3,386.8 822.7,376.6 824.1,366.8 825.4,358.5 826.8,352.5 828.2,347.3 829.5,343.6 830.9,342.8 832.3,343 833.7,343.8 835,347.1 836.4,352.3 837.8,358.2 839.1,366.3 840.5,376.1 841.9,386.7 843.2,397.2 844.6,408.8 846,420.8 847.3,432.7 848.7,444.2 850.1,455.8 851.4,467 852.8,477.3 854.2,486.4 855.6,495 856.9,501.8 858.3,506.6 859.7,509.7 861,509.5 862.4,508.3 863.8,507.3 865.1,506.9 866.5,506.5 867.9,506.4 869.2,507.1 870.6,509.1 872,511.1 873.4,512.9 874.7,514.9 876.1,516.5 877.5,517.1 878.8,516.6 880.2,515.3 881.6,513.8 882.9,511.6 884.3,508.5 885.7,505.4 887,502.8 888.4,500.6 889.8,498.5 891.1,496.7 892.5,495.8 893.9,495.1 895.3,494.5 896.6,494.1 898,493.8 899.4,493.8 900.7,493.8 902.1,493.9 903.5,494 904.8,494.1 906.2,494.2 907.6,494.4 908.9,494.6 910.3,494.9 911.7,495.2 913,495.5 914.4,495.8 915.8,496 917.2,496.3 918.5,496.5 919.9,496.7 921.3,496.9 922.6,497 924,496.9 925.4,496.6 926.7,496 928.1,495.3 929.5,494.2 930.8,492 932.2,489.2 933.6,486.3 935,483.3 936.3,479.8 937.7,476.2 939.1,472.7 940.4,469.4 941.8,466 943.2,462.9 944.5,460.3 945.9,458.1 947.3,456.3 948.6,454.8" fill="none" stroke="#c8960c" stroke-width="1.1" stroke-linejoin="round"/>
<polyline points="689.9,517.1 691.3,516.7 692.6,516.3 694,516 695.4,515.7 696.8,515.5 698.1,515.3 699.5,515.3 700.9,515.3 702.2,515.3 703.6,515.4 705,515.5 706.3,515.7 707.7,515.8 709.1,515.9 710.4,516 711.8,516.1 713.2,516.2 714.6,516.3 715.9,516.4 717.3,516.5 718.7,516.5 720,516.6 721.4,516.6 722.8,516.4 724.1,515.8 725.5,514.8 726.9,513.7 728.2,512.5 729.6,511.3 731,509.9 732.3,508.3 733.7,506.6 735.1,505.2 736.5,504.5 737.8,504.2 739.2,503.9 740.6,503.7 741.9,503.7 743.3,504.2 744.7,505.3 746,506.5 747.4,507.3 748.8,508.1 750.1,508.8 751.5,509.4 752.9,509.8 754.3,509.8 755.6,509 757,507.5 758.4,505.7 759.7,504 761.1,502.7 762.5,501.5 763.8,500.6 765.2,500.5 766.6,500.7 767.9,501 769.3,501.2 770.7,501.3 772,501.2 773.4,501.2 774.8,501.1 776.2,500.7 777.5,499.1 778.9,496.9 780.3,494.5 781.6,492.2 783,489.7 784.4,486.9 785.7,484.3 787.1,482.1 788.5,480.3 789.8,478.5 791.2,477 792.6,476.3 794,476.6 795.3,477.5 796.7,478.8 798.1,480.2 799.4,481.8 800.8,484 802.2,486.4 803.5,488.8 804.9,491.1 806.3,493.2 807.6,495.3 809,497.3 810.4,499.1 811.7,500.6 813.1,502 814.5,503.3 815.9,504.2 817.2,504.5 818.6,503.8 820,502.5 821.3,501.2 822.7,500.3 824.1,499.6 825.4,499.1 826.8,498.7 828.2,498.6 829.5,498.8 830.9,499.1 832.3,499 833.7,497 835,493.5 836.4,488.6 837.8,478.9 839.1,467.1 840.5,456.5 841.9,445.5 843.2,434.7 844.6,424.9 846,416.8 847.3,409.3 848.7,402.6 850.1,397.2 851.4,393.3 852.8,389.7 854.2,386.8 855.6,385.1 856.9,384.7 858.3,384.4 859.7,384.8 861,386.3 862.4,388.5 863.8,392.1 865.1,398.5 866.5,406.5 867.9,414.9 869.2,423.5 870.6,433.4 872,443.5 873.4,453 874.7,462 876.1,470.9 877.5,479 878.8,485.9 880.2,491.8 881.6,497.2 882.9,501.6 884.3,504.8 885.7,507.2 887,509.4 888.4,510.8 889.8,511.2 891.1,511 892.5,510.7 893.9,510.3 895.3,510 896.6,509.9 898,510.1 899.4,510.4 900.7,510.9 902.1,511.5 903.5,513 904.8,514.9 906.2,516.3 907.6,516.4 908.9,514.5 910.3,511.6 911.7,508.1 913,502.7 914.4,496.4 915.8,490.5 917.2,486.1 918.5,482.2 919.9,478.7 921.3,475.9 922.6,473.5 924,471.4 925.4,469.6 926.7,468.4 928.1,467.9 929.5,467.4 930.8,467.1 932.2,466.9 933.6,467 935,467.5 936.3,468.2 937.7,468.9 939.1,469.7 940.4,470.6 941.8,471.7 943.2,472.7 944.5,473.8 945.9,474.8 947.3,476 948.6,477.1" fill="none" stroke="#9d9de2" stroke-width="1.1" stroke-linejoin="round"/>
<polyline points="689.9,516.1 691.3,515.1 692.6,514.3 694,513.5 695.4,512.9 696.8,512.3 698.1,511.7 699.5,511.3 700.9,511.3 702.2,511.9 703.6,512.7 705,513.6 706.3,514.5 707.7,515.6 709.1,516.7 710.4,517.4 711.8,517.2 713.2,516.4 714.6,515.2 715.9,514.1 717.3,513.1 718.7,511.9 720,510.9 721.4,510.4 722.8,510.5 724.1,510.9 725.5,511.4 726.9,512 728.2,512.8 729.6,513.9 731,514.8 732.3,515.3 733.7,514.7 735.1,513.3 736.5,511.5 737.8,509.8 739.2,507.8 740.6,505.5 741.9,503.4 743.3,502.2 744.7,501.5 746,500.9 747.4,500.6 748.8,500.5 750.1,501 751.5,502.1 752.9,503.5 754.3,505 755.6,507.5 757,510.4 758.4,512.6 759.7,513.1 761.1,512.6 762.5,511.8 763.8,510.6 765.2,507.6 766.6,503.8 767.9,500 769.3,495.8 770.7,491.5 772,487.3 773.4,483.8 774.8,480.4 776.2,477.2 777.5,474.3 778.9,471.7 780.3,469.5 781.6,467.4 783,465.4 784.4,463.8 785.7,462.6 787.1,461.7 788.5,460.9 789.8,460.3 791.2,459.8 792.6,459.6 794,459.8 795.3,460.5 796.7,461.5 798.1,462.7 799.4,464.5 800.8,467.1 802.2,470.2 803.5,473.5 804.9,477.2 806.3,481.5 807.6,486 809,490.3 810.4,494 811.7,497.3 813.1,500.5 814.5,503.4 815.9,505.8 817.2,507.4 818.6,508.7 820,509.6 821.3,509.9 822.7,509.7 824.1,509.4 825.4,508.9 826.8,508.4 828.2,507.8 829.5,507 830.9,506 832.3,504.9 833.7,503.8 835,502.7 836.4,501.5 837.8,500.3 839.1,499.1 840.5,498.1 841.9,497.5 843.2,496.9 844.6,496.5 846,496.6 847.3,497.4 848.7,498.6 850.1,500 851.4,501.4 852.8,503.4 854.2,505.5 855.6,507.5 856.9,509 858.3,510 859.7,510.7 861,511.4 862.4,511.9 863.8,512.5 865.1,513 866.5,513.5 867.9,514 869.2,514.5 870.6,514.9 872,515.2 873.4,515.6 874.7,516 876.1,516.3 877.5,516.5 878.8,516.6 880.2,516.1 881.6,514.8 882.9,513.3 884.3,511.9 885.7,511.2 887,510.8 888.4,510.4 889.8,510.1 891.1,509.9 892.5,509.9 893.9,509.9 895.3,510 896.6,510.1 898,510.3 899.4,510.5 900.7,511 902.1,511.8 903.5,512.8 904.8,513.8 906.2,514.8 907.6,515.6 908.9,516.5 910.3,517.3 911.7,517.9 913,517.9 914.4,517.4 915.8,516.6 917.2,515.6 918.5,514.7 919.9,514.1 921.3,513.7 922.6,513.4 924,513.2 925.4,513.1 926.7,513.2 928.1,513.7 929.5,514.4 930.8,515.2 932.2,516 933.6,516.5 935,516.9 936.3,517.2 937.7,517.5 939.1,517.7 940.4,517.9 941.8,517.9 943.2,517.9 944.5,517.7 945.9,517.4 947.3,517.1 948.6,516.6" fill="none" stroke="#f98080" stroke-width="1.1" stroke-linejoin="round"/>
<line x1="830.7" y1="333.1" x2="830.7" y2="425.2" stroke="#000" stroke-width="1.1" stroke-dasharray="2.6,1.8"/>
<line x1="857.3" y1="368.8" x2="857.3" y2="411.8" stroke="#000" stroke-width="1.1" stroke-dasharray="2.6,1.8"/>
<line x1="793.4" y1="448.1" x2="793.4" y2="510.4" stroke="#000" stroke-width="1.1" stroke-dasharray="2.6,1.8"/>
<line x1="845.2" y1="483.5" x2="845.2" y2="515.8" stroke="#000" stroke-width="1.1" stroke-dasharray="2.6,1.8"/>
<line x1="853.3" y1="493" x2="881.2" y2="472.9" stroke="#000" stroke-width="1.1"/>
<polygon points="886.9,468.8 882.5,474.7 879.9,471.1" fill="#000"/>
<rect x="689.9" y="308.4" width="258.7" height="218.1" fill="none" stroke="#000" stroke-width="1.1"/>
<line x1="689.9" y1="526.5" x2="689.9" y2="530.5" stroke="#000" stroke-width="1.1"/>
<text x="689.9" y="545.8" font-size="13.6" font-weight="bold" text-anchor="middle" fill="#000">0</text>
<line x1="754.7" y1="526.5" x2="754.7" y2="530.5" stroke="#000" stroke-width="1.1"/>
<text x="754.7" y="545.8" font-size="13.6" font-weight="bold" text-anchor="middle" fill="#000">1</text>
<line x1="819.7" y1="526.5" x2="819.7" y2="530.5" stroke="#000" stroke-width="1.1"/>
<text x="819.7" y="545.8" font-size="13.6" font-weight="bold" text-anchor="middle" fill="#000">2</text>
<line x1="884.2" y1="526.5" x2="884.2" y2="530.5" stroke="#000" stroke-width="1.1"/>
<text x="884.2" y="545.8" font-size="13.6" font-weight="bold" text-anchor="middle" fill="#000">3</text>
<line x1="948.6" y1="526.5" x2="948.6" y2="530.5" stroke="#000" stroke-width="1.1"/>
<text x="948.6" y="545.8" font-size="13.6" font-weight="bold" text-anchor="middle" fill="#000">4</text>
<text x="818.4" y="561.2" font-size="13.5" font-weight="bold" text-anchor="middle" fill="#000">R(Å)</text>
<text x="679.5" y="421.5" font-size="14" font-weight="bold" text-anchor="middle" fill="#000" transform="rotate(-90 679.5 421.5)">|FT(κ<tspan font-size="9.5" dy="-5.3">3</tspan><tspan dy="5.3">χ)(κ)| (a.u.)</tspan></text>
<text x="664" y="326.8" font-size="22.4" font-weight="bold" text-anchor="start" fill="#000">(f)</text>
<line x1="697.4" y1="325.3" x2="723.8" y2="325.3" stroke="#c8960c" stroke-width="1.1"/>
<line x1="697.4" y1="342.8" x2="723.8" y2="342.8" stroke="#9d9de2" stroke-width="1.1"/>
<line x1="697.4" y1="359.4" x2="723.8" y2="359.4" stroke="#f98080" stroke-width="1.1"/>
<text x="730.2" y="329.1" font-size="13.6" font-weight="bold" text-anchor="start" fill="#000">Ni foil*0.5</text>
<text x="730.2" y="346.5" font-size="13.6" font-weight="bold" text-anchor="start" fill="#000">NiO*0.5</text>
<text x="730.2" y="364" font-size="13.6" font-weight="bold" text-anchor="start" fill="#000">Ni<tspan font-size="9.2" dy="3">SA</tspan><tspan dy="-3">-O/Mo</tspan><tspan font-size="9.2" dy="3">2</tspan><tspan dy="-3">C</tspan></text>
<text x="840.6" y="340.1" font-size="13.3" font-weight="bold" text-anchor="start" fill="#000">Ni-Ni</text>
<text x="872.1" y="377.4" font-size="13.3" font-weight="bold" text-anchor="start" fill="#000">Ni-Ni</text>
<text x="760.6" y="444.1" font-size="13.3" font-weight="bold" text-anchor="start" fill="#000">Ni-O</text>
<text x="879.3" y="461" font-size="13.4" font-weight="bold" text-anchor="start" fill="#000">Ni-O-Mo</text>
</g>
<g id="panel_g">
<clipPath id="cg"><rect x="69.6" y="572.2" width="258.2" height="218"/></clipPath>
<filter id="bg" x="-5%" y="-5%" width="110%" height="110%"><feGaussianBlur stdDeviation="1.5"/></filter>
<g clip-path="url(#cg)">
<g filter="url(#bg)">
<rect x="65.1" y="567.7" width="267.2" height="227" fill="#2f339c" stroke="none" stroke-width="1"/>
<path d="M85.6 569.2l1.1-1.5 116.1 0 4.8 3.2 3 1.1 3 0.2 10.5-1.8 3-1.2 1.8-1.5 103.2 0 0 226.5-267 0 0-7.9 57-2.1 15 1.1 12 0.1 4.9-0.2 5.8-1.5-13.7-1.4-24 1.1-57-2.2 0-80.4 4.4-5.6 3.6-6 1.6-4.5 2.9-13.5-1.2-10.5-2.3-10.5-1.7-4.5-7.3-13.9 0-39.1 1.9-4 3.1-4.5 11.5-10.4 4-4.6zM92.1 606.5l-3.2 1.7-2.8 2.8-1.7 3.2-0.6 3 0.3 4.5 1.5 4.5 2.6 4.5 2.4 2.5 2.9 2 3.1 1.2 7.5 0.8 7.5-1.8 3.1-1.7 3.6-3 2.1-3 0.9-4.5-1.6-4.5-3.6-4.3-6-4.3-7.5-3.4-6-0.9-4.5 0.7zM228.6 620.2l-4.3 1.5-0.4 1.5 1.7 1.3 3 0.6 3-0.1 1.5-0.7 0.9-1.1-0.9-1.8-1.5-0.8-3-0.4zM278.1 684.5l-2.6 1.7 0.2 1.5 3.9 1.9 13.5 0.1 4.4-2 0.1-1.5-2-1.5-2.5-0.6-7.5-0.7-7.5 1.1zM102.6 696l-1.2 0.7 2.8 0-1.6-0.7z" fill="#2b3ea7" fill-rule="evenodd"/>
<path d="M108.5 567.7l85.8 0 8.8 6.7 3 1.5 3 0.7 12-2 7.5-0.2 3-2 3.5-4.7 97 0 0 226.5-267 0 0-7.1 54-1.6 31.5 0.6 11.4-0.9 3.8-1.5-8.6-1.5-8.1-0.4-27 0.5-57-1.8 0-74.5 9-8.6 6.8-5.2 1.1-1.5-0.4-12 2.1-18 1.7-6 2.9-4.5 3.8-2.8 18-5.9 9.3-4.8 7.8-6 2.7-4.5-0.1-4.5-3-6-3.8-4.5-12-12-3.4-4.5-2.1-4.5-1-4.5 0.1-6 1.3-6 2.6-6zM224.1 619.9l-2.4 1.8-0.3 1.5 1.1 1.5 3.1 1.1 4.5 0.5 3-0.3 2.4-1.3 0.6-1.5-0.4-1.5-1.1-1.2-3-1.3-4.5-0.1-3 0.8zM282.6 683l-6 1.4-2.4 1.8 0.2 1.5 3.7 2 6 0.9 4.5 0.1 7.5-1.3 2.9-1.7 0.1-1.6-1.7-1.4-2.8-1-6-0.9-6 0.2zM96.6 690.6l-4.5 0.9-1.5 0.7-1 1.5 1.2 3 4.3 3.4 3 1 4.5-0.3 4-1.1 3.2-1.5 1.8-1.5 0-1.5-1.7-1.5-2.8-1.3-6-1.5-4.5-0.3z" fill="#294fbd" fill-rule="evenodd"/>
<path d="M124.7 569.2l1.3-1.5 57.1 0 18.5 11.6 6 1.6 3-0.3 6.2-2.4 4.3-1 3 0 4.5 1 3-0.6 3.3-2.4 5.7-7.5 91.5 0 0 226.5-267 0 0-6.6 52.5-1.5 34.5 0.6 16.2-1.5 2.8-1.5-7.3-1.5-13.2-0.8-31.5 0.3-54-1.7 0-70.6 3.4-2.2 7.1-6.2 4.5-1.8 4.5 0.2 8.6 3.3 4.9 0.8 13.5-2.8 7.5-0.9 3.1-1.6 1.1-1.5-0.1-1.5-1.1-1.4-3.2-1.6-13.3-3.2-15-4.8-3.2-2.5-0.7-1.5-0.3-3 1-7.5 1.7-5.8 2.5-4.7 2.5-3 6.4-4.5 12.6-6.4 17.9-10.1 3.9-3 2.7-4.5 0.7-4.5-1.5-4.5-5.7-8.5-9.4-11-1.8-3-1.7-4.5-0.6-4.5 0.7-6 2.4-6 4-6zM224.1 618.5l-3.4 1.7-1.4 1.5-0.3 1.5 0.7 1.5 1.4 1 4.5 1.2 7.5 0.4 3-0.9 1.5-1.7 0-3-1-1.5-2-1.4-4.5-1-6 0.7zM279.6 683l-4.5 1.4-2.1 1.8 0.6 1.9 1.6 1.1 2.9 1 6 0.9 7.5-0.2 6-1.3 3-1.9 0.2-1.5-1.5-1.5-4.7-1.6-7.5-0.8-7.5 0.7z" fill="#2563d1" fill-rule="evenodd"/>
<path d="M143.8 569.2l3.6-1.5 18 0 7.1 3 8.1 5.6 4.5 2.3 14.7 5.6 6.3 0.8 4.5-0.9 7.5-3.8 3-0.9 3-0.1 6 1.3 5.3-0.9 3.7-2.7 8.2-9.3 84.8 0 0 226.5-267 0 0-6.1 52.5-1.3 36 0.4 19.5-1.9 3-1.6-6.6-1.5-18.9-1.3-31.5 0.4-54-1.7 0-67.4 4.5-2.8 6-5.1 3-1.3 4.5-0.3 10.5 2.3 4.5 0.3 9-2.1 13.5-1.3 4.9-2.2 2.3-3-0.4-3-3.4-3-6.4-2.2-12-3-9.8-5.3-2.8-3-0.5-4.5 1.1-4.2 1.6-3.3 5.3-6 20.4-13.5 16.2-8.4 3-2.8 2.3-3.8 1.7-6-0.4-4.5-10.7-24-1.3-4.5-0.2-3 1-6 3-6 3.9-4.5 4.4-3zM224.1 617.2l-4.5 1.8-2.8 2.7-0.4 1.5 0.3 1.5 1.5 1.5 4.4 1.3 10.5 1.1 3-0.3 2.8-2.1 0.5-1.5-0.1-3-1.7-2.8-1.5-1.1-6-1.4-6 0.8zM276.6 683.1l-3.6 1.6-1.3 1.5 0.2 1.5 1.8 1.5 5.9 1.8 6 0.5 7.5-0.3 6-1.4 3.3-2.1 0.2-1.5-1.4-1.5-6.6-2.3-9-0.5-9 1.2z" fill="#2078e3" fill-rule="evenodd"/>
<path d="M253.1 569.2l1.6-1.5 77.4 0 0 226.5-267 0 0-5.3 51-1.6 39 0.5 21-2 3.8-0.6 1.8-1.5-6.8-1.5-21.3-1.6-34.5 0.2-54-1.6 0-64.6 4.8-2.9 5.7-4.6 3-1.4 4.5-0.3 13.5 1.5 10.5-2.3 12-0.6 4.5-1.1 3-1.4 4-3.3 1.1-3-0.6-2.1-1.8-2.4-4.2-2.6-14.2-4.9-5.3-2.8-2.1-1.7-2.2-3-0.7-4.5 1.1-3 2-3 6.5-6 16.1-12 13.8-5.8 2.1-1.7 2.4-3.1 3.7-7.4 1.3-6-0.5-4.5-2.4-9-0.1-7.5 4.4-15 2.6-3.8 4.5-2.1 3-0.2 3 0.4 3 1.6 6.4 5.6 4.1 1.9 3-0.1 7.5-2.2 10.5 1.4 6-0.2 6-1.9 7.6-4.9 4.1-1.5 3.3 0.1 9 2.1 5.2-0.7 3.8-2.7 9.5-10.8zM281.1 681.7l-6.6 1.5-2.9 1.5-1.2 1.5 0.2 1.5 1.7 1.5 4.3 1.6 7.5 1.1 9-0.2 7.5-1.7 3.8-2.3 0.2-1.5-1.2-1.5-5.8-2.3-7.5-1.1-9 0.4zM224.1 615.5l-6 2.3-3.3 2.4-1.8 3-0.1 1.5 0.7 1.8 3 1.8 12 0.8 6 1.2 3-0.2 1.7-0.9 1.3-1.6 0.7-2.9-0.6-4.5-1.8-3-2.8-1.8-3-0.7-4.5-0.1-4.5 0.9z" fill="#178cec" fill-rule="evenodd"/>
<path d="M261.2 569.2l2.4-1.5 66.4 0 2.1 1.6 0 224.9-267 0 0-4.6 51-1.7 36 0.8 19.5-1.4 16.1-2.1 1-1.5-8-1.5-21.1-1.8-13.5-0.5-30 0.4-51-1.7 0-61.8 13.5-8.6 4.5-0.4 13.5 0.6 10.5-2.4 13.5-0.8 7.6-2.5 6-4.5 1.7-3 0-1.5-2-3-4.3-3.6-12.8-5.4-4.5-3-2.3-3-0.6-1.5 0.1-3 1.3-3 2.3-2.8 14.1-13.7 5.4-3 10.5-1.9 3-2.8 10.1-19.3 1.2-6-1-7.5 0.4-4.5 1.8-4.5 2.7-3 2.8-1.7 3-0.7 9 0.3 4.5-0.5 4.5-2.8 3-0.7 3 0.4 6 2.8 4.5-0.5 6-2 3-1.5 9.7-8.1 3.8-1.3 3 0.6 9 4.5 3 0.4 3-0.4 3-1.7 8.9-11.1 7.2-6zM278.1 681.6l-6 1.8-2 1.3-1 1.5 0.2 1.5 1.5 1.5 5.8 2.1 9 1.1 9-0.4 7.5-1.5 3-1.3 1.7-1.5 0.3-1.5-1.1-1.5-2.6-1.5-4.3-1.3-10.5-1.2-10.5 0.9zM230.1 603.3l-2 1.9-2.9 6-13.1 6.9-4 3.6-1.6 4.5 0.9 3 1.5 1.5 2.4 1.5 2.3 0.6 6-2.1 7.5-0.6 3.1 0.6 4.4 2.5 1.5 0.1 3-0.9 2-1.7 3.2-6-1.4-4.5 0.2-3 1.4-1.5 2.6-1.5 0.8-1.5-0.1-1.5-1.2-2-1.5-1.1-7.5-1.7-4.7-2.7-2.8-0.4z" fill="#0f9eec" fill-rule="evenodd"/>
<path d="M274.9 569.2l5.7-1.5 28.2 0 6.8 2.4 6 3.2 6 4.7 4.5 4.8 0 211.4-267 0 0-3.3 15.5-1.2 38.5-1.1 36 0.8 33.7-2.7 9.3-1.5-0.8-1.5-8.9-1.5-27.3-2.1-15-0.6-30 0.4-51-1.8 0-59.2 12-7.3 3-1.2 15-0.5 10.5-2.4 12-0.6 6.8-1.2 7.1-3 4.6-3 3.4-3 1.5-3 0-1.5-0.9-2-7.5-5.9-9-3.5-3.2-2.1-2.2-3-0.3-1.5 0.7-3 6.5-9.4 5.1-5.6 3.9-2.5 9-0.7 4.5-2.1 3-3.7 4.5-8.9 3-3.7 4.5-3.9 9-4.2 2.2-1.8 0.8-1.5-0.1-3-5.3-9-0.1-4.5 2.5-3.3 10.5-4.8 3-2 3-0.5 1.5 0.5 1.6 1.1 4 6 3.6 22.5 1.7 3 3.4 3 6.5 3 3.2 0.6 2.7-0.6 6.3-3.1 6-0.2 1.3 1.8-1 3 1.2 1.1 1.5 0.1 3.4-1.2 5.6-3.2 6-7.7 0.3-2.6-1.8-3 0-1.5 0.9-1.5 3.5-3 1-3-0.5-3-0.9-1.5-7.4-6-0.8-1.5 0.1-3 2.5-3 4.6-4.2 6-7.5 4.5-4.1 7.5-4.7 8.8-3.5zM284.1 680.2l-9 1.3-4.5 1.7-2.1 1.5-0.9 1.5 0.2 1.5 1.4 1.5 4.4 1.9 9 1.6 12-0.1 10.3-1.9 3.7-1.5 1.9-1.5 0.2-1.5-1.2-1.5-2.5-1.5-4.3-1.5-8.1-1.4-10.5-0.1zM223.6 585.7l2-0.1 2.1 1.6 2 3 0.1 3-1.2 1.6-4.5 2.4-3 0.9-2.8-0.4-0.4-3 0.9-3 2.3-3.9 2.5-2.1z" fill="#10acc6" fill-rule="evenodd"/>
<path d="M280.6 575.2l8-0.8 9 0.3 7.5 1.2 7.5 2.8 6 3.7 5 4.8 5.2 7.5 3.3 7.2 0 78-6 3.6-6 1.1-4.5-0.7-10.5-3-6-1.1-7.5-0.6-9 0.3-7.5 1.2-4.5 1.5-3 1.8-1.5 2.2 0.2 1.5 1.3 1.5 2.7 1.5 9.3 2.2 7.5 0.5 9-0.3 18-3.1 4.5-0.3 6 1.3 7.5 3.8 0 62.9-1.7 3.5-1.1 4.5 0.7 4.5 2.1 3.7 0 20.3-262 0 1.9-1.5 8-1.5 22.6-1.5 24-0.2 16.5 1.4 9 0.2 28.5-2.6 22.5-0.7 6-1.2 1.3-1.4-2.4-1.5-3.4-0.6-6.1-0.9-29.9-2.1-21-1-36 0.3-46.5-1.9 0-56.7 12-6.9 4.5-1.6 13.5-1 12-2.7 10.5-0.5 7.5-1.3 9.6-4.1 6.8-4.5 2.8-3 1.8-3 0.7-3-0.5-3-3.2-3.9-12-6.9-1.4-2.7 1.4-4.5 4.5-4.8 10.5-4.6 4.5-3.4 3.2-3.7 6.1-9 4.2-4.1 4.5-2.8 12-5.9 4.5-1.7 3 0 4.5 1.6 11.5 5.4 8 2.3 3-0.1 6-2.2 3-0.6 1.5 0.6 2.3 3 2.2 1.1 3 0.1 4.5-2.1 4.5-3.6 5.8-7.5 0.3-3-1.6-3 0.1-1.5 4.4-4.5 1.6-3 0.3-3-0.4-1.5-4.4-6-1.3-3 0-1.5 1.3-3 5.9-6.4 7.5-5.6 9-3.8 10-2.2zM183.8 599.2l2.8-0.9 2.3 0.9 2 3 0.8 3-0.3 4.5-1.8 4.4-1.5 1.8-3 1.2-3-0.8-3-2.6-1.7-2.5-0.7-3 0.3-1.5 1.7-3 5.1-4.5z" fill="#15b893" fill-rule="evenodd"/>
<path d="M272.8 584.2l9.8-0.6 12 0.4 7.5 1 6 1.8 6 3.5 4.3 4.4 3.7 6 2.2 6 1.7 12 0.2 25.5 1.1 4.5 4.8 13.1 0 10-2.1 3.9-2.4 2.2-3 1.7-6 1.2-24-2.6-7.5 0-9 1-9 2.6-3 1.9-1.6 2.5 0.2 1.5 2.9 2.6 7.5 2.5 15 1.2 19.5-1.4 6 0.1 7.5 1.8 9 4.7 0 52.2-4.1 5.3-3.5 6-1.5 4.5-0.3 3 0.8 3 1.9 3 6.7 6.3 0 11.7-117.4 0 2.8-9-1.4-1.5-5.5-1.5-58.5-3.4-36 0.3-37.5-1.3-13.5-1.1 0-54 12-6.6 4.5-1.8 15-1.9 10.5-2.5 13.5-1 7-1.7 10.2-4.5 6.9-4.5 6-6 2.4-4.5 0.1-4.5-3.4-12 0.3-3 1.1-3 7.8-12 5.1-6.6 4.5-4.1 7.5-4.4 7.5-2.9 6-0.7 6 0.8 15 3.7 4.5-0.1 7.5-1.8 1.5 0.2 4.5 2.7 3 0.8 3-0.4 3-1.3 4.5-4 6.4-7.4 1-3-1.7-4.5 0-1.5 5.3-4.5 2.8-4.5-0.2-4.5-4.7-7.5-0.3-1.5 0.4-1.8 3-3.2 6-3.6 6-2.2 6.7-1.2zM184.8 600.7l1.8 0.1 1.4 2.9-0.9 3-2 1.4-1.5-0.4-1-2.5 0.9-3 1.3-1.5zM104.3 791.2l14.8-0.4 10.2 0.4 4.9 1.5 0.1 1.5-41.1 0 1.3-1.5 9.8-1.5zM172.3 791.2l12.8-0.6 4.3 0.6 0.6 1.5-2.1 1.5-18.1 0-1.2-1.5 3.7-1.5z" fill="#1ac071" fill-rule="evenodd"/>
<path d="M261.5 594.7l4.6-0.9 4.5 0.1 18 2.8 16.5 0.7 3 0.9 3 2 3 5.5 2.7 12.9 2.6 28.5 1.6 4.5 4.7 9 1.5 4.5 0.2 4.5-1.3 3.7-3 2.9-6 1.6-25.5-0.9-15 1.4-4.5 1.1-5.3 2.2-2.2 1.5-1.8 3 0.3 1.5 1.5 1.9 3 1.7 4.5 1.5 13.5 1.7 22.5-0.4 6 0.5 4.5 1.1 4.5 1.8 9 5.4 0 44.2-5.9 6.6-7.5 10.5-3.4 6-1 4.5 1.1 3 1.3 1.5 15.4 11.1 0 3.9-111.4 0 0.1-9-0.7-1.5-2.3-1.5-5.7-1.2-63-2.8-25.5 0.6-34.6-1.1-14.9-1-9-1.1 0-51 12-6.6 6-2.2 13.5-2.2 10.5-2.4 12-1 9-2 12.6-5.5 9.3-6 5.4-4.5 3.1-4.5 0.6-4.5-1.5-13.5 0.8-4.5 1.8-4.5 3.7-6 4.7-5.6 4.5-3.8 6-3.6 7.5-2.7 6-0.7 7.5 0.4 12 1.9 10.5-1.8 9 3.1 3-0.1 3-1.2 3-2.3 9.3-10.6 0.9-3-1.8-4.5 0.1-1.5 7-4.5 4.3-4.5 1.2-4.5-0.6-3-2-4.5 0.3-1.5 2.2-1.5z" fill="#1fc462" fill-rule="evenodd"/>
<path d="M284.4 612.7l7.2-0.4 6 0.8 4.5 2.2 3 3.3 2.4 4.6 2 6 4.6 21 7.1 15 0.4 4.8-1.5 2.7-2.4 1.5-3.6 0.9-27 0.7-7.5 0.8-7.5 1.7-5.2 1.9-3.8 2.4-1.7 2.1-0.1 3 1.8 2.2 3 1.8 9 2.4 10.5 1 21 0.3 7.5 1 7.9 3.3 10.1 6.7 0 37-16.5 18.7-7.5 7-4.5 3.2-6 3.2-18 5.9-3.1 2.3-0.3 1.5 1.9 2.1 4.5 1.2 19.5-0.3 9 1 6 1.6 7.5 3.4-99.2 0-2.9-10.5-2.9-2.4-6-1.4-33-0.7-33-1.5-22.5 0.6-22-0.6-26.4-1.5-11.6-2.3 0-47.5 12-6.6 6-2.3 24-5.1 15-1.7 7.8-2 13.7-6 14.7-9 3.3-3 2-4.5-0.9-16.5 0.9-4.5 1.8-4.5 2.8-4.5 4-4.5 5.4-4.5 4.5-2.6 7.5-2.7 7.5-0.9 15 1 10.5-1.8 3 0.6 6 2.3 4.5-0.4 4.5-2.7 5-6.3 5.9-6 0.8-3-1.6-4.5 0.8-1.5 8.6-2.8 3-0.4 7.5 0.5 13.8-3.3z" fill="#2fc958" fill-rule="evenodd"/>
<path d="M255.4 621.7l1.7-1 3-0.1 7.5 2.6 3 0.3 15-1.2 6 0.6 4.5 1.9 3 2.4 2.5 3.5 2 4.2 4.6 16.8 5.9 13.5 0.2 3-0.6 1.5-1.8 1.5-5 1.5-22.8 1.9-12 2.3-4.5 1.5-4.5 2.3-2.8 2.5-1.1 3 1.2 3 1.6 1.5 4.1 2 4.5 1.3 12 1.6 24 1.1 7.5 1.5 6.1 3 11.9 8.6 0 30.1-15 16.6-6 5.6-6 3.9-7.5 3.5-24.1 6.7-10 4.5-4.3 3-2.3 3-0.3 1.5 0.2 3 2.1 3-27 0-8.2-12-4.1-2.4-4.5-1-34.5-0.2-34.5-1.5-19.5 0.7-16.5-0.4-31.5-2.2-7.5-1.6-6-2.4 0-42.9 12-6.8 7.5-2.9 22.5-5 16.5-2.2 9-2.6 10.8-4.6 17.1-9 4.5-3 1.3-1.5 1.2-3-0.9-15 0.5-4.5 1.5-4.5 3.5-6 7-6.9 4.5-3 4.3-2.1 9.2-2.2 15 0 10.5-2 3 0.4 6 2.3 3 0.2 3-0.8 3.5-2.4 5.5-7.2 5.7-4.8 1.9-3 1.2-4.5z" fill="#4acf54" fill-rule="evenodd"/>
<path d="M258.9 626.2l2.7-0.3 10.5 2.2 13.5 1.5 4.5 1.2 3 1.6 2.6 2.8 2.2 4.5 7 25.5-0.4 1.5-1.1 1.5-2.9 1.5-25.4 4.8-10.5 3.6-3.5 2.1-3 3-0.9 3 1.1 3 4.8 3.4 7.5 2.3 10.5 1.3 22.5 1.4 7.5 1.3 4.5 1.8 4.5 2.8 7 5.2 5 4.7 0 22.8-15 17.1-6 5.5-6 3.9-7.5 3.3-31 8.7-23 10-6 1.3-6-1.4-10.5-5.7-6-1.3-33 0.4-34.5-1.5-22.5 0.7-23.4-1-23.1-2.5-6.2-2-7.3-3.6 0-37.8 10.5-6.3 7.5-3.3 22.5-5.6 16.5-2.5 9-2.3 11.7-4.6 22.5-10.5 4.2-3 1.5-3 0.2-3-1-13.5 1.8-7.5 4.1-6.5 7.4-7 7.6-4.1 9-2.1 12-0.5 12-2.3 7.5 2.8 3 0.3 3-0.6 4.5-3 4.7-7 12.1-9z" fill="#64d550" fill-rule="evenodd"/>
<path d="M257.6 630.7l4-0.8 4.5 0.8 14.4 4.5 6.6 3.5 3 3.5 2.2 5 1.8 7.5 0.8 7.5-0.9 3-1.4 1.5-2.6 1.5-20.9 6.2-9 4.4-3.3 2.9-1.7 3 0.2 3 0.9 1.5 2.4 2.2 3 1.7 7.5 2.3 10.5 1.5 22.5 1.6 9 2.1 6 3.1 6.7 5 4.9 4.5 3.4 4.5 0 14-0.5 1-3.2 4.5-11.3 13.1-7.5 6.9-7.5 4.3-9 3.4-26 6.8-22 7.9-9 1.6-6-0.6-9-3.1-7.5-1.2-33 1-33-1.6-22.5 0.9-19.5-1.1-25.5-3.5-7.5-2.9-7.5-4 0-32.6 1.7-1.3 9.6-6 8.2-3.5 21-5.5 16.5-2.7 7.6-1.8 8.9-3.1 31.4-13.4 3.2-3 1.1-3-1-15 1.8-7.5 4-6.4 7.5-7 4.5-2.6 6-2.2 16.5-2.2 9-2.1 3 0.3 6 2.4 3 0.3 3-0.4 4.5-2.6 6-8.3 9.5-5.2z" fill="#7fdd4c" fill-rule="evenodd"/>
<path d="M258.1 633.7l4.2 0 5.2 1.5 6.1 3 4.3 3 2.9 3 2.9 4.5 1.6 4.5 0.6 6-1.2 4.5-3.1 3-18.5 8.2-7.5 5.1-1.6 1.7-1.4 3 0.4 3 0.8 1.5 3.3 2.9 2.9 1.6 7.6 2.3 9 1.4 24 2.1 9 2.1 6 3.2 6.9 5.4 4.5 4.5 3 4.5 1 3 0.3 3-0.5 3-1.9 4.5-3.1 4.5-10.1 12-7.6 6.7-7.5 4-9 3.2-27 7.1-21 6.9-9 1.5-4.5-0.3-10.5-2.6-6-0.6-33 1.5-33-1.7-21 0.9-18.4-1.1-19.2-3-8.9-2-7.5-3.2-7.5-4.6 0-27.1 6.8-5.1 6.7-4 7.5-3.1 19.5-5.3 16.5-2.9 9-2.2 40.3-15.5 4-3 1.7-3 0.4-3-1.2-12 1.7-7.5 3.7-6 6.4-6.3 4.5-2.8 6-2.5 24-4.6 3 0.3 7.5 2.4 6-0.7 4.5-2.8 6-8.1 3.4-1.9 5.1-1.5z" fill="#9be44a" fill-rule="evenodd"/>
<path d="M252.7 638.2l4.4-1.1 3 0.1 4.5 1.3 4.5 2.7 3.2 3 3.1 4.5 1.8 4.5 0.5 4.5-1.1 4.5-2.2 3-3.9 3-11.9 6.8-6.4 5.2-2.5 4.5 0.5 3 0.9 1.5 3.4 3 2.6 1.5 7.5 2.6 9 1.6 25.5 2.5 9 2.2 5.7 3.1 5.9 4.5 4.5 4.5 3.1 4.5 1.1 3 0.3 3-0.5 3-1.8 4.5-3 4.5-8.6 10.5-3.7 3.7-4.5 3.3-7.5 3.8-10.5 3.6-25.4 6.6-21.1 6.4-9 1.2-19.5-2.4-33 1.8-34.5-1.9-18 1.1-12-0.6-17.1-2.6-17.4-3.9-9-4.1-7.5-5.3 0-20.8 10.5-8.4 7.6-4 10.4-3.6 13.5-3.6 18-3.3 9-2.6 22.5-8.8 13.5-4.3 4.5-2 4.2-3.3 1.7-3 0.2-3-1.4-10.5 1.6-7.5 3.6-6 6.2-6 4.9-3.1 6-2.4 19.5-4 3-0.1 9 2.4 6-0.4 5.3-2.9 6.2-7.5 2.1-1.5z" fill="#afe94d" fill-rule="evenodd"/>
<path d="M252.7 642.7l2.9-1.2 3 0 3 1 3 2 2.5 2.7 1.8 3 0.9 3 0.3 4.5-1.3 4.5-2.1 3-3.2 3-10.9 8.1-5.2 5.4-1.3 3 0.1 1.5 1.5 3 6.4 4.5 9 3.3 9 1.6 25.2 2.6 9.3 2.4 4.5 2.3 5.9 4.3 4.6 4.5 3.2 4.5 1.1 3 0.3 3-0.4 3-1.7 4.5-2.9 4.5-7.3 9-4.3 4.3-4.5 3.1-7.5 3.7-9 3.1-49.5 13.3-9 0.7-12-1.4-7.5-0.2-31.5 2-33-2-22.5 0.9-16.5-2.1-18-3.9-9-2.8-9.2-5.2-3.5-3-2.3-2.9 0-12.4 2-2.7 4.6-4.5 5.4-4.1 4.5-2.6 9-3.7 12-3.6 21-4.4 9.7-2.6 23.3-8.8 15.7-4.7 3.7-1.5 4.9-3 2.8-3 1-3-2.3-10.5 0.2-3 1.4-4.5 2.5-4.5 2.4-3 3.7-3.6 4.5-3.1 9-3.6 15-3 3 0.1 9 2.1 4.5 0 3-0.6 3-1.2 3-2 6.1-6.1z" fill="#bceb58" fill-rule="evenodd"/>
<path d="M251.8 650.2l3.8-1.5 1.5 0.1 2.5 1.4 1.2 1.5 1.2 3-0.1 4.5-1.7 4.5-2.1 3-15.2 15-1.4 3 0 1.5 2 3 7.2 4.5 10.9 3.9 9 1.7 24 2.6 9.6 2.3 5.4 2.6 4.7 3.4 4.8 4.5 3.2 4.5 1.2 3 0.4 4.5-0.7 3-2.1 4.5-4.2 6-5.1 6-3.7 3.4-4.5 3-7.5 3.6-9 3.1-48 12.7-9 0.8-19.5-1-33 1.9-31.5-1.9-21 0.7-16.5-2.2-18-4.1-9-3-8.5-5-3.2-3-2.1-3-1.1-3-0.1-3 0.7-3 1.7-3 2.4-3 4.9-4.5 7.2-4.5 7.1-3.1 12-3.8 22.5-5 10.5-3 21-7.9 19.7-5.7 6.5-3 4.7-3 3.1-3 0.6-1.5-0.8-3-3.8-6-0.1-3 1.2-4.5 2.4-4.5 3.6-4.5 3.3-3 4.6-2.9 8.3-3.1 9.7-1.6 3.5 0.1 10 1.9 7.5-0.2 5.8-1.7 5.4-3z" fill="#c9ed63" fill-rule="evenodd"/>
<path d="M213.8 656.2l7.3-0.3 9 1.9 16.5 1.3 3.4 1.6 0.8 1.5 0 3-2.3 4.5-3.9 4.5-7.9 7.5-2.3 3-0.3 1.5 0.8 1.5 2 1.5 13.5 6 9.7 3.1 9 1.7 22.5 2.5 9 1.9 4.5 1.7 4.5 2.6 7.1 6 3.3 4.5 1.3 3 0.5 3-0.7 4.5-2.1 4.5-4 6-5.4 6-4.5 3.7-7.5 4.1-10.5 3.9-48 12.6-9 0.9-21-0.5-28.5 1.8-12-0.3-22.5-1.6-19.5 0.5-13.5-1.6-16.5-3.7-11-3.3-8.5-4.5-4.7-4.5-1.8-3-0.7-3 0.6-4.5 1.5-3 3.7-4.5 3.4-3 8.5-4.9 16.5-5.9 29.7-7.2 22.8-8.3 19.4-5.2 18.1-6.6 13.8-2.4 5.5-1.5 3.2-1.5 1.5-1.5-0.1-1.5-1.4-1.5-4.5-2-9-1.3-4.6-1.2-2.7-1.5-1.3-1.5-0.8-3 0.6-3 1.3-3 5.1-6 5.4-3.5 7.7-2.5z" fill="#d5ef6f" fill-rule="evenodd"/>
<path d="M212.6 659.2l4-0.7 3 0.2 6 1.8 10.5 2.2 2.3 1 1.7 1.5 0.7 1.5-0.3 3-1.7 3-4.2 3.9-4.5 2.8-3 0.9-6-0.1-13.5-3.6-3-1.4-2.6-2.5-0.5-1.5 0.3-3 1.6-3 2.7-2.7 2.8-1.8 3.7-1.5zM225.9 692.2l4.2-0.3 6 0.7 25.5 7.1 34.5 4.7 9 3.3 7.7 5.5 4.1 4.5 2.2 4.5 0.5 4.5-1.7 6-4.8 7.5-5.7 6-6.4 4.5-7.9 3.7-13.5 4.3-33 8.8-9 1.9-9 0.7-19.5-0.1-24 1.5-10.5 0.1-28.5-1.8-19.5 0.3-16.5-2.3-16.5-4.3-9-3.4-7.2-4.9-3.3-4.5-0.9-3 0-3 1-3 3-4.5 2.9-3 4.1-3 10.9-5.2 12-3.9 24-5.8 27-9.4 17-4.2 13-3.9 6-1.4 16-2.2 15.8-3z" fill="#dff17c" fill-rule="evenodd"/>
<path d="M213.5 662.2l4.6-0.7 6.9 2.2 4.9 3 1.1 1.5 0 3-2.6 3-2.8 1.4-3 0.6-4.5-0.3-6-2.1-3.3-2.6-0.8-3 1.3-3 4.2-3zM224 695.2l7.6-0.6 6 0.5 25.5 5.9 28.5 3.6 10.5 3.3 4.3 2.3 4 3 4.3 4.5 2.3 4.5 0.6 4.5-1.6 6-4.8 7.5-6 6-6.1 4-9 3.9-15 4.6-28.5 7.6-9 1.9-7.5 0.7-19.5 0.1-25.5 1.5-10.5 0.2-28.5-1.8-19.5 0-16.5-2.5-15-4.1-9-3.7-6.6-4.9-2.7-4.5-0.5-3 0.4-3 2.1-4.5 2.5-3 3.5-3 4.3-2.6 10.5-4.5 9-2.9 24-6.1 30-10 28.5-6.8 32.9-4.6z" fill="#e9f389" fill-rule="evenodd"/>
<path d="M217.7 665.2l1.9 0.2 3 2 0.7 2.3-0.9 1.5-1.3 0.7-3 0.2-2.3-0.9-1.4-1.5-0.4-1.5 0.6-1.5 3.1-1.5zM229 696.7l11.6 0.5 21 4.5 30 4.1 6 1.7 4.5 1.9 7.6 5.3 3.8 4.5 1.5 3 0.6 3-0.4 4.5-2.7 6-4.5 6-5.1 4.5-6.8 4-9 3.7-39 10.9-12 2.4-7.5 0.7-18 0.3-36 1.5-28.5-1.7-19.5-0.3-15-2.3-13.5-3.8-8.7-3.4-6.5-4.5-3-4.5-0.6-3 0.3-3 1.9-4.5 2.4-3 6.7-4.8 12-5.3 29.1-7.9 30.9-10.2 28.5-6.2 37.9-4.6z" fill="#eff293" fill-rule="evenodd"/>
<path d="M231.2 698.2l10.9 0.6 19.5 3.9 28.5 3.9 10.5 3.6 4.5 2.7 3.9 3.3 3.3 4.5 1.4 4.5-0.8 6-3.2 6-3.7 4.5-5.5 4.5-7.4 4.1-9 3.4-36 10-12 2.5-7.5 0.7-42 1.8-13.5 0.1-27-1.7-19.5-0.5-14.8-2.4-12.2-3.6-9.1-3.9-5.7-4.5-2.4-4.5-0.3-3 0.5-3 1.5-3 2.5-3 3.7-3 4.8-2.7 11.9-4.8 24.1-6.6 25.5-8.7 7.5-1.9 28.5-5.6 38.6-4.2z" fill="#f1f099" fill-rule="evenodd"/>
<path d="M228.4 699.7l13.7 0.3 19.5 3.6 26.1 3.6 5.7 1.5 5.7 2.3 3.9 2.2 3.7 3 3.6 4.5 1.5 4.5-0.3 4.5-2.6 6-3.8 4.9-6 4.9-7.5 4.1-9 3.5-33 9.2-15 3.1-48 2.4-13.5 0.1-45-2.3-13.5-2-10.5-2.9-9.8-4-6.4-4.5-2.8-4.5-0.4-3 0.4-3 1.5-3 2.5-3 7.5-5 12-5 24-6.8 22.5-7.7 7.5-2.1 28.5-5.4 37.3-4z" fill="#f4ec9f" fill-rule="evenodd"/>
<path d="M224.8 701.2l8.3-0.5 9 0.5 19.5 3.4 22.5 3 12 3.4 4.5 2.3 3.9 2.9 3.8 4.5 1.6 4.5-0.2 4.5-2.6 6-3.6 4.5-5.9 4.8-7.5 4-9 3.5-33 9.2-13.5 2.7-46.5 2.5-15 0.2-43.5-2.4-13.6-2-10.6-3-8.8-3.7-5.6-3.8-3.2-4.5-0.6-3 0.4-3 1.4-3 2.7-3 6.6-4.5 10.4-4.5 23.9-7 22.5-7.7 7.5-2.1 27-4.9 35.2-3.8z" fill="#ebd997" fill-rule="evenodd"/>
<path d="M220.8 702.7l10.8-0.8 9 0.2 39 5.7 7.5 1.5 6 1.9 4.5 2 4.6 3 4.1 4.5 1.8 4.5-0.2 4.5-2.6 6-3.8 4.5-5.7 4.5-7.2 3.8-9 3.4-30 8.5-15 3.1-45 2.6-16.5 0.2-43.5-2.6-13.5-2.2-10.5-3.1-7.5-3.5-5.6-4.2-2.5-4.5-0.2-3 0.8-3 3.6-4.5 6.8-4.5 10.7-4.5 50.9-16 25.5-4.5 32.7-3.5z" fill="#e1c38d" fill-rule="evenodd"/>
<path d="M216.4 704.2l16.7-1.3 13.5 0.9 37.5 5.9 9 2.8 6.7 3.7 4.5 4.5 1.9 4.5-0.1 4.5-2.5 5.8-4 4.7-5 3.8-7 3.7-9.5 3.7-30 8.5-15 3-42 2.4-18 0.2-42-2.7-13.5-2.1-9-2.6-9-4.2-4.2-3.2-2.8-4.5-0.3-3 0.8-3 3.6-4.5 6.9-4.5 11.1-4.5 47.9-15.2 25.5-4.4 28.3-2.9z" fill="#d5ae81" fill-rule="evenodd"/>
<path d="M226 704.2l8.6-0.3 9 0.5 37.5 5.7 6.2 1.6 5.8 2.2 4.2 2.3 3.3 2.7 2.6 3.3 1.3 4.5-0.9 5.3-3.1 5.2-4.4 4.2-5 3.3-7 3.4-9 3.3-27 7.7-15 2.9-40.5 2.5-19.5 0.2-40.5-2.7-13.5-2.1-9-2.7-7.6-3.5-4.4-3.2-2.9-4.3-0.2-4.5 1.4-3 3.2-3.3 6-3.8 10.5-4.4 39-12.9 9-2.4 22.5-3.8 39.4-3.9z" fill="#c49772" fill-rule="evenodd"/>
<path d="M222.2 705.7l10.9-0.6 9 0.3 34.5 5.2 7.5 1.7 6 2 4.5 2.4 3.4 2.5 2.6 3.2 1.5 4.3-0.6 4.5-2.4 4.6-4.3 4.4-4.7 3.3-7.5 3.7-9.5 3.5-25 7.3-15 3-37.5 2.4-22.5 0.3-39-2.8-13.5-2.1-7-2.1-6.9-3-4.6-3-3.5-4.5-0.4-4.5 1.4-3 2.9-3 4.4-3 10.1-4.5 36.6-12.4 10.5-2.9 19.5-3.3 38.6-3.9z" fill="#b07b60" fill-rule="evenodd"/>
<path d="M219.4 707.2l16.7-0.8 15 1.5 30 5.2 7.5 2.6 6 3.5 3 3.2 1.7 4.3-0.5 4.5-2.5 4.5-4.6 4.5-4.6 3-7.5 3.6-10.8 3.9-23.7 6.8-15 2.7-36 2.2-22.5 0.2-36-2.9-13.5-2.3-7.1-2.2-6.3-3-4-3-2.8-4.5 0-3 1.4-3 2.9-3 4.5-3 10.2-4.5 34.2-11.8 9-2.4 18-3.1 37.3-3.7z" fill="#a06852" fill-rule="evenodd"/>
<path d="M216 708.7l18.6-1.1 15 1.3 28.5 5.1 7.5 2.4 6 3.3 3 3 1.8 4-0.4 4.5-2.6 4.5-4.8 4.4-5 3.1-7 3.3-9 3.3-21 6.2-16.5 3.1-33 2.2-24 0.2-33-2.7-15-2.3-7.5-2.3-6-3-4.2-3.5-1.7-3-0.1-3 1.3-3 2.9-3 4.7-3 10.2-4.5 28.9-10.3 10.5-2.9 16.5-2.8 35.4-3.5z" fill="#945b48" fill-rule="evenodd"/>
<path d="M212.3 710.2l19.3-1.4 16.5 1 28.5 5.3 7.5 2.6 5.2 3 2.9 3 1.5 4.5-1.2 4.5-2 3-3.4 3.2-6 3.8-7.6 3.5-8.2 3-18.7 5.6-16.5 3.2-30 2.1-25.5 0.4-28.9-2.3-19-3-6.1-1.9-5.4-2.6-3.8-3-1.9-3-0.3-3 1.3-3 5.1-4.5 12.7-6 23.8-8.7 10.5-3.1 15-2.7 13.5-1.7 21.2-1.8z" fill="#8b5242" fill-rule="evenodd"/>
<path d="M223.9 710.2l10.7-0.3 9 0.5 25.1 4.3 12.4 3.7 4.4 2.3 3.4 3 1.6 3-0.2 4.5-2.8 4.5-3.3 3-4.7 3-6 3-17.9 6.4-16.5 4.3-15 2.2-30 1.8-22.5 0-24-2.2-18-3-6.5-2-4-1.9-3.6-2.6-2.1-3-0.5-3 1.2-3 5.1-4.5 12.5-6 24.9-9.1 10.5-2.6 16.5-2.6 40.3-3.7z" fill="#946151" fill-rule="evenodd"/>
<path d="M217.9 711.7l18.2-0.7 16.5 1.8 21.9 4.9 7.1 3 3.9 3 1.9 3 0.2 3-1.9 4.5-2.8 3-4.1 3-6.7 3.5-19 7-15.5 4-16.5 2.2-28.5 1.6-22.5-0.2-22.5-2.3-16.5-3.1-9.3-3.7-3.6-3-1.5-3 0.2-3 0.8-1.5 3-3 4.6-3 13.4-6 17.9-6.5 10.5-2.7 15-2.4 35.8-3.4z" fill="#9c7060" fill-rule="evenodd"/>
<path d="M212.7 713.2l18.9-1.2 16.5 1.2 22.5 4.9 6.8 2.6 4.5 3 2.2 3 0.4 3-1.9 4.5-2.9 3-4.2 3-5.7 3-15.7 6-15 4.1-16.5 2.5-27 1.6-22.5 0-21-2-17.4-3.2-5.1-1.6-5.6-2.9-1.9-1.7-1.6-2.8 0.1-3 0.7-1.5 5-4.5 11.9-6 16.9-6.4 10.5-2.9 13.5-2.4 33.6-3.3z" fill="#a47d6e" fill-rule="evenodd"/>
<path d="M225.6 713.2l9-0.1 9 0.6 18 3.4 7.5 2.1 6 2.5 3.1 2 2.5 3 0.6 3-0.9 3-2.2 3-3.7 3-11.5 6-14.9 5.2-13.5 3.2-16.5 2.1-24 1.3-21-0.2-18-1.7-16.5-3-6-1.9-4-2-2.1-1.5-2.2-3-0.1-3 0.7-1.5 4.8-4.5 11.7-6 18.2-6.7 10.5-2.5 15-2.4 40.5-3.4z" fill="#ad887b" fill-rule="evenodd"/>
<path d="M217.4 714.7l17.2-0.5 15 1.5 9.3 2 8.7 2.6 4.3 1.9 4.3 3 1.7 3 0 3-1.6 3-3 3-4.3 3-5.9 3-12 4.6-15 4-15 2.2-22.5 1.4-21 0.1-18-1.4-16.5-3-9.8-3.4-2.4-1.5-2.7-3-0.3-3 0.6-1.5 4.6-4.5 11.4-6 13.6-5.2 10.5-2.7 13.5-2.3 35.3-3.3z" fill="#b69387" fill-rule="evenodd"/>
<path d="M211.1 716.2l19-1.1 15.7 1.1 8.3 1.6 9 2.5 4.7 1.9 4.7 3 1.3 1.5 1 3-0.7 3-2.2 3-3.7 3-5.2 3-14.9 5.9-13.5 3.4-16.5 2.3-21 1.2-21-0.1-18-1.7-15-3.2-7.7-3.3-1.9-1.5-1.8-3 0.4-3 1-1.5 5.7-4.5 8.8-4.5 12-4.5 10.5-2.6 12-2.1 29-2.8z" fill="#bf9e94" fill-rule="evenodd"/>
<path d="M225.2 716.2l13.9 0.3 13.5 2.2 11 3.5 5.2 3 1.8 2 1 2.5-0.7 3-3.8 4.5-4.5 3-6 3-12.7 4.5-13.3 3-15.5 1.9-21 1-18-0.3-15-1.4-13.1-2.7-7.9-3-3-2.3-1.5-2.2-0.2-1.5 1.2-3 5.4-4.5 8.8-4.5 12.7-4.5 11.1-2.5 13.5-2 37.1-3z" fill="#c8a8a1" fill-rule="evenodd"/>
<path d="M215.8 717.7l17.3-0.5 13.5 1.4 12.9 3.6 3.6 1.7 3.7 2.8 1 1.5 0.4 3-1.3 3-2.9 3-7.4 4.5-11.5 4.5-13.5 3.3-15 2-18 1.1-18-0.1-15-1.2-12-2.2-8.6-2.9-3.4-2.1-2-2.4-0.2-3 0.8-1.5 3-3 7.6-4.5 11.6-4.5 9.2-2.3 12.4-2.2 31.8-3z" fill="#cdb1aa" fill-rule="evenodd"/>
<path d="M209 719.2l18.1-1 13.5 0.7 12 2.5 8.8 3.8 1.9 1.5 1.7 3 0 1.5-1.2 3-2.9 3-4.6 3-11.2 4.7-13.5 3.5-15 2.1-18 1.1-18-0.2-13.5-1.2-12.6-2.5-7.5-3-2.4-1.9-1.5-2.6 0.7-3 4.9-4.5 5.4-3 8.5-3.3 9-2.4 10.5-2 26.9-2.8z" fill="#d1b9b4" fill-rule="evenodd"/>
<path d="M202.3 720.7l24.8-1.5 9 0.4 7.5 0.9 7.5 1.9 6.5 2.8 3.4 3 0.8 3-0.3 1.5-2.1 3-6.3 4.5-11 4.4-12.8 3.1-15.7 2.1-16.5 0.8-16.5-0.3-15-1.7-10.1-2.4-6.4-3.3-1.5-1.6-0.7-2.6 0.5-1.5 2.6-3 7.7-4.5 12.4-4.2 15-2.9 17.2-1.9z" fill="#d6c1be" fill-rule="evenodd"/>
<path d="M215.1 720.7l13.5-0.4 10.5 0.8 10.5 2.4 6.5 3.2 1.5 1.5 1 3-0.3 1.5-2 3-6.6 4.5-9.1 3.5-12 3-13.5 1.9-15 0.9-15-0.1-13.5-1.2-10.1-2-7.4-3-2.9-3-0.1-3 2.5-3 4.7-3 8.8-3.5 9.6-2.5 9.9-1.8 28.5-2.7z" fill="#dac9c8" fill-rule="evenodd"/>
<path d="M208.5 722.2l15.6-0.8 12 0.6 9.1 1.7 7.1 3 1.8 1.6 1.2 2.9-1 3-1.2 1.5-6.5 4.2-8.7 3.3-12.3 2.9-12 1.6-13.5 0.7-15-0.2-12-1.2-10.3-2.3-6-3-1.9-3 1-3 3.6-3 10.5-4.5 16.6-3.6 21.9-2.4z" fill="#e0d1d1" fill-rule="evenodd"/>
<path d="M203.3 723.7l20.8-1.1 14.3 1.1 6 1.5 5.2 2.6 1.8 1.9 0.3 3-0.7 1.5-2.9 2.7-6.1 3.3-9 3-10.4 2.1-12 1.5-13.5 0.5-13.5-0.5-10.5-1.4-8.2-2.2-4.7-3-0.9-1.5 0-1.5 2.2-3 5.1-3 9.5-3.2 13.5-2.7 13.7-1.6z" fill="#e5dada" fill-rule="evenodd"/>
<path d="M199.7 725.2l19.9-1.4 15 0.8 6 1.3 5.2 2.3 1.6 1.5 0.7 1.5-0.1 1.5-2.2 3-4.8 3-8 3-10.4 2.4-10.5 1.3-12 0.6-12-0.3-9.6-1-6.9-1.5-6.2-3-1.2-1.5-0.2-1.5 2-3 5.4-3 7.7-2.5 9.4-2 11.2-1.5z" fill="#ebe2e2" fill-rule="evenodd"/>
<path d="M216.3 725.2l10.8 0.2 9 1.3 4.3 1.5 2.3 1.5 0.9 1.3 0.1 1.7-0.7 1.5-3.7 3-6.2 2.7-6.1 1.8-7.5 1.5-10.4 1.2-19.5-0.1-9-1.1-6-1.5-3.2-1.5-1.7-1.5-0.5-1.5 0.5-1.5 3.7-3 8.1-3 16.2-3 18.6-1.5z" fill="#f1ebeb" fill-rule="evenodd"/>
<path d="M213.5 726.7l9.3 0 7.3 0.8 6 1.8 2.3 1.9 0.3 1.5-2.2 3-4.9 2.6-5.7 1.9-15.3 2.6-16.5 0.1-9-1-4.5-1.1-4.4-2.1-1-1.5 0.2-1.5 1.4-1.5 2.6-1.5 5.7-2 12.2-2.5 16.2-1.5z" fill="#f7f3f3" fill-rule="evenodd"/>
<path d="M198.9 729.7l11.7-1.2 10.5 0 7.5 1.2 3.1 1.5 0.9 1.5-0.5 1.5-3.5 2.5-9 3-12 1.6-12-0.2-6.4-0.9-4.7-1.5-1.9-1.5-0.2-1.5 1.4-1.5 2.9-1.5 12.2-3z" fill="#fdfcfc" fill-rule="evenodd"/>
<path d="M203.9 731.2l8.2-0.6 7.5 0.5 4.1 1.6 0.2 1.5-1.8 1.5-3.5 1.5-6.5 1.4-6 0.5-7.2-0.4-5.6-1.5-1.3-1.5 1.2-1.5 3.6-1.5 7.1-1.5z" fill="#ffffff" fill-rule="evenodd"/>
</g>
<path d="M178.4 567.7l6.7 4.2 9 4.6 6 4 3 1.2 4.5 0.6 3-0.5 6-2.6 4.5-1.2 3 0 4.5 1 1.5 0 3-0.8 3-2.3 3-4.3 3.6-3.9M222.6 618.6l-2.8 1.6-1.3 1.5-0.3 1.5 0.5 1.5 2.2 1.5 4.7 1 7.5 0.5 3-0.7 1.2-0.8 0.9-1.5 0.2-1.5-0.8-2.5-1.5-1.6-1.5-0.8-3-0.8-3-0.1-3 0.3-3 0.9M278.1 683.1l-4.1 1.6-1.4 1.5 0.1 1.5 2 1.5 4.9 1.5 6 0.6 7.5-0.5 6-1.6 2.1-1.5 0.2-1.5-1.5-1.5-5.3-1.8-4.5-0.6-4.5-0.1-7.5 0.9M65.1 710.4l4.5-3 6-5.2 3-1.3 4.5-0.4 10.5 3.1 4.5 0.6 10.5-2.3 12-1.6 3-1.6 1.6-2 0-1.5-1-1.5-2.1-1.6-6-1.9-10.5-2.2-12.4-4.8-2.6-1.4-1.7-1.6-0.6-1.5-0.1-3 0.9-6 1.5-4.5 2.6-4.5 2.6-3 6.8-4.8 31.6-17.7 3.3-3 2.3-4.5 0.7-4.5-1.4-4.5-2.5-4.5-4-5.9-8.4-10.6-1.4-3-1-4.5 0.3-6 1.5-4.7 3.3-5.8 5-6M65.1 787.8l52.5-1.5 34.5 0.6 9-0.6 9-1.1 2.7-1.5-7-1.5-15.2-1-31.5 0.4-54-1.7" fill="none" stroke="#b46f80" stroke-width="1.45"/>
<path d="M317.7 567.7l7.7 4.5 6.7 5.8M276.6 681.4l-5.3 1.8-2.3 1.5-0.9 1.5 0.2 1.5 1.5 1.5 3.1 1.5 3.7 1 9 1 10.5-0.5 7.5-1.5 3.7-1.5 1.7-1.5 0.3-1.5-1.2-1.5-3-1.7-6-1.8-6-0.8-6-0.1-6 0.3-4.5 0.8M65.1 718.2l6-3.4 6-4.1 3-1.1 3-0.3 12 0.1 4.5-0.6 6-1.8 12-0.5 6-1 6.9-2.8 4.4-3 3.2-3 1-1.5 0.3-1.5-0.4-1.5-1.1-1.5-3.8-3.5-3-2-9-3.5-4.6-3-2-3-0.4-1.5 0.4-3 1.8-3 7.1-9 2.8-3 3.5-3 3.4-1.7 9-0.4 3-1.3 1.5-1.4 1.8-2.7 4.4-9 5.8-7.2 3-2.8 1.5-0.9 6.2-2.6 1-1.5-0.5-1.5-4.4-6-1.3-4.5 0.3-3 0.6-1.5 1.1-1.7 3-2.1 10.5-2.9 1.5-0.6 3-2.1 1.5-0.5 3 0.2 1.5 0.8 6.7 7.4 0.1 6 0.7 3 3.6 6 0.1 1.5-0.9 4.5 0.4 3 2.1 3 5.1 3 4.6 1.4 1.5-0.2 6-3.1 6-0.7 1.5 0.2 1.8 0.9 0.6 1.5-1.1 3 1.7 0.3 4.5-1.7 4.5-2.4 1.5-1.6 4.4-6.6-0.3-1.5-1.8-3 0-1.5 0.8-1.5 3.7-3 0.6-1.5 0.1-2.8-0.8-1.7-2.2-2.3-7.2-3.7-3.3-5.1-1.5-1-1.5 0.2-4.5 1.7-3 1.6-3.5 2.6-1.4 1.5-3.4 6-1.3 1.5-2.4 1.5-3 0.8-1.5-0.1-1.5-1.9-0.1-1.8 0.5-3-0.4-1.7-1.5-2.2-2.7-0.6 1.2-0.2 1.2-1.3 1.8-0.8 4.5-3.1 3-3.3 4.7-6.3 1.6-1.5 2.7-1.4 1.5 0.1 2.2 1.3 3.3 3 3.5 4.6 1.5 1.1 4.5-1.6 6-3.7 6-7.9 6-5.9 6-4 8.1-3.6M65.1 790.4l9.1-0.7 41.9-1.3 10.5 0 18 0.9 9-0.1 30.4-2.5 10.3-1.5-0.1-1.5-8.6-1.5-26-2.1-13.5-0.4-30 0.4-32.6-0.9-18.4-0.9" fill="none" stroke="#b39870" stroke-width="1.45"/>
<path d="M65.1 724.6l12-6.6 6-2.2 13.5-2.2 10.5-2.4 12-1 9-2 6.5-2.5 6.1-3 9.3-6 5.4-4.5 2.4-3 0.7-1.5 0.6-4.5-1.4-10.5-0.1-3 0.8-4.5 1.8-4.5 3.7-6 4.7-5.6 4.5-3.8 6-3.6 7.5-2.7 6-0.7 7.5 0.4 12 1.9 10.5-1.8 1.5 0.2 4.5 2.1 3 0.8 3-0.1 3-1.2 3-2.3 9.3-10.6 0.9-3-0.3-1.5-1.5-3 0.1-1.5 7-4.5 3.3-3 1-1.5 0.8-1.5 0.4-3-0.6-3-2-4.5 0.3-1.5 2.3-1.5 4.5-0.9 7.5 0.4 16.5 2.7 13.5 0.2 4.5 1.2 3.4 2.4 2.6 5.1 2 8.4 1.3 10.5 1.2 17.4 0.8 5.1 1.6 4.5 5.3 10.5 0.9 3 0.3 3-0.4 3-1.6 3-1.5 1.5-3.1 1.5-3.8 0.7-4.5 0.2-21-1.1-7.5 0.4-6 0.7-6 1.4-6 2.6-2.8 2.6-0.5 1.5 0.3 1.5 1 1.5 3.5 2.1 4.5 1.5 6 1 12 0.8 19.5-0.5 6 0.7 7.5 2.7 9 5.4M332.1 747.1l-5.9 6.6-7.5 10.5-3.4 6-0.9 3-0.1 1.5 1.1 3 1.3 1.5 15.4 11.1M220.7 794.2l0.1-9-0.7-1.5-2.3-1.5-5.7-1.2-63-2.8-25.5 0.6-34.6-1.1-14.9-1-9-1.1" fill="none" stroke="#c6e638" stroke-width="1.45"/>
<path d="M65.1 731l10.5-6.5 7.5-3.3 22.5-5.8 15.1-2.2 8.9-2.1 10.6-3.9 26.7-12 2.5-1.5 1.4-1.5 1.3-3 0.2-3-1.1-12 0.5-4.5 1.4-4.2 1.8-3.3 2.2-3 4.5-4.5 3.5-2.8 5.9-3.2 6.1-1.9 4.5-0.7 10.5-0.6 10.5-2.2 3 0.2 6 2.5 3 0.2 3-0.5 2.9-1.5 1.7-1.5 2.4-3 2-3.5 1.5-1.5 9-6.1 3-1.2 3 0.1 22.5 4.5 4.5 1.7 2.2 1.5 2.2 3 1.9 4.5 5 21-0.1 1.5-0.7 1.5-1.7 1.5-2.8 1.1-24 5.4-4.5 1.5-4.5 2.1-3 1.9-2.8 3-0.8 3 0.3 1.5 0.8 1.5 2.5 2.2 3 1.6 7.5 2.1 10.5 1.4 22.5 1.4 8.1 1.8 5.4 2.6 4.9 3.4 5.7 4.5 4.4 4.5M332.1 734.8l-16.5 19.1-4.5 4-6 3.8-4.5 2.2-6 2.2-26.6 7.1-21.4 8.5-7.5 1.9-4.5 0-3-0.6-10.5-4.6-3-0.8-4.5-0.5-30 0.7-37.5-1.6-24 0.8-16.5-0.8-16.4-1.5-7.6-1-4.5-1.1-6-2.4-6-3.1" fill="none" stroke="#ccee30" stroke-width="1.45"/>
<path d="M65.1 739.9l3.9-4.2 5.5-4.5 4.7-3 6.9-3.2 8.3-2.8 11.2-3.1 16.5-3.2 9-2.3 9.9-3.4 15.6-6.2 14.3-4.3 3.9-1.5 4.9-3 1.5-1.5 1.8-3 0.2-3-1.6-6-0.3-3 0.5-4.5 1.6-4.5 4-6 2.9-3 3.8-3 4.5-2.5 5.3-2 15.7-3.3 4.5-0.2 6 1.7 4.5 0.6 3-0.2 3-0.7 4.5-2.4 7.5-7.7 1.5-0.7 3-0.6 3 0.4 3 1.2 3 2 2.4 2.4 2.1 3 1.3 3 0.7 4.5-0.2 3-2 4.5-2.8 3-12 8.4-5.8 5.1-1.9 3-0.5 1.5 0 1.5 1.5 3 3.6 3 2.6 1.5 8.2 3 10.3 1.8 24 2.4 6 1.2 4.5 1.6 3.7 2 3.8 2.7 6.9 6.3 2.2 3 1.5 3 0.8 4.5-0.4 3-1 3-1.6 3-3.2 4.5-5.2 6.4-4.5 4.8-3 2.4-4.5 2.8-6 2.8-9 3.1-24.1 6.2-19.4 5.8-9 1.8-6 0.2-10.5-1.4-6-0.4-34.5 1.9-11.4-0.4-21.6-1.5-18 1-12-0.7-16.5-2.8-12-2.7-6-1.7-4.9-2.1-5.2-3-3.9-3-2.5-2.6" fill="none" stroke="#b8ea2c" stroke-width="1.45"/>
<path d="M212.6 659.2l4-0.7 3 0.2 6 1.8 10.5 2.2 2.3 1 1.7 1.5 0.7 1.5-0.3 3-1.7 3-4.2 3.9-4.5 2.8-3 0.9-3 0.3-3-0.4-13.5-3.6-3-1.4-1.4-1-1.2-1.5-0.5-1.5 0.3-3 1.6-3 2.7-2.7 2.8-1.8 3.7-1.5M225.9 692.2l4.2-0.3 6 0.7 25.5 7.1 7.5 1.2 18 2 9 1.5 4.5 1.4 4.5 1.9 4 2.5 3.7 3 4.1 4.5 2.2 4.5 0.5 4.5-0.6 3-1.1 3-4.8 7.5-5.7 6-6.4 4.5-7.9 3.7-13.5 4.3-33 8.8-9 1.9-9 0.7-19.5-0.1-24 1.5-10.5 0.1-28.5-1.8-19.5 0.3-7.5-0.8-9-1.5-16.5-4.3-9-3.4-3.4-1.9-3.8-3-3.3-4.5-0.9-3 0-3 1-3 3-4.5 2.9-3 4.1-3 5.7-3 5.2-2.2 12-3.9 24-5.8 27-9.4 17-4.2 13-3.9 6-1.4 16-2.2 15.8-3" fill="none" stroke="#8cd838" stroke-width="1.45"/>
<path d="M219.6 699.7l10.5-1 9 0.2 7.5 1 15 3.1 24 3.1 6 1.2 6 2 4.8 2.4 4.2 3 4.2 4.5 2 4.5 0.2 4.5-0.7 3-1.3 3-4.3 6-4.9 4.5-7.2 4.4-9 3.7-10.5 3.3-27 7.3-13.5 2.6-7.5 0.7-18 0.4-22.5 1.3-13.5 0.1-27-1.7-18-0.4-7.5-0.9-7.5-1.4-12-3.5-9.3-3.9-2.7-1.7-3.3-2.8-1.2-1.6-1.3-2.9-0.4-3 0.6-3 1.4-3 2.5-3 6.3-4.5 6.2-3 5.7-2.2 27-7.6 28.5-9.4 28.5-5.8 30-3.5" fill="none" stroke="#68cc40" stroke-width="1.45"/>
<path d="M229.3 702.7l8.3-0.1 7.5 0.7 15 2.6 24 3.5 6 1.6 5.6 2.2 4.9 3 3.2 3 2.6 4.5 0.5 4.5-1.2 4.5-1.6 3-2 2.5-4.5 4.2-6 3.8-7.5 3.4-9 3.1-28.5 7.9-13.5 2.6-9 0.7-34.5 1.7-18 0.1-42-2.7-7.5-1-6-1.2-10.5-3.4-7.4-3.7-3.7-3-1.3-1.5-1.5-3-0.3-3 0.3-1.5 1.4-3 4.7-4.5 4.9-3 11-4.5 20.4-6.2 22.5-7.7 9-2.2 22.5-3.8 41.2-4.1" fill="none" stroke="#58c858" stroke-width="1.45"/>
<path d="M233.8 705.7l6.8 0.2 7.5 0.8 25.5 4 7.5 1.5 6 1.8 5 2.2 4.4 3 2.7 3 1.4 3 0.1 4.5-1.8 4.5-3.7 4.5-5.1 3.8-6.9 3.7-8.1 3.2-10.5 3.3-21 5.8-13.5 2.3-39 2.3-12 0.2-10.5-0.3-34.5-2.7-7.5-1-6-1.3-8.6-2.8-5.8-3-3.8-3-1.3-1.6-1.3-2.9 0-3 1.4-3 2.9-3 6-3.8 8.6-3.7 39.4-13.4 10.5-2.3 19.5-3 34.5-3.3 11.2-0.5" fill="none" stroke="#48c488" stroke-width="1.45"/>
<path d="M224.6 708.7l10-0.3 9 0.5 27 4.4 7.5 1.7 6 2 4.3 2.2 3.7 3 1.9 3 0.5 1.5 0 3-1.9 4.5-2.5 3-4.5 3.5-7.3 4-7.4 3-10.8 3.6-18 5-15 2.4-33 2-22.5 0.1-12-0.8-18-1.8-9-1.3-7.5-1.6-6-1.9-5.4-2.7-3.6-3-1.8-3-0.3-3 1.3-3 3-3 4.7-3 10.1-4.5 29.5-10.5 10.5-2.6 16.5-2.6 41-3.8" fill="none" stroke="#40c0a8" stroke-width="1.45"/>
<path d="M216.7 711.7l10.4-0.7 9-0.1 7.5 0.5 9 1.3 13.5 2.6 9 2.4 6.9 3 3.9 3 1.8 3 0.3 3-0.9 2.7-1.1 1.8-2.8 3-4.1 3-7 3.7-7.5 3.1-10.5 3.5-15 4-16.5 2.4-30 1.7-22.5-0.2-22.5-2.3-9-1.3-7.5-1.7-6-2-3.8-1.9-3.5-3-1.5-3 0.2-3 0.8-1.5 3-3 4.6-3 13.4-6 18.3-6.6 10.5-2.7 15-2.4 34.6-3.3" fill="none" stroke="#48b4c0" stroke-width="1.45"/>
<path d="M229.6 713.2l8 0.1 7.5 0.7 9 1.5 9.4 2.2 7.1 2.2 4.5 2 2.7 1.8 2.6 3 0.6 3-0.9 3-2.3 3-3.6 3-5 3-6.5 3-16.1 5.5-15 3.3-16.5 1.9-24 1.1-19.5-0.4-19.5-2-15-3.1-5.1-1.8-2.9-1.5-2.5-1.9-1.8-2.6-0.2-3 0.7-1.5 1.1-1.5 3.7-3 5.2-3 6.4-3 10.4-4.1 7.5-2.5 12-2.8 15-2.2 31.5-2.8 11.5-0.6" fill="none" stroke="#50a0d0" stroke-width="1.45"/>
<path d="M214.7 716.2l16.9-0.7 7.5 0.3 7.5 0.9 7.5 1.5 8.6 2.5 4.9 2.1 3.7 2.4 1.4 1.5 1.1 3-0.8 3-2.2 3-3.7 3-5.1 3-6.8 3-8.6 3-13.5 3.3-16.5 2.1-21 1.1-19.5-0.2-18-1.7-13.5-3-4.6-1.6-3-1.5-2.1-1.5-1.3-1.5-0.6-1.5-0.1-1.5 0.4-1.5 1-1.5 3.3-3 4.9-3 6.2-3 10.9-4.1 10.5-2.7 12.8-2.2 31.8-3" fill="none" stroke="#5080d8" stroke-width="1.45"/>
<path d="M203.8 719.2l20.3-1.4 13.5 0.3 7.5 0.9 6 1.3 6 1.9 3.4 1.5 2.6 1.5 2.8 3 0.6 1.5-0.1 1.5-1.3 3-2.9 3-4.5 3-9.6 4.3-12 3.4-15 2.6-16.5 1.3-19.5 0.2-15-0.9-13.5-2.2-9-2.8-3-1.6-2.8-2.8-0.4-1.5 0.1-1.5 0.7-1.5 2.9-3 7.5-4.5 7.3-3 8.7-2.5 9.5-2 11.5-1.7 14.2-1.3" fill="none" stroke="#4860d0" stroke-width="1.45"/>
<path d="M211.9 720.7l15.2-0.6 12 0.7 10.5 2.3 4.5 1.8 2.8 1.8 1.7 2 0.7 2.5-0.3 1.5-2 3-2.9 2.3-3.7 2.2-8.3 3.4-12 3.1-13.5 2-15 1-16.5-0.1-13.5-1.1-11.5-2.3-4.3-1.5-2.8-1.5-1.8-1.5-1-1.5-0.3-1.5 0.4-1.5 2.5-3 4.6-3 8.2-3.4 9.8-2.6 9.7-1.8 10.5-1.3 16.3-1.4" fill="none" stroke="#3c40c0" stroke-width="1.45"/>
<path d="M203.3 723.7l20.8-1.1 7.5 0.3 6.8 0.8 6 1.5 5.2 2.6 1.8 1.9 0.5 1.5-0.2 1.5-0.7 1.5-2.9 2.7-6.1 3.3-9 3-10.4 2.1-12 1.5-13.5 0.5-13.5-0.5-10.5-1.4-8.2-2.2-3-1.5-1.7-1.5-0.9-1.5 0-1.5 0.7-1.5 1.5-1.5 5.1-3 9.5-3.2 13.5-2.7 13.7-1.6" fill="none" stroke="#3428a8" stroke-width="1.45"/>
<path d="M200.2 726.7l17.9-1.2 7.5 0.1 6 0.6 7.5 2 2.4 1.5 1.1 1.5 0.1 1.5-0.8 1.5-1.4 1.5-5.4 3-6.5 2.2-7.5 1.7-9 1.2-9 0.5-10.5-0.2-9-0.8-7.2-1.6-3.5-1.5-1.8-1.5-0.6-1.5 0.4-1.5 1.4-1.5 5.3-2.8 5.4-1.7 6.9-1.5 10.3-1.5" fill="none" stroke="#3a1c9c" stroke-width="1.45"/>
<path d="M205.5 729.7l9.6-0.4 7.3 0.4 5.3 1.5 1.5 1.5-0.4 1.5-1.6 1.5-3 1.5-4.8 1.5-10.3 1.6-12-0.1-7.7-1.5-2.7-1.5-0.5-1.5 1.3-1.5 3.2-1.5 5.3-1.5 9.5-1.5" fill="none" stroke="#5018a0" stroke-width="1.45"/>
</g>
<line x1="69.4" y1="572.2" x2="69.4" y2="791" stroke="#000" stroke-width="1.7"/>
<line x1="68.6" y1="790.2" x2="327.8" y2="790.2" stroke="#000" stroke-width="1.7"/>
<line x1="64.1" y1="615.8" x2="69.6" y2="615.8" stroke="#000" stroke-width="1.6"/>
<text x="62.6" y="620.5" font-size="13.3" font-weight="bold" text-anchor="end" fill="#000">3.0</text>
<line x1="64.1" y1="659.8" x2="69.6" y2="659.8" stroke="#000" stroke-width="1.6"/>
<text x="62.6" y="664.5" font-size="13.3" font-weight="bold" text-anchor="end" fill="#000">2.5</text>
<line x1="64.1" y1="702.9" x2="69.6" y2="702.9" stroke="#000" stroke-width="1.6"/>
<text x="62.6" y="707.6" font-size="13.3" font-weight="bold" text-anchor="end" fill="#000">2.0</text>
<line x1="64.1" y1="746.4" x2="69.6" y2="746.4" stroke="#000" stroke-width="1.6"/>
<text x="62.6" y="751.1" font-size="13.3" font-weight="bold" text-anchor="end" fill="#000">1.5</text>
<line x1="64.1" y1="790" x2="69.6" y2="790" stroke="#000" stroke-width="1.6"/>
<text x="62.6" y="794.7" font-size="13.3" font-weight="bold" text-anchor="end" fill="#000">1.0</text>
<line x1="69.5" y1="790.2" x2="69.5" y2="795.2" stroke="#000" stroke-width="1.6"/>
<text x="69.5" y="807.6" font-size="13.3" font-weight="bold" text-anchor="middle" fill="#000">0</text>
<line x1="108.7" y1="790.2" x2="108.7" y2="795.2" stroke="#000" stroke-width="1.6"/>
<text x="108.7" y="807.6" font-size="13.3" font-weight="bold" text-anchor="middle" fill="#000">2</text>
<line x1="148.2" y1="790.2" x2="148.2" y2="795.2" stroke="#000" stroke-width="1.6"/>
<text x="148.2" y="807.6" font-size="13.3" font-weight="bold" text-anchor="middle" fill="#000">4</text>
<line x1="187.8" y1="790.2" x2="187.8" y2="795.2" stroke="#000" stroke-width="1.6"/>
<text x="187.8" y="807.6" font-size="13.3" font-weight="bold" text-anchor="middle" fill="#000">6</text>
<line x1="227.3" y1="790.2" x2="227.3" y2="795.2" stroke="#000" stroke-width="1.6"/>
<text x="227.3" y="807.6" font-size="13.3" font-weight="bold" text-anchor="middle" fill="#000">8</text>
<line x1="267.2" y1="790.2" x2="267.2" y2="795.2" stroke="#000" stroke-width="1.6"/>
<text x="267.2" y="807.6" font-size="13.3" font-weight="bold" text-anchor="middle" fill="#000">10</text>
<line x1="306.8" y1="790.2" x2="306.8" y2="795.2" stroke="#000" stroke-width="1.6"/>
<text x="306.8" y="807.6" font-size="13.3" font-weight="bold" text-anchor="middle" fill="#000">12</text>
<text x="37" y="683.5" font-size="14.6" font-weight="bold" text-anchor="middle" fill="#000" transform="rotate(-90 37 683.5)">R(Å)</text>
<text x="35.5" y="589.4" font-size="22" font-weight="bold" text-anchor="start" fill="#000">(g)</text>
<text x="211" y="597.4" font-size="18.3" font-weight="bold" text-anchor="start" fill="#fff">Ni<tspan font-size="12.4" dy="4">SA</tspan><tspan dy="-4">-O/Mo</tspan><tspan font-size="12.4" dy="4">2</tspan><tspan dy="-4">C</tspan></text>
<text x="166.9" y="710.4" font-size="18.3" font-weight="bold" text-anchor="start" fill="#fff">Ni-O-Mo</text>
</g>
<g id="panel_h">
<clipPath id="ch"><rect x="377.4" y="572.6" width="259.2" height="217.9"/></clipPath>
<g clip-path="url(#ch)">
<polyline points="377.4,780.3 378.6,778.1 379.7,776.1 380.9,774.4 382.1,772.9 383.3,771.6 384.5,770.4 385.7,769.3 386.8,768.5 388,768.2 389.2,768.6 390.4,769.9 391.6,771.5 392.8,773.1 393.9,775.2 395.1,777.6 396.3,779.5 397.5,780.3 398.7,779.6 399.9,777.8 401.1,775.5 402.2,773.2 403.4,771.5 404.6,769.8 405.8,768.1 407,766.6 408.2,765.6 409.3,764.7 410.5,764.2 411.7,764.4 412.9,765.5 414.1,767 415.3,768.5 416.4,770.2 417.6,772.2 418.8,773.9 420,774.8 421.2,773.9 422.4,769.9 423.5,764.8 424.7,760.3 425.9,755.8 427.1,751.2 428.3,747 429.5,743.4 430.6,740.5 431.8,737.7 433,735.3 434.2,733.7 435.4,733.3 436.6,734.1 437.8,735.9 438.9,738.1 440.1,741.5 441.3,746.9 442.5,752.8 443.7,758.2 444.9,764.2 446,769.5 447.2,772.2 448.4,772.6 449.6,771.8 450.8,764.7 452,756.7 453.1,747.2 454.3,737.1 455.5,727.5 456.7,718.3 457.9,709.3 459.1,700.4 460.2,691.8 461.4,683.6 462.6,675.5 463.8,667.6 465,660.2 466.2,653.2 467.3,646.6 468.5,640.2 469.7,634.3 470.9,629.1 472.1,624.6 473.3,620.5 474.5,616.8 475.6,613.6 476.8,610.9 478,608.5 479.2,606.4 480.4,605.6 481.6,606.5 482.7,608.3 483.9,610.5 485.1,614.1 486.3,618.8 487.5,624.2 488.7,630.7 489.8,638.7 491,647.4 492.2,656.1 493.4,665.4 494.6,675.1 495.8,685 496.9,695.3 498.1,705.8 499.3,716 500.5,725.6 501.7,735.1 502.9,743.6 504,750 505.2,755.9 506.4,760.7 507.6,762.8 508.8,762.5 510,761.7 511.2,760.6 512.3,759.5 513.5,758.3 514.7,756.9 515.9,755.3 517.1,753.4 518.3,751.1 519.4,748.1 520.6,744.9 521.8,741.6 523,738.6 524.2,735.4 525.4,732.1 526.5,729.2 527.7,726.7 528.9,724.6 530.1,722.6 531.3,721.3 532.5,721.2 533.6,721.8 534.8,722.8 536,724 537.2,726.2 538.4,729.6 539.6,733.4 540.7,737.6 541.9,742.6 543.1,747.6 544.3,751.8 545.5,755.7 546.7,759.2 547.9,762.4 549,765 550.2,766.9 551.4,768.4 552.6,769.7 553.8,771 555,772.5 556.1,774.2 557.3,776 558.5,777.8 559.7,779.7 560.9,781.8 562.1,784.3 563.2,786.4 564.4,786.9 565.6,785.3 566.8,782.9 568,779.5 569.2,775.1 570.3,770.8 571.5,767.7 572.7,764.8 573.9,762.3 575.1,760.2 576.3,758.7 577.4,757.6 578.6,756.6 579.8,756.1 581,756.2 582.2,756.9 583.4,757.9 584.6,759.1 585.7,760.9 586.9,763.3 588.1,766 589.3,768.7 590.5,771.6 591.7,775.2 592.8,778.7 594,781.6 595.2,783.1 596.4,783.9 597.6,784.3 598.8,782.8 599.9,779.8 601.1,777.7 602.3,775.8 603.5,774.3 604.7,773.4 605.9,772.8 607,772.4 608.2,772.2 609.4,772.4 610.6,773 611.8,773.8 613,774.8 614.1,776.5 615.3,778.5 616.5,780.3 617.7,781.9 618.9,783.5 620.1,784.8 621.3,785.5 622.4,786.1 623.6,786.6 624.8,786.9 626,787 627.2,786.9 628.4,786.6 629.5,786.2 630.7,785.8 631.9,785.4 633.1,784.8 634.3,784.1 635.5,783.3 636.6,782.4" fill="none" stroke="#e8141c" stroke-width="1.2" stroke-linejoin="round"/>
<g fill="#fff" stroke="#111" stroke-width="0.8"><circle cx="377.4" cy="784.3" r="2.4"/><circle cx="379.4" cy="782.7" r="2.4"/><circle cx="381.5" cy="781.1" r="2.4"/><circle cx="383.5" cy="779.7" r="2.4"/><circle cx="385.5" cy="778.1" r="2.4"/><circle cx="387.6" cy="777.1" r="2.4"/><circle cx="389.6" cy="777.4" r="2.4"/><circle cx="391.7" cy="778.6" r="2.4"/><circle cx="393.7" cy="780.2" r="2.4"/><circle cx="395.7" cy="782.1" r="2.4"/><circle cx="397.8" cy="782.9" r="2.4"/><circle cx="399.8" cy="781.7" r="2.4"/><circle cx="401.9" cy="779.8" r="2.4"/><circle cx="403.9" cy="778.1" r="2.4"/><circle cx="406" cy="776.4" r="2.4"/><circle cx="408" cy="775.4" r="2.4"/><circle cx="410" cy="775.6" r="2.4"/><circle cx="412.1" cy="776.1" r="2.4"/><circle cx="414.1" cy="777.9" r="2.4"/><circle cx="416.2" cy="780.2" r="2.4"/><circle cx="418.2" cy="781.1" r="2.4"/><circle cx="420.2" cy="781.6" r="2.4"/><circle cx="422.3" cy="779.7" r="2.4"/><circle cx="424.3" cy="776.3" r="2.4"/><circle cx="426.4" cy="773.3" r="2.4"/><circle cx="428.4" cy="770.6" r="2.4"/><circle cx="430.5" cy="769.3" r="2.4"/><circle cx="432.5" cy="768.8" r="2.4"/><circle cx="434.5" cy="768.4" r="2.4"/><circle cx="436.6" cy="767.5" r="2.4"/><circle cx="438.6" cy="766.1" r="2.4"/><circle cx="440.7" cy="761.6" r="2.4"/><circle cx="442.7" cy="753.5" r="2.4"/><circle cx="444.7" cy="744.3" r="2.4"/><circle cx="446.8" cy="737.4" r="2.4"/><circle cx="448.8" cy="732.7" r="2.4"/><circle cx="450.9" cy="728.9" r="2.4"/><circle cx="452.9" cy="725.8" r="2.4"/><circle cx="455" cy="721.3" r="2.4"/><circle cx="457" cy="714.4" r="2.4"/><circle cx="459" cy="704.3" r="2.4"/><circle cx="461.1" cy="693.1" r="2.4"/><circle cx="463.1" cy="682.1" r="2.4"/><circle cx="465.2" cy="669.1" r="2.4"/><circle cx="467.2" cy="656" r="2.4"/><circle cx="469.2" cy="645.6" r="2.4"/><circle cx="471.3" cy="633.5" r="2.4"/><circle cx="473.3" cy="622.7" r="2.4"/><circle cx="475.4" cy="614.4" r="2.4"/><circle cx="477.4" cy="609.9" r="2.4"/><circle cx="479.4" cy="607" r="2.4"/><circle cx="481.5" cy="605.9" r="2.4"/><circle cx="483.5" cy="608.5" r="2.4"/><circle cx="485.6" cy="612.2" r="2.4"/><circle cx="487.6" cy="621.3" r="2.4"/><circle cx="489.7" cy="637" r="2.4"/><circle cx="491.7" cy="653.9" r="2.4"/><circle cx="493.7" cy="673.1" r="2.4"/><circle cx="495.8" cy="695.1" r="2.4"/><circle cx="497.8" cy="714.8" r="2.4"/><circle cx="499.9" cy="732" r="2.4"/><circle cx="501.9" cy="748.4" r="2.4"/><circle cx="503.9" cy="762.3" r="2.4"/><circle cx="506" cy="771.5" r="2.4"/><circle cx="508" cy="774.5" r="2.4"/><circle cx="510.1" cy="774" r="2.4"/><circle cx="512.1" cy="770.1" r="2.4"/><circle cx="514.2" cy="765.4" r="2.4"/><circle cx="516.2" cy="760.3" r="2.4"/><circle cx="518.2" cy="755" r="2.4"/><circle cx="520.3" cy="749.2" r="2.4"/><circle cx="522.3" cy="743.1" r="2.4"/><circle cx="524.4" cy="736.6" r="2.4"/><circle cx="526.4" cy="730.7" r="2.4"/><circle cx="528.4" cy="726.3" r="2.4"/><circle cx="530.5" cy="723.3" r="2.4"/><circle cx="532.5" cy="722.1" r="2.4"/><circle cx="534.6" cy="722.8" r="2.4"/><circle cx="536.6" cy="725.4" r="2.4"/><circle cx="538.7" cy="729" r="2.4"/><circle cx="540.7" cy="734" r="2.4"/><circle cx="542.7" cy="741" r="2.4"/><circle cx="544.8" cy="748.2" r="2.4"/><circle cx="546.8" cy="755.4" r="2.4"/><circle cx="548.9" cy="760.9" r="2.4"/><circle cx="550.9" cy="765.3" r="2.4"/><circle cx="552.9" cy="767.6" r="2.4"/><circle cx="555" cy="768.8" r="2.4"/><circle cx="557" cy="770.3" r="2.4"/><circle cx="559.1" cy="772.4" r="2.4"/><circle cx="561.1" cy="775.1" r="2.4"/><circle cx="563.1" cy="778.9" r="2.4"/><circle cx="565.2" cy="781.5" r="2.4"/><circle cx="567.2" cy="783.5" r="2.4"/><circle cx="569.3" cy="783.7" r="2.4"/><circle cx="571.3" cy="783.2" r="2.4"/><circle cx="573.4" cy="782.4" r="2.4"/><circle cx="575.4" cy="781.1" r="2.4"/><circle cx="577.4" cy="780.5" r="2.4"/><circle cx="579.5" cy="780.3" r="2.4"/><circle cx="581.5" cy="780.5" r="2.4"/><circle cx="583.6" cy="781.3" r="2.4"/><circle cx="585.6" cy="782.3" r="2.4"/><circle cx="587.6" cy="783.5" r="2.4"/><circle cx="589.7" cy="784.4" r="2.4"/><circle cx="591.7" cy="785" r="2.4"/><circle cx="593.8" cy="785" r="2.4"/><circle cx="595.8" cy="784.7" r="2.4"/><circle cx="597.9" cy="784.2" r="2.4"/><circle cx="599.9" cy="783.6" r="2.4"/><circle cx="601.9" cy="783.1" r="2.4"/><circle cx="604" cy="783" r="2.4"/><circle cx="606" cy="783.1" r="2.4"/><circle cx="608.1" cy="783.4" r="2.4"/><circle cx="610.1" cy="783.9" r="2.4"/><circle cx="612.1" cy="784.6" r="2.4"/><circle cx="614.2" cy="785.2" r="2.4"/><circle cx="616.2" cy="785.6" r="2.4"/><circle cx="618.3" cy="786" r="2.4"/><circle cx="620.3" cy="786.2" r="2.4"/><circle cx="622.4" cy="786.2" r="2.4"/><circle cx="624.4" cy="786.2" r="2.4"/><circle cx="626.4" cy="786.2" r="2.4"/><circle cx="628.5" cy="786.2" r="2.4"/><circle cx="630.5" cy="786.4" r="2.4"/><circle cx="632.6" cy="786.8" r="2.4"/><circle cx="634.6" cy="787.2" r="2.4"/><circle cx="636.6" cy="787.8" r="2.4"/></g>
</g>
<rect x="377.4" y="572.6" width="259.2" height="217.9" fill="none" stroke="#000" stroke-width="1.1"/>
<line x1="377.4" y1="790.5" x2="377.4" y2="794.5" stroke="#000" stroke-width="1.1"/>
<text x="377.4" y="808" font-size="13.6" font-weight="bold" text-anchor="middle" fill="#000">0</text>
<line x1="507.1" y1="790.5" x2="507.1" y2="794.5" stroke="#000" stroke-width="1.1"/>
<text x="507.1" y="808" font-size="13.6" font-weight="bold" text-anchor="middle" fill="#000">2</text>
<line x1="636.6" y1="790.5" x2="636.6" y2="794.5" stroke="#000" stroke-width="1.1"/>
<text x="636.6" y="808" font-size="13.6" font-weight="bold" text-anchor="middle" fill="#000">4</text>
<text x="508" y="821.7" font-size="13.6" font-weight="bold" text-anchor="middle" fill="#000">R(Å)</text>
<text x="367" y="681.7" font-size="13.6" font-weight="bold" text-anchor="middle" fill="#000" transform="rotate(-90 367 681.7)">|FT(κ<tspan font-size="9.2" dy="-5.2">3</tspan><tspan dy="5.2">χ)(κ)| (a.u.)</tspan></text>
<text x="346.7" y="590" font-size="22" font-weight="bold" text-anchor="start" fill="#000">(h)</text>
<line x1="476.8" y1="584.7" x2="501" y2="584.7" stroke="#f06a6a" stroke-width="1.1"/>
<circle cx="488.4" cy="602.4" r="1.9" fill="#fff" stroke="#999" stroke-width="0.7"/>
<text x="503.6" y="588.7" font-size="13.8" font-weight="bold" text-anchor="start" fill="#000">Experimental result</text>
<text x="503.6" y="605.6" font-size="13.8" font-weight="bold" text-anchor="start" fill="#000">Fitting curve</text>
</g>
<g id="panel_i">
<clipPath id="cI"><rect x="691.9" y="572.6" width="258.7" height="217.9"/></clipPath>
<g clip-path="url(#cI)">
<polyline points="691.9,691.1 692.8,691.1 693.6,691.1 694.5,691.2 695.4,691.2 696.2,691.2 697.1,691.3 698,691.3 698.8,691.3 699.7,691.4 700.6,691.4 701.4,691.4 702.3,691.5 703.1,691.5 704,691.5 704.9,691.5 705.7,691.8 706.6,692.1 707.5,692.4 708.3,692.7 709.2,692.8 710.1,692.6 710.9,692.5 711.8,692.4 712.7,692.2 713.5,692.1 714.4,691.9 715.3,691.7 716.1,691.5 717,691.3 717.9,690.8 718.7,690.2 719.6,689.6 720.5,688.9 721.3,688.4 722.2,688 723,687.7 723.9,687.3 724.8,686.9 725.6,686.5 726.5,686.1 727.4,685.7 728.2,685.4 729.1,684.9 730,684.5 730.8,684.1 731.7,683.7 732.6,683.4 733.4,683 734.3,682.7 735.2,682.5 736,682.3 736.9,682.5 737.8,682.8 738.6,683 739.5,683.4 740.4,683.6 741.2,683.8 742.1,684.1 742.9,684.4 743.8,684.9 744.7,684.9 745.5,685.1 746.4,685.4 747.3,686 748.1,687 749,688.4 749.9,689.8 750.7,691.3 751.6,692.8 752.5,694.6 753.3,696.4 754.2,698.3 755.1,700.1 755.9,701.8 756.8,703.5 757.7,705.2 758.5,707 759.4,708.5 760.3,709.9 761.1,711 762,711.9 762.8,712.6 763.7,713.3 764.6,713.7 765.4,713.8 766.3,713.4 767.2,712.6 768,711.4 768.9,710.2 769.8,708.8 770.6,706.9 771.5,704.8 772.4,702.5 773.2,700 774.1,697.3 775,694.4 775.8,691.3 776.7,688.3 777.6,685.4 778.4,682.6 779.3,679.8 780.2,677.1 781,674.7 781.9,672.5 782.7,670.4 783.6,668.5 784.5,666.8 785.3,665.6 786.2,664.7 787.1,663.8 787.9,663.1 788.8,662.7 789.7,662.7 790.5,662.9 791.4,663.5 792.3,664.2 793.1,665.1 794,666.3 794.9,668 795.7,670.2 796.6,672.6 797.5,675 798.3,677.2 799.2,679.5 800.1,681.9 800.9,684.3 801.8,686.8 802.6,689.5 803.5,692.2 804.4,695 805.2,697.9 806.1,700.7 807,703.3 807.8,705.8 808.7,708.1 809.6,710.2 810.4,712.1 811.3,713.8 812.2,715.4 813,716.7 813.9,717.9 814.8,718.4 815.6,717.9 816.5,717.1 817.4,716.1 818.2,714.7 819.1,713.2 820,711.6 820.8,709.9 821.7,707.9 822.5,706.9 823.4,705.7 824.3,704.4 825.1,702.9 826,700.9 826.9,698.4 827.7,695.9 828.6,693.5 829.5,691 830.3,688.6 831.2,686.2 832.1,683.9 832.9,681.6 833.8,679.4 834.7,677.3 835.5,675.2 836.4,673.3 837.3,671.4 838.1,669.6 839,667.9 839.9,666.4 840.7,665 841.6,662.8 842.4,660.7 843.3,658.9 844.2,657.8 845,657.1 845.9,658.7 846.8,660.5 847.6,662.5 848.5,664.9 849.4,667.8 850.2,671.1 851.1,673.6 852,676 852.8,678.5 853.7,681.3 854.6,684.1 855.4,687.1 856.3,690.3 857.2,693.7 858,697.1 858.9,700.9 859.8,704.5 860.6,708 861.5,711.5 862.3,714.5 863.2,717 864.1,719.3 864.9,721.3 865.8,722.6 866.7,722.4 867.5,721.7 868.4,720.7 869.3,719.6 870.1,717.7 871,715.2 871.9,712.3 872.7,709.2 873.6,705.9 874.5,702.4 875.3,698.8 876.2,695 877.1,690.9 877.9,686.5 878.8,682 879.7,677.4 880.5,672.1 881.4,667.3 882.2,663 883.1,660.9 884,660.6 884.8,659.6 885.7,658.5 886.6,659.1 887.4,661.1 888.3,663.3 889.2,665 890,665.8 890.9,667.1 891.8,668.8 892.6,670.6 893.5,672.7 894.4,675.2 895.2,678.7 896.1,682.2 897,685.7 897.8,689.1 898.7,692.9 899.6,696.9 900.4,700.6 901.3,704.4 902.1,708.2 903,711.7 903.9,714 904.7,715.3 905.6,715.3 906.5,714.9 907.3,714 908.2,712.4 909.1,710.2 909.9,708.1 910.8,706.2 911.7,704.3 912.5,702.4 913.4,701 914.3,700.2 915.1,699.5 916,698.7 916.9,697.7 917.7,696.8 918.6,696.5 919.5,698.1 920.3,699.6 921.2,697.4 922,695.2 922.9,694.9 923.8,696.1 924.6,697.1 925.5,695.3 926.4,693.4 927.2,693.9 928.1,694.5 929,695 929.8,693.7 930.7,692 931.6,690.2 932.4,689.5 933.3,689.2 934.2,689 935,688.1 935.9,686.8 936.8,685.4 937.6,684.6 938.5,684.4 939.4,684.3 940.2,684.7 941.1,685.8 941.9,687 942.8,687.5 943.7,686.6 944.5,686.2 945.4,689 946.3,690.8 947.1,689.3 948,688.2 948.9,690 949.7,691.9 950.6,693.9" fill="none" stroke="#e8141c" stroke-width="1.3" stroke-linejoin="miter"/>
<g fill="#fff" stroke="#222" stroke-width="0.8"><circle cx="691.9" cy="691.1" r="1.8"/><circle cx="693" cy="691.1" r="1.8"/><circle cx="694.2" cy="691.1" r="1.8"/><circle cx="695.3" cy="691.1" r="1.8"/><circle cx="696.4" cy="691.1" r="1.8"/><circle cx="697.6" cy="691.1" r="1.8"/><circle cx="698.7" cy="691.1" r="1.8"/><circle cx="699.8" cy="691.1" r="1.8"/><circle cx="700.9" cy="691.1" r="1.8"/><circle cx="702.1" cy="691.1" r="1.8"/><circle cx="703.2" cy="691" r="1.8"/><circle cx="704.3" cy="691" r="1.8"/><circle cx="705.5" cy="690.9" r="1.8"/><circle cx="706.6" cy="690.7" r="1.8"/><circle cx="707.7" cy="690.6" r="1.8"/><circle cx="708.9" cy="690.4" r="1.8"/><circle cx="710" cy="690.3" r="1.8"/><circle cx="711.1" cy="690.1" r="1.8"/><circle cx="712.2" cy="690" r="1.8"/><circle cx="713.4" cy="689.8" r="1.8"/><circle cx="714.5" cy="689.6" r="1.8"/><circle cx="715.6" cy="689.4" r="1.8"/><circle cx="716.8" cy="689.2" r="1.8"/><circle cx="717.9" cy="689" r="1.8"/><circle cx="719" cy="688.7" r="1.8"/><circle cx="720.2" cy="688.3" r="1.8"/><circle cx="721.3" cy="687.9" r="1.8"/><circle cx="722.4" cy="687.4" r="1.8"/><circle cx="723.5" cy="686.9" r="1.8"/><circle cx="724.7" cy="686.4" r="1.8"/><circle cx="725.8" cy="685.9" r="1.8"/><circle cx="726.9" cy="685.4" r="1.8"/><circle cx="728.1" cy="684.9" r="1.8"/><circle cx="729.2" cy="684.4" r="1.8"/><circle cx="730.3" cy="683.8" r="1.8"/><circle cx="731.5" cy="683.3" r="1.8"/><circle cx="732.6" cy="682.8" r="1.8"/><circle cx="733.7" cy="682.4" r="1.8"/><circle cx="734.8" cy="682" r="1.8"/><circle cx="736" cy="681.6" r="1.8"/><circle cx="737.1" cy="681.3" r="1.8"/><circle cx="738.2" cy="681" r="1.8"/><circle cx="739.4" cy="680.9" r="1.8"/><circle cx="740.5" cy="680.9" r="1.8"/><circle cx="741.6" cy="681.2" r="1.8"/><circle cx="742.8" cy="681.7" r="1.8"/><circle cx="743.9" cy="682.3" r="1.8"/><circle cx="745" cy="682.9" r="1.8"/><circle cx="746.1" cy="683.9" r="1.8"/><circle cx="747.3" cy="685.2" r="1.8"/><circle cx="748.4" cy="686.9" r="1.8"/><circle cx="749.5" cy="688.7" r="1.8"/><circle cx="750.7" cy="690.5" r="1.8"/><circle cx="751.8" cy="692.6" r="1.8"/><circle cx="752.9" cy="694.9" r="1.8"/><circle cx="754.1" cy="697.3" r="1.8"/><circle cx="755.2" cy="699.7" r="1.8"/><circle cx="756.3" cy="701.9" r="1.8"/><circle cx="757.4" cy="704.1" r="1.8"/><circle cx="758.6" cy="706.4" r="1.8"/><circle cx="759.7" cy="708.4" r="1.8"/><circle cx="760.8" cy="710" r="1.8"/><circle cx="762" cy="711.1" r="1.8"/><circle cx="763.1" cy="712.1" r="1.8"/><circle cx="764.2" cy="712.8" r="1.8"/><circle cx="765.3" cy="713.1" r="1.8"/><circle cx="766.5" cy="712.6" r="1.8"/><circle cx="767.6" cy="711.4" r="1.8"/><circle cx="768.7" cy="709.8" r="1.8"/><circle cx="769.9" cy="708.1" r="1.8"/><circle cx="771" cy="705.8" r="1.8"/><circle cx="772.1" cy="702.9" r="1.8"/><circle cx="773.3" cy="699.8" r="1.8"/><circle cx="774.4" cy="696.4" r="1.8"/><circle cx="775.5" cy="692.5" r="1.8"/><circle cx="776.6" cy="688.5" r="1.8"/><circle cx="777.8" cy="684.8" r="1.8"/><circle cx="778.9" cy="681.2" r="1.8"/><circle cx="780" cy="677.7" r="1.8"/><circle cx="781.2" cy="674.6" r="1.8"/><circle cx="782.3" cy="671.9" r="1.8"/><circle cx="783.4" cy="669.3" r="1.8"/><circle cx="784.6" cy="667.2" r="1.8"/><circle cx="785.7" cy="665.8" r="1.8"/><circle cx="786.8" cy="664.7" r="1.8"/><circle cx="787.9" cy="663.9" r="1.8"/><circle cx="789.1" cy="663.4" r="1.8"/><circle cx="790.2" cy="663.5" r="1.8"/><circle cx="791.3" cy="664.1" r="1.8"/><circle cx="792.5" cy="665.1" r="1.8"/><circle cx="793.6" cy="666.2" r="1.8"/><circle cx="794.7" cy="668.2" r="1.8"/><circle cx="795.9" cy="671" r="1.8"/><circle cx="797" cy="674.1" r="1.8"/><circle cx="798.1" cy="677" r="1.8"/><circle cx="799.2" cy="680" r="1.8"/><circle cx="800.4" cy="683" r="1.8"/><circle cx="801.5" cy="686.1" r="1.8"/><circle cx="802.6" cy="689.5" r="1.8"/><circle cx="803.8" cy="693" r="1.8"/><circle cx="804.9" cy="696.5" r="1.8"/><circle cx="806" cy="699.5" r="1.8"/><circle cx="807.2" cy="702.4" r="1.8"/><circle cx="808.3" cy="705.1" r="1.8"/><circle cx="809.4" cy="707.4" r="1.8"/><circle cx="810.5" cy="709.3" r="1.8"/><circle cx="811.7" cy="711" r="1.8"/><circle cx="812.8" cy="712.4" r="1.8"/><circle cx="813.9" cy="713.3" r="1.8"/><circle cx="815.1" cy="714" r="1.8"/><circle cx="816.2" cy="714.4" r="1.8"/><circle cx="817.3" cy="714.2" r="1.8"/><circle cx="818.5" cy="713.5" r="1.8"/><circle cx="819.6" cy="712.5" r="1.8"/><circle cx="820.7" cy="711.3" r="1.8"/><circle cx="821.8" cy="709.8" r="1.8"/><circle cx="823" cy="707.8" r="1.8"/><circle cx="824.1" cy="705.6" r="1.8"/><circle cx="825.2" cy="703" r="1.8"/><circle cx="826.4" cy="700" r="1.8"/><circle cx="827.5" cy="696.8" r="1.8"/><circle cx="828.6" cy="693.7" r="1.8"/><circle cx="829.8" cy="690.6" r="1.8"/><circle cx="830.9" cy="687.5" r="1.8"/><circle cx="832" cy="684.6" r="1.8"/><circle cx="833.1" cy="681.8" r="1.8"/><circle cx="834.3" cy="679" r="1.8"/><circle cx="835.4" cy="676.4" r="1.8"/><circle cx="836.5" cy="674" r="1.8"/><circle cx="837.7" cy="671.7" r="1.8"/><circle cx="838.8" cy="669.5" r="1.8"/><circle cx="839.9" cy="667.6" r="1.8"/><circle cx="841" cy="666.2" r="1.8"/><circle cx="842.2" cy="664.9" r="1.8"/><circle cx="843.3" cy="663.8" r="1.8"/><circle cx="844.4" cy="663.4" r="1.8"/><circle cx="845.6" cy="663.6" r="1.8"/><circle cx="846.7" cy="664.3" r="1.8"/><circle cx="847.8" cy="665.5" r="1.8"/><circle cx="849" cy="667.8" r="1.8"/><circle cx="850.1" cy="670.8" r="1.8"/><circle cx="851.2" cy="674.1" r="1.8"/><circle cx="852.3" cy="677.4" r="1.8"/><circle cx="853.5" cy="681.2" r="1.8"/><circle cx="854.6" cy="685.2" r="1.8"/><circle cx="855.7" cy="689.3" r="1.8"/><circle cx="856.9" cy="693.9" r="1.8"/><circle cx="858" cy="698.6" r="1.8"/><circle cx="859.1" cy="703.1" r="1.8"/><circle cx="860.3" cy="707.2" r="1.8"/><circle cx="861.4" cy="711.3" r="1.8"/><circle cx="862.5" cy="715" r="1.8"/><circle cx="863.6" cy="717.9" r="1.8"/><circle cx="864.8" cy="720.5" r="1.8"/><circle cx="865.9" cy="721.9" r="1.8"/><circle cx="867" cy="721.7" r="1.8"/><circle cx="868.2" cy="720.9" r="1.8"/><circle cx="869.3" cy="719.7" r="1.8"/><circle cx="870.4" cy="717.6" r="1.8"/><circle cx="871.6" cy="714.2" r="1.8"/><circle cx="872.7" cy="710.5" r="1.8"/><circle cx="873.8" cy="706.6" r="1.8"/><circle cx="874.9" cy="702.2" r="1.8"/><circle cx="876.1" cy="697.3" r="1.8"/><circle cx="877.2" cy="692.2" r="1.8"/><circle cx="878.3" cy="686.3" r="1.8"/><circle cx="879.5" cy="680.8" r="1.8"/><circle cx="880.6" cy="675.7" r="1.8"/><circle cx="881.7" cy="671.3" r="1.8"/><circle cx="882.9" cy="668" r="1.8"/><circle cx="884" cy="665.1" r="1.8"/><circle cx="885.1" cy="663.4" r="1.8"/><circle cx="886.2" cy="663.5" r="1.8"/><circle cx="887.4" cy="663.9" r="1.8"/><circle cx="888.5" cy="664.5" r="1.8"/><circle cx="889.6" cy="665.5" r="1.8"/><circle cx="890.8" cy="667.6" r="1.8"/><circle cx="891.9" cy="670.3" r="1.8"/><circle cx="893" cy="673.1" r="1.8"/><circle cx="894.2" cy="676.5" r="1.8"/><circle cx="895.3" cy="680.5" r="1.8"/><circle cx="896.4" cy="684.5" r="1.8"/><circle cx="897.5" cy="688.4" r="1.8"/><circle cx="898.7" cy="692.3" r="1.8"/><circle cx="899.8" cy="696.1" r="1.8"/><circle cx="900.9" cy="699.6" r="1.8"/><circle cx="902.1" cy="703.3" r="1.8"/><circle cx="903.2" cy="706.5" r="1.8"/><circle cx="904.3" cy="707.7" r="1.8"/><circle cx="905.4" cy="707.1" r="1.8"/><circle cx="906.6" cy="706.1" r="1.8"/><circle cx="907.7" cy="704.5" r="1.8"/><circle cx="908.8" cy="702.4" r="1.8"/><circle cx="910" cy="700.3" r="1.8"/><circle cx="911.1" cy="698.4" r="1.8"/><circle cx="912.2" cy="696.7" r="1.8"/><circle cx="913.4" cy="695" r="1.8"/><circle cx="914.5" cy="693.6" r="1.8"/><circle cx="915.6" cy="692.4" r="1.8"/><circle cx="916.7" cy="691.4" r="1.8"/><circle cx="917.9" cy="690.5" r="1.8"/><circle cx="919" cy="690" r="1.8"/><circle cx="920.1" cy="689.5" r="1.8"/><circle cx="921.3" cy="689.2" r="1.8"/><circle cx="922.4" cy="688.9" r="1.8"/><circle cx="923.5" cy="688.7" r="1.8"/><circle cx="924.7" cy="688.6" r="1.8"/><circle cx="925.8" cy="688.5" r="1.8"/><circle cx="926.9" cy="688.2" r="1.8"/><circle cx="928" cy="687.7" r="1.8"/><circle cx="929.2" cy="687" r="1.8"/><circle cx="930.3" cy="686.3" r="1.8"/><circle cx="931.4" cy="685.6" r="1.8"/><circle cx="932.6" cy="684.9" r="1.8"/><circle cx="933.7" cy="684.1" r="1.8"/><circle cx="934.8" cy="683.3" r="1.8"/><circle cx="936" cy="682.4" r="1.8"/><circle cx="937.1" cy="681.6" r="1.8"/><circle cx="938.2" cy="680.9" r="1.8"/><circle cx="939.3" cy="680.7" r="1.8"/><circle cx="940.5" cy="680.5" r="1.8"/><circle cx="941.6" cy="680.3" r="1.8"/><circle cx="942.7" cy="680.3" r="1.8"/><circle cx="943.9" cy="680.7" r="1.8"/><circle cx="945" cy="681.6" r="1.8"/><circle cx="946.1" cy="682.6" r="1.8"/><circle cx="947.3" cy="683.6" r="1.8"/><circle cx="948.4" cy="684.7" r="1.8"/><circle cx="949.5" cy="686.1" r="1.8"/><circle cx="950.6" cy="687.6" r="1.8"/></g>
</g>
<rect x="691.9" y="572.6" width="258.7" height="217.9" fill="none" stroke="#444" stroke-width="1.4"/>
<line x1="691.9" y1="790.5" x2="691.9" y2="794.5" stroke="#444" stroke-width="1.2"/>
<text x="691.9" y="807.8" font-size="13.6" font-weight="bold" text-anchor="middle" fill="#000">0</text>
<line x1="741.6" y1="790.5" x2="741.6" y2="794.5" stroke="#444" stroke-width="1.2"/>
<text x="741.6" y="807.8" font-size="13.6" font-weight="bold" text-anchor="middle" fill="#000">2</text>
<line x1="791.6" y1="790.5" x2="791.6" y2="794.5" stroke="#444" stroke-width="1.2"/>
<text x="791.6" y="807.8" font-size="13.6" font-weight="bold" text-anchor="middle" fill="#000">4</text>
<line x1="841" y1="790.5" x2="841" y2="794.5" stroke="#444" stroke-width="1.2"/>
<text x="841" y="807.8" font-size="13.6" font-weight="bold" text-anchor="middle" fill="#000">6</text>
<line x1="890.7" y1="790.5" x2="890.7" y2="794.5" stroke="#444" stroke-width="1.2"/>
<text x="890.7" y="807.8" font-size="13.6" font-weight="bold" text-anchor="middle" fill="#000">8</text>
<line x1="939.4" y1="790.5" x2="939.4" y2="794.5" stroke="#444" stroke-width="1.2"/>
<text x="939.4" y="807.8" font-size="13.6" font-weight="bold" text-anchor="middle" fill="#000">10</text>
<text x="815.5" y="820.7" font-size="13.5" font-weight="bold" text-anchor="middle" fill="#000">R(Å)</text>
<text x="681.5" y="681.8" font-size="13.6" font-weight="bold" text-anchor="middle" fill="#000" transform="rotate(-90 681.5 681.8)">|FT(κ<tspan font-size="9.2" dy="-5.2">3</tspan><tspan dy="5.2">χ)(κ)| (a.u.)</tspan></text>
<text x="664.8" y="590.5" font-size="22" font-weight="bold" text-anchor="start" fill="#000">(i)</text>
<line x1="788.9" y1="588.2" x2="811.7" y2="588.2" stroke="#e8141c" stroke-width="1.5"/>
<circle cx="800.7" cy="606.4" r="1.7" fill="#fff" stroke="#222" stroke-width="0.8"/>
<text x="815.8" y="592.2" font-size="13.8" font-weight="bold" text-anchor="start" fill="#000">Experimental result</text>
<text x="815.8" y="610.2" font-size="13.8" font-weight="bold" text-anchor="start" fill="#000">Fitting curve</text>
</g>
</svg>
</body></html>
